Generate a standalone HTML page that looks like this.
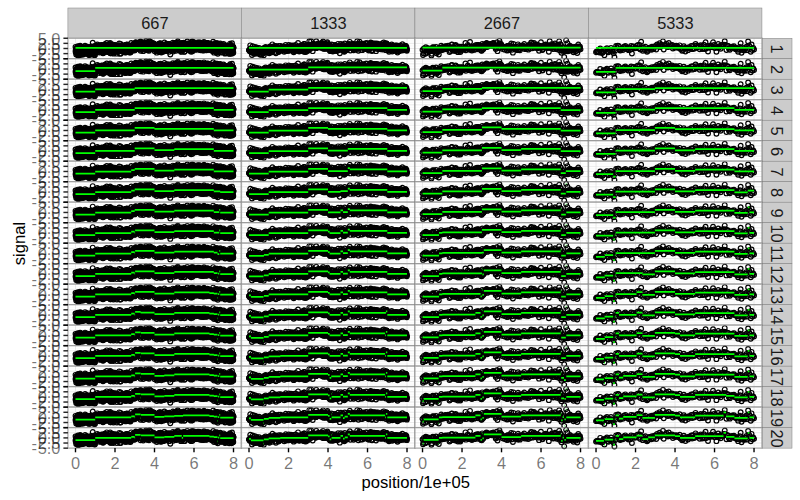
<!DOCTYPE html>
<html lang="en"><head><meta charset="utf-8"><title>signal segmentation</title>
<style>html,body{margin:0;padding:0;background:#fff}svg{display:block}text{font-family:"Liberation Sans",Arial,Helvetica,sans-serif;font-size:16.4px}.ax{fill:#000;fill-opacity:0.54}.st{fill:#1a1a1a}.pt circle{fill:none;stroke:#000;stroke-width:1.2}.seg{fill:none;stroke:#00ff00;stroke-width:1.75}</style></head><body>
<svg width="800" height="500" viewBox="0 0 800 500">
<rect width="800" height="500" fill="#fff"/>
<defs>
<g id="bg"><rect x="0" y="0" width="173.51" height="20.495" fill="#fff"/><line x1="27.35" x2="27.35" y1="0" y2="20.495" stroke="#fafafa" stroke-width="1.2"/><line x1="66.85" x2="66.85" y1="0" y2="20.495" stroke="#fafafa" stroke-width="1.2"/><line x1="106.35" x2="106.35" y1="0" y2="20.495" stroke="#fafafa" stroke-width="1.2"/><line x1="145.85" x2="145.85" y1="0" y2="20.495" stroke="#fafafa" stroke-width="1.2"/><line x1="0" x2="173.51" y1="2.56" y2="2.56" stroke="#fafafa" stroke-width="1.2"/><line x1="0" x2="173.51" y1="7.69" y2="7.69" stroke="#fafafa" stroke-width="1.2"/><line x1="0" x2="173.51" y1="12.81" y2="12.81" stroke="#fafafa" stroke-width="1.2"/><line x1="0" x2="173.51" y1="17.93" y2="17.93" stroke="#fafafa" stroke-width="1.2"/><line x1="7.60" x2="7.60" y1="0" y2="20.495" stroke="#e5e5e5" stroke-width="0.8"/><line x1="47.10" x2="47.10" y1="0" y2="20.495" stroke="#e5e5e5" stroke-width="0.8"/><line x1="86.60" x2="86.60" y1="0" y2="20.495" stroke="#e5e5e5" stroke-width="0.8"/><line x1="126.10" x2="126.10" y1="0" y2="20.495" stroke="#e5e5e5" stroke-width="0.8"/><line x1="165.60" x2="165.60" y1="0" y2="20.495" stroke="#e5e5e5" stroke-width="0.8"/><line x1="0" x2="173.51" y1="5.12" y2="5.12" stroke="#e5e5e5" stroke-width="0.8"/><line x1="0" x2="173.51" y1="10.25" y2="10.25" stroke="#e5e5e5" stroke-width="0.8"/><line x1="0" x2="173.51" y1="15.37" y2="15.37" stroke="#e5e5e5" stroke-width="0.8"/></g>
<g id="p0" class="pt"><circle cx="7.6" cy="8.7" r="2.35"/><circle cx="7.7" cy="13.4" r="2.35"/><circle cx="7.8" cy="12.3" r="2.35"/><circle cx="7.9" cy="11.5" r="2.35"/><circle cx="8.0" cy="14.1" r="2.35"/><circle cx="8.1" cy="12.4" r="2.35"/><circle cx="8.2" cy="12.4" r="2.35"/><circle cx="8.3" cy="16.3" r="2.35"/><circle cx="8.4" cy="10.1" r="2.35"/><circle cx="8.5" cy="11.1" r="2.35"/><circle cx="8.6" cy="13.8" r="2.35"/><circle cx="8.7" cy="12.8" r="2.35"/><circle cx="8.8" cy="11.3" r="2.35"/><circle cx="8.9" cy="13.0" r="2.35"/><circle cx="9.0" cy="12.9" r="2.35"/><circle cx="9.1" cy="15.6" r="2.35"/><circle cx="9.2" cy="11.2" r="2.35"/><circle cx="9.3" cy="12.1" r="2.35"/><circle cx="9.4" cy="11.8" r="2.35"/><circle cx="9.5" cy="15.8" r="2.35"/><circle cx="9.6" cy="8.7" r="2.35"/><circle cx="9.7" cy="12.1" r="2.35"/><circle cx="9.8" cy="13.3" r="2.35"/><circle cx="9.9" cy="7.9" r="2.35"/><circle cx="10.0" cy="12.5" r="2.35"/><circle cx="10.1" cy="15.6" r="2.35"/><circle cx="10.2" cy="13.3" r="2.35"/><circle cx="10.3" cy="17.5" r="2.35"/><circle cx="10.4" cy="10.1" r="2.35"/><circle cx="10.5" cy="13.3" r="2.35"/><circle cx="10.6" cy="14.0" r="2.35"/><circle cx="10.7" cy="10.0" r="2.35"/><circle cx="10.8" cy="16.1" r="2.35"/><circle cx="10.9" cy="11.2" r="2.35"/><circle cx="11.0" cy="17.0" r="2.35"/><circle cx="11.1" cy="13.9" r="2.35"/><circle cx="11.2" cy="15.1" r="2.35"/><circle cx="11.3" cy="9.2" r="2.35"/><circle cx="11.4" cy="8.5" r="2.35"/><circle cx="11.5" cy="13.1" r="2.35"/><circle cx="11.6" cy="10.5" r="2.35"/><circle cx="11.7" cy="12.8" r="2.35"/><circle cx="11.8" cy="11.1" r="2.35"/><circle cx="11.8" cy="14.1" r="2.35"/><circle cx="11.9" cy="16.2" r="2.35"/><circle cx="12.0" cy="16.4" r="2.35"/><circle cx="12.1" cy="11.6" r="2.35"/><circle cx="12.2" cy="7.4" r="2.35"/><circle cx="12.3" cy="11.8" r="2.35"/><circle cx="12.4" cy="13.6" r="2.35"/><circle cx="12.5" cy="8.2" r="2.35"/><circle cx="12.6" cy="11.9" r="2.35"/><circle cx="12.7" cy="12.2" r="2.35"/><circle cx="12.8" cy="11.8" r="2.35"/><circle cx="12.9" cy="12.7" r="2.35"/><circle cx="13.0" cy="13.1" r="2.35"/><circle cx="13.1" cy="15.6" r="2.35"/><circle cx="13.2" cy="11.3" r="2.35"/><circle cx="13.3" cy="12.6" r="2.35"/><circle cx="13.4" cy="9.8" r="2.35"/><circle cx="13.5" cy="13.2" r="2.35"/><circle cx="13.6" cy="16.6" r="2.35"/><circle cx="13.7" cy="12.6" r="2.35"/><circle cx="13.8" cy="8.6" r="2.35"/><circle cx="13.9" cy="13.2" r="2.35"/><circle cx="14.0" cy="14.4" r="2.35"/><circle cx="14.1" cy="15.0" r="2.35"/><circle cx="14.2" cy="14.7" r="2.35"/><circle cx="14.3" cy="13.1" r="2.35"/><circle cx="14.4" cy="15.0" r="2.35"/><circle cx="14.5" cy="9.1" r="2.35"/><circle cx="14.6" cy="13.0" r="2.35"/><circle cx="14.7" cy="12.2" r="2.35"/><circle cx="14.8" cy="9.2" r="2.35"/><circle cx="14.9" cy="9.1" r="2.35"/><circle cx="15.0" cy="12.9" r="2.35"/><circle cx="15.1" cy="11.7" r="2.35"/><circle cx="15.2" cy="10.8" r="2.35"/><circle cx="15.3" cy="12.8" r="2.35"/><circle cx="15.4" cy="16.3" r="2.35"/><circle cx="15.5" cy="11.0" r="2.35"/><circle cx="15.6" cy="10.4" r="2.35"/><circle cx="15.7" cy="11.5" r="2.35"/><circle cx="15.8" cy="14.4" r="2.35"/><circle cx="15.9" cy="12.8" r="2.35"/><circle cx="16.0" cy="13.7" r="2.35"/><circle cx="16.1" cy="13.1" r="2.35"/><circle cx="16.2" cy="9.5" r="2.35"/><circle cx="16.3" cy="9.0" r="2.35"/><circle cx="16.4" cy="10.9" r="2.35"/><circle cx="16.5" cy="11.2" r="2.35"/><circle cx="16.6" cy="10.9" r="2.35"/><circle cx="16.7" cy="12.4" r="2.35"/><circle cx="16.8" cy="12.6" r="2.35"/><circle cx="16.9" cy="13.9" r="2.35"/><circle cx="17.0" cy="12.5" r="2.35"/><circle cx="17.1" cy="7.4" r="2.35"/><circle cx="17.2" cy="10.5" r="2.35"/><circle cx="17.3" cy="13.2" r="2.35"/><circle cx="17.4" cy="13.4" r="2.35"/><circle cx="17.5" cy="14.3" r="2.35"/><circle cx="17.6" cy="11.6" r="2.35"/><circle cx="17.7" cy="11.5" r="2.35"/><circle cx="17.8" cy="15.6" r="2.35"/><circle cx="17.9" cy="11.3" r="2.35"/><circle cx="18.0" cy="13.7" r="2.35"/><circle cx="18.1" cy="9.2" r="2.35"/><circle cx="18.2" cy="12.1" r="2.35"/><circle cx="18.3" cy="8.6" r="2.35"/><circle cx="18.4" cy="13.4" r="2.35"/><circle cx="18.5" cy="13.0" r="2.35"/><circle cx="18.6" cy="11.7" r="2.35"/><circle cx="18.7" cy="10.1" r="2.35"/><circle cx="18.8" cy="11.1" r="2.35"/><circle cx="18.9" cy="15.1" r="2.35"/><circle cx="19.0" cy="12.0" r="2.35"/><circle cx="19.1" cy="12.4" r="2.35"/><circle cx="19.2" cy="13.3" r="2.35"/><circle cx="19.3" cy="13.8" r="2.35"/><circle cx="19.4" cy="8.5" r="2.35"/><circle cx="19.5" cy="13.3" r="2.35"/><circle cx="19.6" cy="14.3" r="2.35"/><circle cx="19.7" cy="11.0" r="2.35"/><circle cx="19.8" cy="12.1" r="2.35"/><circle cx="19.9" cy="12.6" r="2.35"/><circle cx="20.0" cy="10.7" r="2.35"/><circle cx="20.1" cy="11.3" r="2.35"/><circle cx="20.1" cy="11.6" r="2.35"/><circle cx="20.2" cy="10.3" r="2.35"/><circle cx="20.3" cy="11.8" r="2.35"/><circle cx="20.4" cy="13.8" r="2.35"/><circle cx="20.5" cy="13.2" r="2.35"/><circle cx="20.6" cy="13.6" r="2.35"/><circle cx="20.7" cy="11.9" r="2.35"/><circle cx="20.8" cy="14.8" r="2.35"/><circle cx="20.9" cy="16.5" r="2.35"/><circle cx="21.0" cy="12.2" r="2.35"/><circle cx="21.1" cy="15.4" r="2.35"/><circle cx="21.2" cy="16.7" r="2.35"/><circle cx="21.3" cy="11.6" r="2.35"/><circle cx="21.4" cy="14.0" r="2.35"/><circle cx="21.5" cy="11.3" r="2.35"/><circle cx="21.6" cy="13.6" r="2.35"/><circle cx="21.7" cy="14.9" r="2.35"/><circle cx="21.8" cy="15.2" r="2.35"/><circle cx="21.9" cy="13.5" r="2.35"/><circle cx="22.0" cy="13.0" r="2.35"/><circle cx="22.1" cy="14.2" r="2.35"/><circle cx="22.2" cy="13.0" r="2.35"/><circle cx="22.3" cy="15.8" r="2.35"/><circle cx="22.4" cy="12.4" r="2.35"/><circle cx="22.5" cy="16.4" r="2.35"/><circle cx="22.6" cy="12.8" r="2.35"/><circle cx="22.7" cy="10.9" r="2.35"/><circle cx="22.8" cy="10.0" r="2.35"/><circle cx="22.9" cy="8.6" r="2.35"/><circle cx="23.0" cy="15.8" r="2.35"/><circle cx="23.1" cy="10.7" r="2.35"/><circle cx="23.2" cy="9.7" r="2.35"/><circle cx="23.3" cy="10.2" r="2.35"/><circle cx="23.4" cy="14.5" r="2.35"/><circle cx="23.5" cy="11.5" r="2.35"/><circle cx="23.6" cy="8.3" r="2.35"/><circle cx="23.7" cy="15.7" r="2.35"/><circle cx="23.8" cy="11.3" r="2.35"/><circle cx="23.9" cy="9.9" r="2.35"/><circle cx="24.0" cy="13.9" r="2.35"/><circle cx="24.1" cy="11.1" r="2.35"/><circle cx="24.2" cy="14.8" r="2.35"/><circle cx="24.3" cy="14.2" r="2.35"/><circle cx="24.4" cy="14.2" r="2.35"/><circle cx="24.5" cy="12.0" r="2.35"/><circle cx="24.6" cy="12.6" r="2.35"/><circle cx="24.7" cy="10.3" r="2.35"/><circle cx="24.8" cy="4.4" r="2.35"/><circle cx="24.9" cy="12.7" r="2.35"/><circle cx="25.0" cy="10.3" r="2.35"/><circle cx="25.1" cy="11.2" r="2.35"/><circle cx="25.2" cy="15.3" r="2.35"/><circle cx="25.3" cy="10.9" r="2.35"/><circle cx="25.4" cy="13.5" r="2.35"/><circle cx="25.5" cy="11.5" r="2.35"/><circle cx="25.6" cy="11.7" r="2.35"/><circle cx="25.7" cy="9.7" r="2.35"/><circle cx="25.8" cy="12.1" r="2.35"/><circle cx="25.9" cy="16.5" r="2.35"/><circle cx="26.0" cy="15.4" r="2.35"/><circle cx="26.1" cy="10.8" r="2.35"/><circle cx="26.2" cy="13.0" r="2.35"/><circle cx="26.3" cy="9.9" r="2.35"/><circle cx="26.4" cy="11.8" r="2.35"/><circle cx="26.5" cy="14.1" r="2.35"/><circle cx="26.6" cy="10.0" r="2.35"/><circle cx="26.7" cy="14.2" r="2.35"/><circle cx="26.8" cy="16.9" r="2.35"/><circle cx="26.9" cy="7.8" r="2.35"/><circle cx="27.0" cy="16.6" r="2.35"/><circle cx="27.1" cy="11.0" r="2.35"/><circle cx="27.2" cy="10.3" r="2.35"/><circle cx="27.3" cy="12.1" r="2.35"/><circle cx="27.4" cy="13.8" r="2.35"/><circle cx="27.5" cy="7.8" r="2.35"/><circle cx="27.6" cy="13.2" r="2.35"/><circle cx="27.7" cy="13.0" r="2.35"/><circle cx="27.8" cy="10.8" r="2.35"/><circle cx="27.9" cy="8.3" r="2.35"/><circle cx="28.0" cy="9.4" r="2.35"/><circle cx="28.1" cy="8.2" r="2.35"/><circle cx="28.2" cy="11.0" r="2.35"/><circle cx="28.3" cy="10.4" r="2.35"/><circle cx="28.4" cy="12.6" r="2.35"/><circle cx="28.4" cy="10.7" r="2.35"/><circle cx="28.5" cy="8.7" r="2.35"/><circle cx="28.6" cy="10.7" r="2.35"/><circle cx="28.7" cy="9.0" r="2.35"/><circle cx="28.8" cy="11.3" r="2.35"/><circle cx="28.9" cy="11.4" r="2.35"/><circle cx="29.0" cy="10.0" r="2.35"/><circle cx="29.1" cy="10.5" r="2.35"/><circle cx="29.2" cy="8.7" r="2.35"/><circle cx="29.3" cy="9.6" r="2.35"/><circle cx="29.4" cy="6.2" r="2.35"/><circle cx="29.5" cy="10.5" r="2.35"/><circle cx="29.6" cy="10.5" r="2.35"/><circle cx="29.7" cy="12.3" r="2.35"/><circle cx="29.8" cy="10.0" r="2.35"/><circle cx="29.9" cy="8.5" r="2.35"/><circle cx="30.0" cy="11.7" r="2.35"/><circle cx="30.1" cy="10.2" r="2.35"/><circle cx="30.2" cy="8.5" r="2.35"/><circle cx="30.3" cy="10.3" r="2.35"/><circle cx="30.4" cy="11.2" r="2.35"/><circle cx="30.5" cy="7.9" r="2.35"/><circle cx="30.6" cy="9.8" r="2.35"/><circle cx="30.7" cy="9.2" r="2.35"/><circle cx="30.8" cy="7.4" r="2.35"/><circle cx="30.9" cy="7.5" r="2.35"/><circle cx="31.0" cy="10.8" r="2.35"/><circle cx="31.1" cy="11.2" r="2.35"/><circle cx="31.2" cy="9.4" r="2.35"/><circle cx="31.3" cy="10.3" r="2.35"/><circle cx="31.4" cy="14.2" r="2.35"/><circle cx="31.5" cy="7.2" r="2.35"/><circle cx="31.6" cy="10.0" r="2.35"/><circle cx="31.7" cy="8.4" r="2.35"/><circle cx="31.8" cy="12.6" r="2.35"/><circle cx="31.9" cy="7.2" r="2.35"/><circle cx="32.0" cy="11.3" r="2.35"/><circle cx="32.1" cy="10.3" r="2.35"/><circle cx="32.2" cy="13.1" r="2.35"/><circle cx="32.3" cy="10.4" r="2.35"/><circle cx="32.4" cy="10.6" r="2.35"/><circle cx="32.5" cy="10.5" r="2.35"/><circle cx="32.6" cy="9.1" r="2.35"/><circle cx="32.7" cy="9.9" r="2.35"/><circle cx="32.8" cy="7.9" r="2.35"/><circle cx="32.9" cy="11.1" r="2.35"/><circle cx="33.0" cy="12.2" r="2.35"/><circle cx="33.1" cy="10.1" r="2.35"/><circle cx="33.2" cy="8.7" r="2.35"/><circle cx="33.3" cy="7.3" r="2.35"/><circle cx="33.4" cy="8.2" r="2.35"/><circle cx="33.5" cy="14.0" r="2.35"/><circle cx="33.6" cy="9.2" r="2.35"/><circle cx="33.7" cy="6.8" r="2.35"/><circle cx="33.8" cy="9.9" r="2.35"/><circle cx="33.9" cy="11.2" r="2.35"/><circle cx="34.0" cy="9.4" r="2.35"/><circle cx="34.1" cy="11.2" r="2.35"/><circle cx="34.2" cy="8.6" r="2.35"/><circle cx="34.3" cy="10.1" r="2.35"/><circle cx="34.4" cy="7.0" r="2.35"/><circle cx="34.5" cy="8.9" r="2.35"/><circle cx="34.6" cy="11.6" r="2.35"/><circle cx="34.7" cy="8.7" r="2.35"/><circle cx="34.8" cy="8.0" r="2.35"/><circle cx="34.9" cy="11.3" r="2.35"/><circle cx="35.0" cy="11.0" r="2.35"/><circle cx="35.1" cy="15.1" r="2.35"/><circle cx="35.2" cy="8.0" r="2.35"/><circle cx="35.3" cy="11.3" r="2.35"/><circle cx="35.4" cy="14.7" r="2.35"/><circle cx="35.5" cy="14.0" r="2.35"/><circle cx="35.6" cy="10.5" r="2.35"/><circle cx="35.7" cy="8.4" r="2.35"/><circle cx="35.8" cy="10.2" r="2.35"/><circle cx="35.9" cy="9.0" r="2.35"/><circle cx="36.0" cy="12.5" r="2.35"/><circle cx="36.1" cy="13.0" r="2.35"/><circle cx="36.2" cy="8.1" r="2.35"/><circle cx="36.3" cy="9.0" r="2.35"/><circle cx="36.4" cy="10.1" r="2.35"/><circle cx="36.5" cy="7.2" r="2.35"/><circle cx="36.6" cy="12.1" r="2.35"/><circle cx="36.7" cy="11.0" r="2.35"/><circle cx="36.7" cy="7.8" r="2.35"/><circle cx="36.8" cy="6.0" r="2.35"/><circle cx="36.9" cy="10.0" r="2.35"/><circle cx="37.0" cy="6.3" r="2.35"/><circle cx="37.1" cy="11.4" r="2.35"/><circle cx="37.2" cy="9.3" r="2.35"/><circle cx="37.3" cy="10.4" r="2.35"/><circle cx="37.4" cy="13.6" r="2.35"/><circle cx="37.5" cy="9.5" r="2.35"/><circle cx="37.6" cy="8.0" r="2.35"/><circle cx="37.7" cy="10.4" r="2.35"/><circle cx="37.8" cy="10.2" r="2.35"/><circle cx="37.9" cy="7.0" r="2.35"/><circle cx="38.0" cy="12.8" r="2.35"/><circle cx="38.1" cy="13.4" r="2.35"/><circle cx="38.2" cy="11.5" r="2.35"/><circle cx="38.3" cy="12.7" r="2.35"/><circle cx="38.4" cy="7.1" r="2.35"/><circle cx="38.5" cy="9.4" r="2.35"/><circle cx="38.6" cy="12.0" r="2.35"/><circle cx="38.7" cy="11.4" r="2.35"/><circle cx="38.8" cy="4.7" r="2.35"/><circle cx="38.9" cy="11.4" r="2.35"/><circle cx="39.0" cy="11.7" r="2.35"/><circle cx="39.1" cy="9.4" r="2.35"/><circle cx="39.2" cy="8.6" r="2.35"/><circle cx="39.3" cy="9.6" r="2.35"/><circle cx="39.4" cy="12.1" r="2.35"/><circle cx="39.5" cy="12.6" r="2.35"/><circle cx="39.6" cy="8.7" r="2.35"/><circle cx="39.7" cy="10.2" r="2.35"/><circle cx="39.8" cy="13.7" r="2.35"/><circle cx="39.9" cy="7.5" r="2.35"/><circle cx="40.0" cy="8.3" r="2.35"/><circle cx="40.1" cy="10.6" r="2.35"/><circle cx="40.2" cy="10.6" r="2.35"/><circle cx="40.3" cy="9.5" r="2.35"/><circle cx="40.4" cy="11.6" r="2.35"/><circle cx="40.5" cy="13.0" r="2.35"/><circle cx="40.6" cy="9.3" r="2.35"/><circle cx="40.7" cy="13.2" r="2.35"/><circle cx="40.8" cy="9.2" r="2.35"/><circle cx="40.9" cy="13.2" r="2.35"/><circle cx="41.0" cy="10.3" r="2.35"/><circle cx="41.1" cy="10.3" r="2.35"/><circle cx="41.2" cy="6.1" r="2.35"/><circle cx="41.3" cy="12.4" r="2.35"/><circle cx="41.4" cy="13.2" r="2.35"/><circle cx="41.5" cy="11.5" r="2.35"/><circle cx="41.6" cy="12.5" r="2.35"/><circle cx="41.7" cy="11.3" r="2.35"/><circle cx="41.8" cy="9.1" r="2.35"/><circle cx="41.9" cy="8.3" r="2.35"/><circle cx="42.0" cy="6.4" r="2.35"/><circle cx="42.1" cy="11.7" r="2.35"/><circle cx="42.2" cy="4.7" r="2.35"/><circle cx="42.3" cy="5.7" r="2.35"/><circle cx="42.4" cy="10.5" r="2.35"/><circle cx="42.5" cy="15.1" r="2.35"/><circle cx="42.6" cy="10.2" r="2.35"/><circle cx="42.7" cy="9.9" r="2.35"/><circle cx="42.8" cy="15.1" r="2.35"/><circle cx="42.9" cy="9.9" r="2.35"/><circle cx="43.0" cy="10.5" r="2.35"/><circle cx="43.1" cy="11.8" r="2.35"/><circle cx="43.2" cy="8.7" r="2.35"/><circle cx="43.3" cy="7.8" r="2.35"/><circle cx="43.4" cy="11.1" r="2.35"/><circle cx="43.5" cy="9.5" r="2.35"/><circle cx="43.6" cy="11.5" r="2.35"/><circle cx="43.7" cy="11.8" r="2.35"/><circle cx="43.8" cy="9.9" r="2.35"/><circle cx="43.9" cy="8.9" r="2.35"/><circle cx="44.0" cy="11.3" r="2.35"/><circle cx="44.1" cy="14.9" r="2.35"/><circle cx="44.2" cy="8.7" r="2.35"/><circle cx="44.3" cy="13.6" r="2.35"/><circle cx="44.4" cy="9.8" r="2.35"/><circle cx="44.5" cy="6.1" r="2.35"/><circle cx="44.6" cy="10.1" r="2.35"/><circle cx="44.7" cy="12.7" r="2.35"/><circle cx="44.8" cy="13.3" r="2.35"/><circle cx="44.9" cy="7.5" r="2.35"/><circle cx="45.0" cy="10.1" r="2.35"/><circle cx="45.0" cy="8.8" r="2.35"/><circle cx="45.1" cy="8.0" r="2.35"/><circle cx="45.2" cy="10.2" r="2.35"/><circle cx="45.3" cy="10.7" r="2.35"/><circle cx="45.4" cy="12.1" r="2.35"/><circle cx="45.5" cy="15.4" r="2.35"/><circle cx="45.6" cy="13.4" r="2.35"/><circle cx="45.7" cy="10.2" r="2.35"/><circle cx="45.8" cy="10.4" r="2.35"/><circle cx="45.9" cy="9.1" r="2.35"/><circle cx="46.0" cy="10.3" r="2.35"/><circle cx="46.1" cy="9.7" r="2.35"/><circle cx="46.2" cy="8.3" r="2.35"/><circle cx="46.3" cy="12.0" r="2.35"/><circle cx="46.4" cy="10.7" r="2.35"/><circle cx="46.5" cy="13.6" r="2.35"/><circle cx="46.6" cy="7.9" r="2.35"/><circle cx="46.7" cy="10.0" r="2.35"/><circle cx="46.8" cy="9.0" r="2.35"/><circle cx="46.9" cy="6.6" r="2.35"/><circle cx="47.0" cy="7.7" r="2.35"/><circle cx="47.1" cy="10.2" r="2.35"/><circle cx="47.2" cy="8.3" r="2.35"/><circle cx="47.3" cy="13.2" r="2.35"/><circle cx="47.4" cy="9.1" r="2.35"/><circle cx="47.5" cy="9.7" r="2.35"/><circle cx="47.6" cy="13.6" r="2.35"/><circle cx="47.7" cy="7.1" r="2.35"/><circle cx="47.8" cy="11.6" r="2.35"/><circle cx="47.9" cy="8.5" r="2.35"/><circle cx="48.0" cy="11.0" r="2.35"/><circle cx="48.1" cy="7.8" r="2.35"/><circle cx="48.2" cy="7.1" r="2.35"/><circle cx="48.3" cy="11.9" r="2.35"/><circle cx="48.4" cy="13.4" r="2.35"/><circle cx="48.5" cy="10.3" r="2.35"/><circle cx="48.6" cy="8.2" r="2.35"/><circle cx="48.7" cy="10.9" r="2.35"/><circle cx="48.8" cy="11.4" r="2.35"/><circle cx="48.9" cy="9.0" r="2.35"/><circle cx="49.0" cy="15.4" r="2.35"/><circle cx="49.1" cy="11.5" r="2.35"/><circle cx="49.2" cy="13.1" r="2.35"/><circle cx="49.3" cy="9.4" r="2.35"/><circle cx="49.4" cy="11.7" r="2.35"/><circle cx="49.5" cy="12.5" r="2.35"/><circle cx="49.6" cy="10.8" r="2.35"/><circle cx="49.7" cy="13.3" r="2.35"/><circle cx="49.8" cy="10.1" r="2.35"/><circle cx="49.9" cy="11.6" r="2.35"/><circle cx="50.0" cy="10.9" r="2.35"/><circle cx="50.1" cy="11.6" r="2.35"/><circle cx="50.2" cy="8.0" r="2.35"/><circle cx="50.3" cy="10.3" r="2.35"/><circle cx="50.4" cy="8.9" r="2.35"/><circle cx="50.5" cy="9.0" r="2.35"/><circle cx="50.6" cy="11.8" r="2.35"/><circle cx="50.7" cy="8.8" r="2.35"/><circle cx="50.8" cy="9.3" r="2.35"/><circle cx="50.9" cy="9.3" r="2.35"/><circle cx="51.0" cy="10.9" r="2.35"/><circle cx="51.1" cy="11.0" r="2.35"/><circle cx="51.2" cy="8.3" r="2.35"/><circle cx="51.3" cy="5.2" r="2.35"/><circle cx="51.4" cy="11.9" r="2.35"/><circle cx="51.5" cy="8.9" r="2.35"/><circle cx="51.6" cy="10.9" r="2.35"/><circle cx="51.7" cy="8.3" r="2.35"/><circle cx="51.8" cy="9.1" r="2.35"/><circle cx="51.9" cy="7.7" r="2.35"/><circle cx="52.0" cy="15.4" r="2.35"/><circle cx="52.1" cy="11.4" r="2.35"/><circle cx="52.2" cy="12.2" r="2.35"/><circle cx="52.3" cy="10.3" r="2.35"/><circle cx="52.4" cy="11.6" r="2.35"/><circle cx="52.5" cy="11.5" r="2.35"/><circle cx="52.6" cy="8.5" r="2.35"/><circle cx="52.7" cy="5.8" r="2.35"/><circle cx="52.8" cy="15.4" r="2.35"/><circle cx="52.9" cy="10.7" r="2.35"/><circle cx="53.0" cy="9.4" r="2.35"/><circle cx="53.1" cy="10.0" r="2.35"/><circle cx="53.2" cy="10.8" r="2.35"/><circle cx="53.3" cy="13.0" r="2.35"/><circle cx="53.3" cy="12.1" r="2.35"/><circle cx="53.4" cy="8.4" r="2.35"/><circle cx="53.5" cy="7.7" r="2.35"/><circle cx="53.6" cy="9.8" r="2.35"/><circle cx="53.7" cy="11.9" r="2.35"/><circle cx="53.8" cy="9.8" r="2.35"/><circle cx="53.9" cy="10.6" r="2.35"/><circle cx="54.0" cy="8.8" r="2.35"/><circle cx="54.1" cy="9.8" r="2.35"/><circle cx="54.2" cy="11.4" r="2.35"/><circle cx="54.3" cy="9.6" r="2.35"/><circle cx="54.4" cy="12.7" r="2.35"/><circle cx="54.5" cy="8.2" r="2.35"/><circle cx="54.6" cy="7.4" r="2.35"/><circle cx="54.7" cy="12.7" r="2.35"/><circle cx="54.8" cy="9.1" r="2.35"/><circle cx="54.9" cy="12.2" r="2.35"/><circle cx="55.0" cy="7.7" r="2.35"/><circle cx="55.1" cy="8.0" r="2.35"/><circle cx="55.2" cy="10.6" r="2.35"/><circle cx="55.3" cy="7.8" r="2.35"/><circle cx="55.4" cy="11.0" r="2.35"/><circle cx="55.5" cy="11.5" r="2.35"/><circle cx="55.6" cy="11.3" r="2.35"/><circle cx="55.7" cy="10.4" r="2.35"/><circle cx="55.8" cy="10.8" r="2.35"/><circle cx="55.9" cy="9.7" r="2.35"/><circle cx="56.0" cy="11.4" r="2.35"/><circle cx="56.1" cy="8.3" r="2.35"/><circle cx="56.2" cy="7.8" r="2.35"/><circle cx="56.3" cy="11.1" r="2.35"/><circle cx="56.4" cy="13.2" r="2.35"/><circle cx="56.5" cy="8.4" r="2.35"/><circle cx="56.6" cy="7.5" r="2.35"/><circle cx="56.7" cy="10.4" r="2.35"/><circle cx="56.8" cy="12.9" r="2.35"/><circle cx="56.9" cy="9.5" r="2.35"/><circle cx="57.0" cy="6.7" r="2.35"/><circle cx="57.1" cy="14.2" r="2.35"/><circle cx="57.2" cy="9.0" r="2.35"/><circle cx="57.3" cy="10.7" r="2.35"/><circle cx="57.4" cy="11.9" r="2.35"/><circle cx="57.5" cy="8.9" r="2.35"/><circle cx="57.6" cy="12.9" r="2.35"/><circle cx="57.7" cy="9.4" r="2.35"/><circle cx="57.8" cy="7.1" r="2.35"/><circle cx="57.9" cy="9.7" r="2.35"/><circle cx="58.0" cy="12.0" r="2.35"/><circle cx="58.1" cy="14.0" r="2.35"/><circle cx="58.2" cy="12.9" r="2.35"/><circle cx="58.3" cy="14.1" r="2.35"/><circle cx="58.4" cy="6.5" r="2.35"/><circle cx="58.5" cy="10.6" r="2.35"/><circle cx="58.6" cy="12.4" r="2.35"/><circle cx="58.7" cy="12.9" r="2.35"/><circle cx="58.8" cy="12.4" r="2.35"/><circle cx="58.9" cy="10.8" r="2.35"/><circle cx="59.0" cy="12.9" r="2.35"/><circle cx="59.1" cy="6.3" r="2.35"/><circle cx="59.2" cy="11.7" r="2.35"/><circle cx="59.3" cy="11.8" r="2.35"/><circle cx="59.4" cy="9.4" r="2.35"/><circle cx="59.5" cy="6.8" r="2.35"/><circle cx="59.6" cy="7.1" r="2.35"/><circle cx="59.7" cy="11.1" r="2.35"/><circle cx="59.8" cy="9.5" r="2.35"/><circle cx="59.9" cy="9.7" r="2.35"/><circle cx="60.0" cy="8.9" r="2.35"/><circle cx="60.1" cy="9.5" r="2.35"/><circle cx="60.2" cy="12.1" r="2.35"/><circle cx="60.3" cy="12.8" r="2.35"/><circle cx="60.4" cy="9.7" r="2.35"/><circle cx="60.5" cy="12.7" r="2.35"/><circle cx="60.6" cy="7.0" r="2.35"/><circle cx="60.7" cy="10.0" r="2.35"/><circle cx="60.8" cy="12.3" r="2.35"/><circle cx="60.9" cy="10.8" r="2.35"/><circle cx="61.0" cy="11.2" r="2.35"/><circle cx="61.1" cy="10.3" r="2.35"/><circle cx="61.2" cy="7.9" r="2.35"/><circle cx="61.3" cy="13.2" r="2.35"/><circle cx="61.4" cy="14.2" r="2.35"/><circle cx="61.5" cy="9.3" r="2.35"/><circle cx="61.6" cy="10.4" r="2.35"/><circle cx="61.7" cy="9.7" r="2.35"/><circle cx="61.7" cy="9.1" r="2.35"/><circle cx="61.8" cy="10.4" r="2.35"/><circle cx="61.9" cy="8.3" r="2.35"/><circle cx="62.0" cy="12.0" r="2.35"/><circle cx="62.1" cy="9.9" r="2.35"/><circle cx="62.2" cy="11.9" r="2.35"/><circle cx="62.3" cy="12.5" r="2.35"/><circle cx="62.4" cy="8.7" r="2.35"/><circle cx="62.5" cy="8.8" r="2.35"/><circle cx="62.6" cy="14.3" r="2.35"/><circle cx="62.7" cy="12.5" r="2.35"/><circle cx="62.8" cy="9.4" r="2.35"/><circle cx="62.9" cy="7.7" r="2.35"/><circle cx="63.0" cy="11.5" r="2.35"/><circle cx="63.1" cy="10.4" r="2.35"/><circle cx="63.2" cy="13.2" r="2.35"/><circle cx="63.3" cy="4.7" r="2.35"/><circle cx="63.4" cy="9.0" r="2.35"/><circle cx="63.5" cy="8.1" r="2.35"/><circle cx="63.6" cy="8.6" r="2.35"/><circle cx="63.7" cy="8.0" r="2.35"/><circle cx="63.8" cy="8.7" r="2.35"/><circle cx="63.9" cy="10.8" r="2.35"/><circle cx="64.0" cy="8.4" r="2.35"/><circle cx="64.1" cy="9.9" r="2.35"/><circle cx="64.2" cy="7.2" r="2.35"/><circle cx="64.3" cy="11.7" r="2.35"/><circle cx="64.4" cy="11.2" r="2.35"/><circle cx="64.5" cy="8.6" r="2.35"/><circle cx="64.6" cy="7.2" r="2.35"/><circle cx="64.7" cy="9.7" r="2.35"/><circle cx="64.8" cy="11.6" r="2.35"/><circle cx="64.9" cy="10.3" r="2.35"/><circle cx="65.0" cy="11.1" r="2.35"/><circle cx="65.1" cy="5.8" r="2.35"/><circle cx="65.2" cy="8.1" r="2.35"/><circle cx="65.3" cy="7.2" r="2.35"/><circle cx="65.4" cy="9.4" r="2.35"/><circle cx="65.5" cy="11.3" r="2.35"/><circle cx="65.6" cy="7.4" r="2.35"/><circle cx="65.7" cy="6.4" r="2.35"/><circle cx="65.8" cy="8.8" r="2.35"/><circle cx="65.9" cy="10.1" r="2.35"/><circle cx="66.0" cy="7.6" r="2.35"/><circle cx="66.1" cy="10.9" r="2.35"/><circle cx="66.2" cy="8.4" r="2.35"/><circle cx="66.3" cy="11.6" r="2.35"/><circle cx="66.4" cy="12.2" r="2.35"/><circle cx="66.5" cy="8.8" r="2.35"/><circle cx="66.6" cy="9.3" r="2.35"/><circle cx="66.7" cy="5.8" r="2.35"/><circle cx="66.8" cy="10.7" r="2.35"/><circle cx="66.9" cy="7.5" r="2.35"/><circle cx="67.0" cy="10.1" r="2.35"/><circle cx="67.1" cy="11.7" r="2.35"/><circle cx="67.2" cy="11.5" r="2.35"/><circle cx="67.3" cy="6.6" r="2.35"/><circle cx="67.4" cy="10.2" r="2.35"/><circle cx="67.5" cy="5.1" r="2.35"/><circle cx="67.6" cy="4.4" r="2.35"/><circle cx="67.7" cy="8.2" r="2.35"/><circle cx="67.8" cy="3.9" r="2.35"/><circle cx="67.9" cy="7.1" r="2.35"/><circle cx="68.0" cy="5.1" r="2.35"/><circle cx="68.1" cy="8.1" r="2.35"/><circle cx="68.2" cy="5.5" r="2.35"/><circle cx="68.3" cy="9.7" r="2.35"/><circle cx="68.4" cy="6.2" r="2.35"/><circle cx="68.5" cy="8.6" r="2.35"/><circle cx="68.6" cy="7.9" r="2.35"/><circle cx="68.7" cy="6.2" r="2.35"/><circle cx="68.8" cy="7.2" r="2.35"/><circle cx="68.9" cy="7.7" r="2.35"/><circle cx="69.0" cy="6.0" r="2.35"/><circle cx="69.1" cy="5.8" r="2.35"/><circle cx="69.2" cy="10.6" r="2.35"/><circle cx="69.3" cy="6.3" r="2.35"/><circle cx="69.4" cy="6.1" r="2.35"/><circle cx="69.5" cy="9.2" r="2.35"/><circle cx="69.6" cy="6.7" r="2.35"/><circle cx="69.7" cy="10.5" r="2.35"/><circle cx="69.8" cy="4.4" r="2.35"/><circle cx="69.9" cy="8.1" r="2.35"/><circle cx="70.0" cy="7.8" r="2.35"/><circle cx="70.0" cy="4.9" r="2.35"/><circle cx="70.1" cy="7.9" r="2.35"/><circle cx="70.2" cy="6.3" r="2.35"/><circle cx="70.3" cy="9.9" r="2.35"/><circle cx="70.4" cy="8.8" r="2.35"/><circle cx="70.5" cy="10.7" r="2.35"/><circle cx="70.6" cy="8.0" r="2.35"/><circle cx="70.7" cy="5.3" r="2.35"/><circle cx="70.8" cy="7.1" r="2.35"/><circle cx="70.9" cy="5.6" r="2.35"/><circle cx="71.0" cy="9.9" r="2.35"/><circle cx="71.1" cy="9.5" r="2.35"/><circle cx="71.2" cy="8.6" r="2.35"/><circle cx="71.3" cy="6.3" r="2.35"/><circle cx="71.4" cy="6.8" r="2.35"/><circle cx="71.5" cy="7.6" r="2.35"/><circle cx="71.6" cy="6.2" r="2.35"/><circle cx="71.7" cy="7.9" r="2.35"/><circle cx="71.8" cy="7.6" r="2.35"/><circle cx="71.9" cy="4.7" r="2.35"/><circle cx="72.0" cy="8.9" r="2.35"/><circle cx="72.1" cy="7.2" r="2.35"/><circle cx="72.2" cy="4.0" r="2.35"/><circle cx="72.3" cy="7.4" r="2.35"/><circle cx="72.4" cy="6.0" r="2.35"/><circle cx="72.5" cy="8.9" r="2.35"/><circle cx="72.6" cy="3.3" r="2.35"/><circle cx="72.7" cy="12.6" r="2.35"/><circle cx="72.8" cy="10.1" r="2.35"/><circle cx="72.9" cy="9.9" r="2.35"/><circle cx="73.0" cy="4.0" r="2.35"/><circle cx="73.1" cy="6.8" r="2.35"/><circle cx="73.2" cy="8.2" r="2.35"/><circle cx="73.3" cy="10.4" r="2.35"/><circle cx="73.4" cy="6.8" r="2.35"/><circle cx="73.5" cy="7.3" r="2.35"/><circle cx="73.6" cy="9.1" r="2.35"/><circle cx="73.7" cy="10.9" r="2.35"/><circle cx="73.8" cy="10.0" r="2.35"/><circle cx="73.9" cy="7.1" r="2.35"/><circle cx="74.0" cy="6.9" r="2.35"/><circle cx="74.1" cy="7.4" r="2.35"/><circle cx="74.2" cy="7.9" r="2.35"/><circle cx="74.3" cy="11.5" r="2.35"/><circle cx="74.4" cy="7.5" r="2.35"/><circle cx="74.5" cy="9.9" r="2.35"/><circle cx="74.6" cy="7.5" r="2.35"/><circle cx="74.7" cy="6.6" r="2.35"/><circle cx="74.8" cy="9.1" r="2.35"/><circle cx="74.9" cy="9.8" r="2.35"/><circle cx="75.0" cy="5.4" r="2.35"/><circle cx="75.1" cy="6.8" r="2.35"/><circle cx="75.2" cy="9.0" r="2.35"/><circle cx="75.3" cy="12.9" r="2.35"/><circle cx="75.4" cy="7.7" r="2.35"/><circle cx="75.5" cy="6.2" r="2.35"/><circle cx="75.6" cy="5.1" r="2.35"/><circle cx="75.7" cy="9.1" r="2.35"/><circle cx="75.8" cy="9.0" r="2.35"/><circle cx="75.9" cy="8.6" r="2.35"/><circle cx="76.0" cy="5.7" r="2.35"/><circle cx="76.1" cy="10.2" r="2.35"/><circle cx="76.2" cy="7.8" r="2.35"/><circle cx="76.3" cy="9.6" r="2.35"/><circle cx="76.4" cy="7.0" r="2.35"/><circle cx="76.5" cy="11.0" r="2.35"/><circle cx="76.6" cy="6.8" r="2.35"/><circle cx="76.7" cy="8.7" r="2.35"/><circle cx="76.8" cy="8.1" r="2.35"/><circle cx="76.9" cy="6.4" r="2.35"/><circle cx="77.0" cy="5.1" r="2.35"/><circle cx="77.1" cy="11.3" r="2.35"/><circle cx="77.2" cy="5.4" r="2.35"/><circle cx="77.3" cy="6.3" r="2.35"/><circle cx="77.4" cy="8.2" r="2.35"/><circle cx="77.5" cy="4.5" r="2.35"/><circle cx="77.6" cy="7.2" r="2.35"/><circle cx="77.7" cy="4.7" r="2.35"/><circle cx="77.8" cy="8.9" r="2.35"/><circle cx="77.9" cy="9.5" r="2.35"/><circle cx="78.0" cy="4.9" r="2.35"/><circle cx="78.1" cy="2.8" r="2.35"/><circle cx="78.2" cy="6.2" r="2.35"/><circle cx="78.3" cy="5.6" r="2.35"/><circle cx="78.3" cy="8.6" r="2.35"/><circle cx="78.4" cy="10.5" r="2.35"/><circle cx="78.5" cy="8.1" r="2.35"/><circle cx="78.6" cy="4.3" r="2.35"/><circle cx="78.7" cy="11.7" r="2.35"/><circle cx="78.8" cy="8.7" r="2.35"/><circle cx="78.9" cy="11.8" r="2.35"/><circle cx="79.0" cy="7.3" r="2.35"/><circle cx="79.1" cy="5.6" r="2.35"/><circle cx="79.2" cy="10.3" r="2.35"/><circle cx="79.3" cy="8.5" r="2.35"/><circle cx="79.4" cy="4.6" r="2.35"/><circle cx="79.5" cy="7.8" r="2.35"/><circle cx="79.6" cy="10.3" r="2.35"/><circle cx="79.7" cy="10.5" r="2.35"/><circle cx="79.8" cy="12.0" r="2.35"/><circle cx="79.9" cy="5.9" r="2.35"/><circle cx="80.0" cy="9.2" r="2.35"/><circle cx="80.1" cy="5.3" r="2.35"/><circle cx="80.2" cy="5.7" r="2.35"/><circle cx="80.3" cy="9.0" r="2.35"/><circle cx="80.4" cy="8.8" r="2.35"/><circle cx="80.5" cy="5.9" r="2.35"/><circle cx="80.6" cy="7.3" r="2.35"/><circle cx="80.7" cy="7.0" r="2.35"/><circle cx="80.8" cy="11.2" r="2.35"/><circle cx="80.9" cy="5.6" r="2.35"/><circle cx="81.0" cy="9.5" r="2.35"/><circle cx="81.1" cy="12.6" r="2.35"/><circle cx="81.2" cy="8.9" r="2.35"/><circle cx="81.3" cy="6.6" r="2.35"/><circle cx="81.4" cy="2.9" r="2.35"/><circle cx="81.5" cy="8.4" r="2.35"/><circle cx="81.6" cy="10.5" r="2.35"/><circle cx="81.7" cy="2.9" r="2.35"/><circle cx="81.8" cy="7.2" r="2.35"/><circle cx="81.9" cy="8.2" r="2.35"/><circle cx="82.0" cy="10.0" r="2.35"/><circle cx="82.1" cy="9.8" r="2.35"/><circle cx="82.2" cy="4.3" r="2.35"/><circle cx="82.3" cy="8.2" r="2.35"/><circle cx="82.4" cy="8.8" r="2.35"/><circle cx="82.5" cy="8.7" r="2.35"/><circle cx="82.6" cy="4.1" r="2.35"/><circle cx="82.7" cy="8.9" r="2.35"/><circle cx="82.8" cy="6.2" r="2.35"/><circle cx="82.9" cy="7.0" r="2.35"/><circle cx="83.0" cy="7.1" r="2.35"/><circle cx="83.1" cy="9.5" r="2.35"/><circle cx="83.2" cy="6.1" r="2.35"/><circle cx="83.3" cy="4.0" r="2.35"/><circle cx="83.4" cy="7.7" r="2.35"/><circle cx="83.5" cy="9.6" r="2.35"/><circle cx="83.6" cy="10.4" r="2.35"/><circle cx="83.7" cy="7.2" r="2.35"/><circle cx="83.8" cy="8.2" r="2.35"/><circle cx="83.9" cy="7.8" r="2.35"/><circle cx="84.0" cy="7.6" r="2.35"/><circle cx="84.1" cy="10.8" r="2.35"/><circle cx="84.2" cy="5.9" r="2.35"/><circle cx="84.3" cy="7.1" r="2.35"/><circle cx="84.4" cy="7.7" r="2.35"/><circle cx="84.5" cy="7.1" r="2.35"/><circle cx="84.6" cy="5.5" r="2.35"/><circle cx="84.7" cy="7.5" r="2.35"/><circle cx="84.8" cy="9.5" r="2.35"/><circle cx="84.9" cy="5.0" r="2.35"/><circle cx="85.0" cy="8.5" r="2.35"/><circle cx="85.1" cy="9.2" r="2.35"/><circle cx="85.2" cy="11.0" r="2.35"/><circle cx="85.3" cy="7.6" r="2.35"/><circle cx="85.4" cy="9.9" r="2.35"/><circle cx="85.5" cy="8.7" r="2.35"/><circle cx="85.6" cy="6.6" r="2.35"/><circle cx="85.7" cy="7.5" r="2.35"/><circle cx="85.8" cy="5.3" r="2.35"/><circle cx="85.9" cy="6.9" r="2.35"/><circle cx="86.0" cy="8.5" r="2.35"/><circle cx="86.1" cy="8.3" r="2.35"/><circle cx="86.2" cy="8.7" r="2.35"/><circle cx="86.3" cy="6.2" r="2.35"/><circle cx="86.4" cy="7.5" r="2.35"/><circle cx="86.5" cy="8.5" r="2.35"/><circle cx="86.6" cy="5.7" r="2.35"/><circle cx="86.6" cy="9.4" r="2.35"/><circle cx="86.7" cy="10.7" r="2.35"/><circle cx="86.8" cy="13.0" r="2.35"/><circle cx="86.9" cy="8.7" r="2.35"/><circle cx="87.0" cy="9.1" r="2.35"/><circle cx="87.1" cy="9.5" r="2.35"/><circle cx="87.2" cy="10.6" r="2.35"/><circle cx="87.3" cy="11.5" r="2.35"/><circle cx="87.4" cy="10.1" r="2.35"/><circle cx="87.5" cy="9.1" r="2.35"/><circle cx="87.6" cy="9.9" r="2.35"/><circle cx="87.7" cy="10.0" r="2.35"/><circle cx="87.8" cy="10.7" r="2.35"/><circle cx="87.9" cy="8.9" r="2.35"/><circle cx="88.0" cy="9.1" r="2.35"/><circle cx="88.1" cy="11.3" r="2.35"/><circle cx="88.2" cy="7.9" r="2.35"/><circle cx="88.3" cy="7.9" r="2.35"/><circle cx="88.4" cy="7.8" r="2.35"/><circle cx="88.5" cy="9.9" r="2.35"/><circle cx="88.6" cy="10.1" r="2.35"/><circle cx="88.7" cy="12.2" r="2.35"/><circle cx="88.8" cy="8.0" r="2.35"/><circle cx="88.9" cy="14.4" r="2.35"/><circle cx="89.0" cy="10.5" r="2.35"/><circle cx="89.1" cy="10.4" r="2.35"/><circle cx="89.2" cy="7.7" r="2.35"/><circle cx="89.3" cy="9.6" r="2.35"/><circle cx="89.4" cy="11.8" r="2.35"/><circle cx="89.5" cy="12.8" r="2.35"/><circle cx="89.6" cy="11.2" r="2.35"/><circle cx="89.7" cy="9.4" r="2.35"/><circle cx="89.8" cy="9.5" r="2.35"/><circle cx="89.9" cy="10.1" r="2.35"/><circle cx="90.0" cy="11.1" r="2.35"/><circle cx="90.1" cy="10.1" r="2.35"/><circle cx="90.2" cy="7.4" r="2.35"/><circle cx="90.3" cy="12.1" r="2.35"/><circle cx="90.4" cy="9.6" r="2.35"/><circle cx="90.5" cy="6.1" r="2.35"/><circle cx="90.6" cy="8.4" r="2.35"/><circle cx="90.7" cy="10.6" r="2.35"/><circle cx="90.8" cy="8.2" r="2.35"/><circle cx="90.9" cy="11.3" r="2.35"/><circle cx="91.0" cy="9.6" r="2.35"/><circle cx="91.1" cy="6.2" r="2.35"/><circle cx="91.2" cy="5.4" r="2.35"/><circle cx="91.3" cy="13.4" r="2.35"/><circle cx="91.4" cy="8.1" r="2.35"/><circle cx="91.5" cy="5.3" r="2.35"/><circle cx="91.6" cy="10.8" r="2.35"/><circle cx="91.7" cy="9.1" r="2.35"/><circle cx="91.8" cy="6.3" r="2.35"/><circle cx="91.9" cy="10.7" r="2.35"/><circle cx="92.0" cy="8.6" r="2.35"/><circle cx="92.1" cy="9.8" r="2.35"/><circle cx="92.2" cy="13.9" r="2.35"/><circle cx="92.3" cy="8.9" r="2.35"/><circle cx="92.4" cy="10.0" r="2.35"/><circle cx="92.5" cy="7.6" r="2.35"/><circle cx="92.6" cy="5.0" r="2.35"/><circle cx="92.7" cy="8.1" r="2.35"/><circle cx="92.8" cy="10.4" r="2.35"/><circle cx="92.9" cy="8.6" r="2.35"/><circle cx="93.0" cy="9.2" r="2.35"/><circle cx="93.1" cy="7.4" r="2.35"/><circle cx="93.2" cy="12.8" r="2.35"/><circle cx="93.3" cy="12.2" r="2.35"/><circle cx="93.4" cy="14.2" r="2.35"/><circle cx="93.5" cy="8.3" r="2.35"/><circle cx="93.6" cy="9.7" r="2.35"/><circle cx="93.7" cy="11.0" r="2.35"/><circle cx="93.8" cy="11.2" r="2.35"/><circle cx="93.9" cy="10.9" r="2.35"/><circle cx="94.0" cy="11.7" r="2.35"/><circle cx="94.1" cy="10.3" r="2.35"/><circle cx="94.2" cy="10.7" r="2.35"/><circle cx="94.3" cy="6.6" r="2.35"/><circle cx="94.4" cy="8.9" r="2.35"/><circle cx="94.5" cy="11.4" r="2.35"/><circle cx="94.6" cy="10.9" r="2.35"/><circle cx="94.7" cy="7.0" r="2.35"/><circle cx="94.8" cy="8.6" r="2.35"/><circle cx="94.9" cy="9.0" r="2.35"/><circle cx="94.9" cy="8.0" r="2.35"/><circle cx="95.0" cy="6.1" r="2.35"/><circle cx="95.1" cy="12.3" r="2.35"/><circle cx="95.2" cy="11.3" r="2.35"/><circle cx="95.3" cy="13.5" r="2.35"/><circle cx="95.4" cy="8.5" r="2.35"/><circle cx="95.5" cy="10.5" r="2.35"/><circle cx="95.6" cy="11.1" r="2.35"/><circle cx="95.7" cy="11.3" r="2.35"/><circle cx="95.8" cy="8.1" r="2.35"/><circle cx="95.9" cy="9.9" r="2.35"/><circle cx="96.0" cy="10.8" r="2.35"/><circle cx="96.1" cy="6.9" r="2.35"/><circle cx="96.2" cy="11.9" r="2.35"/><circle cx="96.3" cy="12.4" r="2.35"/><circle cx="96.4" cy="4.3" r="2.35"/><circle cx="96.5" cy="10.4" r="2.35"/><circle cx="96.6" cy="10.8" r="2.35"/><circle cx="96.7" cy="11.2" r="2.35"/><circle cx="96.8" cy="9.9" r="2.35"/><circle cx="96.9" cy="7.9" r="2.35"/><circle cx="97.0" cy="8.0" r="2.35"/><circle cx="97.1" cy="8.4" r="2.35"/><circle cx="97.2" cy="10.2" r="2.35"/><circle cx="97.3" cy="12.9" r="2.35"/><circle cx="97.4" cy="9.0" r="2.35"/><circle cx="97.5" cy="6.3" r="2.35"/><circle cx="97.6" cy="7.3" r="2.35"/><circle cx="97.7" cy="10.0" r="2.35"/><circle cx="97.8" cy="7.9" r="2.35"/><circle cx="97.9" cy="10.5" r="2.35"/><circle cx="98.0" cy="9.8" r="2.35"/><circle cx="98.1" cy="12.4" r="2.35"/><circle cx="98.2" cy="10.3" r="2.35"/><circle cx="98.3" cy="9.3" r="2.35"/><circle cx="98.4" cy="10.0" r="2.35"/><circle cx="98.5" cy="7.9" r="2.35"/><circle cx="98.6" cy="5.5" r="2.35"/><circle cx="98.7" cy="6.7" r="2.35"/><circle cx="98.8" cy="10.3" r="2.35"/><circle cx="98.9" cy="11.3" r="2.35"/><circle cx="99.0" cy="11.1" r="2.35"/><circle cx="99.1" cy="11.8" r="2.35"/><circle cx="99.2" cy="9.6" r="2.35"/><circle cx="99.3" cy="8.7" r="2.35"/><circle cx="99.4" cy="9.2" r="2.35"/><circle cx="99.5" cy="9.2" r="2.35"/><circle cx="99.6" cy="9.3" r="2.35"/><circle cx="99.7" cy="9.9" r="2.35"/><circle cx="99.8" cy="11.3" r="2.35"/><circle cx="99.9" cy="5.8" r="2.35"/><circle cx="100.0" cy="7.3" r="2.35"/><circle cx="100.1" cy="11.6" r="2.35"/><circle cx="100.2" cy="11.6" r="2.35"/><circle cx="100.3" cy="10.9" r="2.35"/><circle cx="100.4" cy="9.6" r="2.35"/><circle cx="100.5" cy="6.8" r="2.35"/><circle cx="100.6" cy="7.4" r="2.35"/><circle cx="100.7" cy="7.3" r="2.35"/><circle cx="100.8" cy="7.2" r="2.35"/><circle cx="100.9" cy="7.2" r="2.35"/><circle cx="101.0" cy="8.0" r="2.35"/><circle cx="101.1" cy="8.6" r="2.35"/><circle cx="101.2" cy="9.9" r="2.35"/><circle cx="101.3" cy="13.5" r="2.35"/><circle cx="101.4" cy="9.9" r="2.35"/><circle cx="101.5" cy="5.6" r="2.35"/><circle cx="101.6" cy="10.8" r="2.35"/><circle cx="101.7" cy="11.0" r="2.35"/><circle cx="101.8" cy="7.4" r="2.35"/><circle cx="101.9" cy="9.5" r="2.35"/><circle cx="102.0" cy="10.7" r="2.35"/><circle cx="102.1" cy="6.2" r="2.35"/><circle cx="102.2" cy="8.3" r="2.35"/><circle cx="102.3" cy="8.0" r="2.35"/><circle cx="102.4" cy="16.2" r="2.35"/><circle cx="102.5" cy="8.5" r="2.35"/><circle cx="102.6" cy="8.8" r="2.35"/><circle cx="102.7" cy="7.9" r="2.35"/><circle cx="102.8" cy="7.1" r="2.35"/><circle cx="102.9" cy="7.1" r="2.35"/><circle cx="103.0" cy="9.3" r="2.35"/><circle cx="103.1" cy="8.1" r="2.35"/><circle cx="103.2" cy="12.2" r="2.35"/><circle cx="103.2" cy="8.2" r="2.35"/><circle cx="103.3" cy="8.1" r="2.35"/><circle cx="103.4" cy="10.5" r="2.35"/><circle cx="103.5" cy="11.3" r="2.35"/><circle cx="103.6" cy="9.8" r="2.35"/><circle cx="103.7" cy="12.3" r="2.35"/><circle cx="103.8" cy="8.9" r="2.35"/><circle cx="103.9" cy="9.0" r="2.35"/><circle cx="104.0" cy="11.7" r="2.35"/><circle cx="104.1" cy="9.5" r="2.35"/><circle cx="104.2" cy="7.3" r="2.35"/><circle cx="104.3" cy="7.3" r="2.35"/><circle cx="104.4" cy="7.4" r="2.35"/><circle cx="104.5" cy="10.0" r="2.35"/><circle cx="104.6" cy="10.4" r="2.35"/><circle cx="104.7" cy="10.5" r="2.35"/><circle cx="104.8" cy="8.3" r="2.35"/><circle cx="104.9" cy="4.4" r="2.35"/><circle cx="105.0" cy="6.5" r="2.35"/><circle cx="105.1" cy="6.1" r="2.35"/><circle cx="105.2" cy="6.6" r="2.35"/><circle cx="105.3" cy="13.2" r="2.35"/><circle cx="105.4" cy="10.1" r="2.35"/><circle cx="105.5" cy="10.6" r="2.35"/><circle cx="105.6" cy="6.9" r="2.35"/><circle cx="105.7" cy="5.9" r="2.35"/><circle cx="105.8" cy="11.1" r="2.35"/><circle cx="105.9" cy="9.5" r="2.35"/><circle cx="106.0" cy="8.4" r="2.35"/><circle cx="106.1" cy="10.7" r="2.35"/><circle cx="106.2" cy="11.0" r="2.35"/><circle cx="106.3" cy="11.1" r="2.35"/><circle cx="106.4" cy="6.2" r="2.35"/><circle cx="106.5" cy="10.2" r="2.35"/><circle cx="106.6" cy="5.7" r="2.35"/><circle cx="106.7" cy="8.0" r="2.35"/><circle cx="106.8" cy="6.5" r="2.35"/><circle cx="106.9" cy="4.8" r="2.35"/><circle cx="107.0" cy="9.7" r="2.35"/><circle cx="107.1" cy="10.0" r="2.35"/><circle cx="107.2" cy="7.3" r="2.35"/><circle cx="107.3" cy="10.5" r="2.35"/><circle cx="107.4" cy="9.8" r="2.35"/><circle cx="107.5" cy="8.4" r="2.35"/><circle cx="107.6" cy="7.9" r="2.35"/><circle cx="107.7" cy="11.0" r="2.35"/><circle cx="107.8" cy="9.0" r="2.35"/><circle cx="107.9" cy="6.9" r="2.35"/><circle cx="108.0" cy="5.2" r="2.35"/><circle cx="108.1" cy="12.5" r="2.35"/><circle cx="108.2" cy="5.3" r="2.35"/><circle cx="108.3" cy="6.3" r="2.35"/><circle cx="108.4" cy="10.6" r="2.35"/><circle cx="108.5" cy="11.4" r="2.35"/><circle cx="108.6" cy="7.3" r="2.35"/><circle cx="108.7" cy="9.1" r="2.35"/><circle cx="108.8" cy="7.9" r="2.35"/><circle cx="108.9" cy="6.3" r="2.35"/><circle cx="109.0" cy="9.0" r="2.35"/><circle cx="109.1" cy="7.8" r="2.35"/><circle cx="109.2" cy="7.1" r="2.35"/><circle cx="109.3" cy="6.2" r="2.35"/><circle cx="109.4" cy="4.3" r="2.35"/><circle cx="109.5" cy="4.4" r="2.35"/><circle cx="109.6" cy="7.7" r="2.35"/><circle cx="109.7" cy="8.7" r="2.35"/><circle cx="109.8" cy="3.0" r="2.35"/><circle cx="109.9" cy="6.8" r="2.35"/><circle cx="110.0" cy="7.3" r="2.35"/><circle cx="110.1" cy="10.6" r="2.35"/><circle cx="110.2" cy="6.5" r="2.35"/><circle cx="110.3" cy="9.9" r="2.35"/><circle cx="110.4" cy="9.2" r="2.35"/><circle cx="110.5" cy="11.1" r="2.35"/><circle cx="110.6" cy="9.3" r="2.35"/><circle cx="110.7" cy="8.1" r="2.35"/><circle cx="110.8" cy="11.5" r="2.35"/><circle cx="110.9" cy="10.2" r="2.35"/><circle cx="111.0" cy="8.4" r="2.35"/><circle cx="111.1" cy="11.0" r="2.35"/><circle cx="111.2" cy="11.0" r="2.35"/><circle cx="111.3" cy="10.0" r="2.35"/><circle cx="111.4" cy="11.3" r="2.35"/><circle cx="111.5" cy="6.8" r="2.35"/><circle cx="111.5" cy="10.4" r="2.35"/><circle cx="111.6" cy="6.5" r="2.35"/><circle cx="111.7" cy="6.2" r="2.35"/><circle cx="111.8" cy="10.8" r="2.35"/><circle cx="111.9" cy="8.1" r="2.35"/><circle cx="112.0" cy="9.3" r="2.35"/><circle cx="112.1" cy="10.7" r="2.35"/><circle cx="112.2" cy="8.9" r="2.35"/><circle cx="112.3" cy="8.7" r="2.35"/><circle cx="112.4" cy="6.6" r="2.35"/><circle cx="112.5" cy="5.9" r="2.35"/><circle cx="112.6" cy="10.6" r="2.35"/><circle cx="112.7" cy="9.1" r="2.35"/><circle cx="112.8" cy="7.0" r="2.35"/><circle cx="112.9" cy="5.6" r="2.35"/><circle cx="113.0" cy="13.5" r="2.35"/><circle cx="113.1" cy="5.4" r="2.35"/><circle cx="113.2" cy="8.6" r="2.35"/><circle cx="113.3" cy="4.8" r="2.35"/><circle cx="113.4" cy="9.1" r="2.35"/><circle cx="113.5" cy="10.0" r="2.35"/><circle cx="113.6" cy="8.1" r="2.35"/><circle cx="113.7" cy="5.6" r="2.35"/><circle cx="113.8" cy="8.1" r="2.35"/><circle cx="113.9" cy="13.4" r="2.35"/><circle cx="114.0" cy="6.7" r="2.35"/><circle cx="114.1" cy="11.8" r="2.35"/><circle cx="114.2" cy="10.4" r="2.35"/><circle cx="114.3" cy="10.8" r="2.35"/><circle cx="114.4" cy="12.3" r="2.35"/><circle cx="114.5" cy="11.0" r="2.35"/><circle cx="114.6" cy="10.4" r="2.35"/><circle cx="114.7" cy="9.6" r="2.35"/><circle cx="114.8" cy="8.3" r="2.35"/><circle cx="114.9" cy="8.9" r="2.35"/><circle cx="115.0" cy="11.5" r="2.35"/><circle cx="115.1" cy="8.6" r="2.35"/><circle cx="115.2" cy="6.0" r="2.35"/><circle cx="115.3" cy="6.1" r="2.35"/><circle cx="115.4" cy="7.9" r="2.35"/><circle cx="115.5" cy="6.8" r="2.35"/><circle cx="115.6" cy="6.2" r="2.35"/><circle cx="115.7" cy="5.2" r="2.35"/><circle cx="115.8" cy="4.4" r="2.35"/><circle cx="115.9" cy="8.9" r="2.35"/><circle cx="116.0" cy="8.8" r="2.35"/><circle cx="116.1" cy="4.9" r="2.35"/><circle cx="116.2" cy="4.7" r="2.35"/><circle cx="116.3" cy="4.8" r="2.35"/><circle cx="116.4" cy="13.4" r="2.35"/><circle cx="116.5" cy="8.7" r="2.35"/><circle cx="116.6" cy="13.5" r="2.35"/><circle cx="116.7" cy="6.6" r="2.35"/><circle cx="116.8" cy="8.1" r="2.35"/><circle cx="116.9" cy="8.1" r="2.35"/><circle cx="117.0" cy="8.5" r="2.35"/><circle cx="117.1" cy="5.3" r="2.35"/><circle cx="117.2" cy="8.8" r="2.35"/><circle cx="117.3" cy="5.9" r="2.35"/><circle cx="117.4" cy="7.0" r="2.35"/><circle cx="117.5" cy="7.4" r="2.35"/><circle cx="117.6" cy="7.2" r="2.35"/><circle cx="117.7" cy="8.0" r="2.35"/><circle cx="117.8" cy="10.6" r="2.35"/><circle cx="117.9" cy="6.6" r="2.35"/><circle cx="118.0" cy="6.6" r="2.35"/><circle cx="118.1" cy="8.5" r="2.35"/><circle cx="118.2" cy="6.6" r="2.35"/><circle cx="118.3" cy="6.2" r="2.35"/><circle cx="118.4" cy="11.0" r="2.35"/><circle cx="118.5" cy="8.5" r="2.35"/><circle cx="118.6" cy="9.2" r="2.35"/><circle cx="118.7" cy="10.2" r="2.35"/><circle cx="118.8" cy="7.5" r="2.35"/><circle cx="118.9" cy="10.1" r="2.35"/><circle cx="119.0" cy="9.2" r="2.35"/><circle cx="119.1" cy="7.7" r="2.35"/><circle cx="119.2" cy="7.4" r="2.35"/><circle cx="119.3" cy="7.5" r="2.35"/><circle cx="119.4" cy="3.3" r="2.35"/><circle cx="119.5" cy="9.3" r="2.35"/><circle cx="119.6" cy="7.6" r="2.35"/><circle cx="119.7" cy="10.9" r="2.35"/><circle cx="119.8" cy="7.1" r="2.35"/><circle cx="119.9" cy="5.6" r="2.35"/><circle cx="119.9" cy="5.5" r="2.35"/><circle cx="120.0" cy="9.6" r="2.35"/><circle cx="120.1" cy="8.8" r="2.35"/><circle cx="120.2" cy="5.4" r="2.35"/><circle cx="120.3" cy="8.4" r="2.35"/><circle cx="120.4" cy="6.1" r="2.35"/><circle cx="120.5" cy="10.4" r="2.35"/><circle cx="120.6" cy="5.1" r="2.35"/><circle cx="120.7" cy="5.9" r="2.35"/><circle cx="120.8" cy="7.2" r="2.35"/><circle cx="120.9" cy="10.0" r="2.35"/><circle cx="121.0" cy="8.6" r="2.35"/><circle cx="121.1" cy="7.9" r="2.35"/><circle cx="121.2" cy="7.6" r="2.35"/><circle cx="121.3" cy="8.4" r="2.35"/><circle cx="121.4" cy="8.7" r="2.35"/><circle cx="121.5" cy="7.8" r="2.35"/><circle cx="121.6" cy="5.1" r="2.35"/><circle cx="121.7" cy="12.6" r="2.35"/><circle cx="121.8" cy="11.2" r="2.35"/><circle cx="121.9" cy="11.6" r="2.35"/><circle cx="122.0" cy="9.7" r="2.35"/><circle cx="122.1" cy="12.0" r="2.35"/><circle cx="122.2" cy="7.0" r="2.35"/><circle cx="122.3" cy="8.0" r="2.35"/><circle cx="122.4" cy="8.8" r="2.35"/><circle cx="122.5" cy="9.7" r="2.35"/><circle cx="122.6" cy="7.9" r="2.35"/><circle cx="122.7" cy="7.8" r="2.35"/><circle cx="122.8" cy="7.5" r="2.35"/><circle cx="122.9" cy="9.8" r="2.35"/><circle cx="123.0" cy="6.8" r="2.35"/><circle cx="123.1" cy="11.4" r="2.35"/><circle cx="123.2" cy="5.4" r="2.35"/><circle cx="123.3" cy="13.5" r="2.35"/><circle cx="123.4" cy="9.5" r="2.35"/><circle cx="123.5" cy="10.9" r="2.35"/><circle cx="123.6" cy="6.4" r="2.35"/><circle cx="123.7" cy="11.5" r="2.35"/><circle cx="123.8" cy="4.2" r="2.35"/><circle cx="123.9" cy="11.6" r="2.35"/><circle cx="124.0" cy="3.7" r="2.35"/><circle cx="124.1" cy="7.2" r="2.35"/><circle cx="124.2" cy="8.1" r="2.35"/><circle cx="124.3" cy="7.2" r="2.35"/><circle cx="124.4" cy="3.3" r="2.35"/><circle cx="124.5" cy="6.2" r="2.35"/><circle cx="124.6" cy="13.1" r="2.35"/><circle cx="124.7" cy="5.6" r="2.35"/><circle cx="124.8" cy="7.7" r="2.35"/><circle cx="124.9" cy="11.8" r="2.35"/><circle cx="125.0" cy="6.5" r="2.35"/><circle cx="125.1" cy="10.9" r="2.35"/><circle cx="125.2" cy="7.8" r="2.35"/><circle cx="125.3" cy="7.7" r="2.35"/><circle cx="125.4" cy="9.6" r="2.35"/><circle cx="125.5" cy="6.8" r="2.35"/><circle cx="125.6" cy="10.5" r="2.35"/><circle cx="125.7" cy="7.8" r="2.35"/><circle cx="125.8" cy="9.4" r="2.35"/><circle cx="125.9" cy="8.6" r="2.35"/><circle cx="126.0" cy="3.9" r="2.35"/><circle cx="126.1" cy="7.9" r="2.35"/><circle cx="126.2" cy="10.6" r="2.35"/><circle cx="126.3" cy="8.5" r="2.35"/><circle cx="126.4" cy="9.9" r="2.35"/><circle cx="126.5" cy="8.1" r="2.35"/><circle cx="126.6" cy="7.8" r="2.35"/><circle cx="126.7" cy="8.0" r="2.35"/><circle cx="126.8" cy="8.0" r="2.35"/><circle cx="126.9" cy="9.4" r="2.35"/><circle cx="127.0" cy="7.2" r="2.35"/><circle cx="127.1" cy="5.9" r="2.35"/><circle cx="127.2" cy="9.6" r="2.35"/><circle cx="127.3" cy="8.3" r="2.35"/><circle cx="127.4" cy="8.1" r="2.35"/><circle cx="127.5" cy="5.4" r="2.35"/><circle cx="127.6" cy="5.8" r="2.35"/><circle cx="127.7" cy="9.8" r="2.35"/><circle cx="127.8" cy="8.0" r="2.35"/><circle cx="127.9" cy="11.5" r="2.35"/><circle cx="128.0" cy="10.3" r="2.35"/><circle cx="128.1" cy="8.2" r="2.35"/><circle cx="128.2" cy="6.8" r="2.35"/><circle cx="128.2" cy="6.1" r="2.35"/><circle cx="128.3" cy="8.9" r="2.35"/><circle cx="128.4" cy="11.2" r="2.35"/><circle cx="128.5" cy="7.3" r="2.35"/><circle cx="128.6" cy="8.6" r="2.35"/><circle cx="128.7" cy="7.3" r="2.35"/><circle cx="128.8" cy="7.8" r="2.35"/><circle cx="128.9" cy="6.6" r="2.35"/><circle cx="129.0" cy="6.7" r="2.35"/><circle cx="129.1" cy="6.3" r="2.35"/><circle cx="129.2" cy="9.2" r="2.35"/><circle cx="129.3" cy="6.0" r="2.35"/><circle cx="129.4" cy="9.3" r="2.35"/><circle cx="129.5" cy="8.0" r="2.35"/><circle cx="129.6" cy="4.1" r="2.35"/><circle cx="129.7" cy="7.4" r="2.35"/><circle cx="129.8" cy="10.8" r="2.35"/><circle cx="129.9" cy="4.9" r="2.35"/><circle cx="130.0" cy="6.0" r="2.35"/><circle cx="130.1" cy="5.7" r="2.35"/><circle cx="130.2" cy="7.8" r="2.35"/><circle cx="130.3" cy="7.4" r="2.35"/><circle cx="130.4" cy="8.7" r="2.35"/><circle cx="130.5" cy="9.7" r="2.35"/><circle cx="130.6" cy="4.8" r="2.35"/><circle cx="130.7" cy="9.0" r="2.35"/><circle cx="130.8" cy="9.3" r="2.35"/><circle cx="130.9" cy="9.2" r="2.35"/><circle cx="131.0" cy="4.1" r="2.35"/><circle cx="131.1" cy="6.3" r="2.35"/><circle cx="131.2" cy="9.0" r="2.35"/><circle cx="131.3" cy="8.3" r="2.35"/><circle cx="131.4" cy="7.1" r="2.35"/><circle cx="131.5" cy="6.3" r="2.35"/><circle cx="131.6" cy="11.8" r="2.35"/><circle cx="131.7" cy="6.2" r="2.35"/><circle cx="131.8" cy="8.7" r="2.35"/><circle cx="131.9" cy="9.7" r="2.35"/><circle cx="132.0" cy="9.1" r="2.35"/><circle cx="132.1" cy="6.4" r="2.35"/><circle cx="132.2" cy="4.3" r="2.35"/><circle cx="132.3" cy="7.9" r="2.35"/><circle cx="132.4" cy="7.0" r="2.35"/><circle cx="132.5" cy="10.0" r="2.35"/><circle cx="132.6" cy="7.1" r="2.35"/><circle cx="132.7" cy="6.4" r="2.35"/><circle cx="132.8" cy="11.5" r="2.35"/><circle cx="132.9" cy="9.3" r="2.35"/><circle cx="133.0" cy="6.4" r="2.35"/><circle cx="133.1" cy="12.1" r="2.35"/><circle cx="133.2" cy="9.0" r="2.35"/><circle cx="133.3" cy="6.9" r="2.35"/><circle cx="133.4" cy="11.9" r="2.35"/><circle cx="133.5" cy="9.1" r="2.35"/><circle cx="133.6" cy="8.1" r="2.35"/><circle cx="133.7" cy="6.2" r="2.35"/><circle cx="133.8" cy="11.0" r="2.35"/><circle cx="133.9" cy="5.7" r="2.35"/><circle cx="134.0" cy="7.5" r="2.35"/><circle cx="134.1" cy="5.5" r="2.35"/><circle cx="134.2" cy="5.6" r="2.35"/><circle cx="134.3" cy="7.4" r="2.35"/><circle cx="134.4" cy="7.1" r="2.35"/><circle cx="134.5" cy="12.0" r="2.35"/><circle cx="134.6" cy="11.2" r="2.35"/><circle cx="134.7" cy="10.4" r="2.35"/><circle cx="134.8" cy="9.0" r="2.35"/><circle cx="134.9" cy="6.1" r="2.35"/><circle cx="135.0" cy="12.1" r="2.35"/><circle cx="135.1" cy="8.9" r="2.35"/><circle cx="135.2" cy="11.1" r="2.35"/><circle cx="135.3" cy="11.6" r="2.35"/><circle cx="135.4" cy="4.9" r="2.35"/><circle cx="135.5" cy="8.0" r="2.35"/><circle cx="135.6" cy="4.6" r="2.35"/><circle cx="135.7" cy="5.6" r="2.35"/><circle cx="135.8" cy="10.2" r="2.35"/><circle cx="135.9" cy="12.3" r="2.35"/><circle cx="136.0" cy="3.6" r="2.35"/><circle cx="136.1" cy="9.1" r="2.35"/><circle cx="136.2" cy="10.7" r="2.35"/><circle cx="136.3" cy="6.7" r="2.35"/><circle cx="136.4" cy="7.9" r="2.35"/><circle cx="136.5" cy="9.7" r="2.35"/><circle cx="136.5" cy="9.0" r="2.35"/><circle cx="136.6" cy="7.8" r="2.35"/><circle cx="136.7" cy="8.0" r="2.35"/><circle cx="136.8" cy="6.5" r="2.35"/><circle cx="136.9" cy="9.0" r="2.35"/><circle cx="137.0" cy="9.0" r="2.35"/><circle cx="137.1" cy="6.9" r="2.35"/><circle cx="137.2" cy="7.5" r="2.35"/><circle cx="137.3" cy="5.8" r="2.35"/><circle cx="137.4" cy="8.8" r="2.35"/><circle cx="137.5" cy="8.4" r="2.35"/><circle cx="137.6" cy="10.8" r="2.35"/><circle cx="137.7" cy="4.9" r="2.35"/><circle cx="137.8" cy="11.3" r="2.35"/><circle cx="137.9" cy="7.8" r="2.35"/><circle cx="138.0" cy="10.2" r="2.35"/><circle cx="138.1" cy="7.5" r="2.35"/><circle cx="138.2" cy="6.6" r="2.35"/><circle cx="138.3" cy="11.8" r="2.35"/><circle cx="138.4" cy="8.7" r="2.35"/><circle cx="138.5" cy="12.1" r="2.35"/><circle cx="138.6" cy="5.1" r="2.35"/><circle cx="138.7" cy="9.2" r="2.35"/><circle cx="138.8" cy="11.7" r="2.35"/><circle cx="138.9" cy="9.8" r="2.35"/><circle cx="139.0" cy="5.3" r="2.35"/><circle cx="139.1" cy="4.9" r="2.35"/><circle cx="139.2" cy="5.4" r="2.35"/><circle cx="139.3" cy="9.9" r="2.35"/><circle cx="139.4" cy="8.5" r="2.35"/><circle cx="139.5" cy="4.6" r="2.35"/><circle cx="139.6" cy="9.8" r="2.35"/><circle cx="139.7" cy="8.9" r="2.35"/><circle cx="139.8" cy="10.3" r="2.35"/><circle cx="139.9" cy="10.8" r="2.35"/><circle cx="140.0" cy="5.5" r="2.35"/><circle cx="140.1" cy="6.8" r="2.35"/><circle cx="140.2" cy="7.2" r="2.35"/><circle cx="140.3" cy="6.9" r="2.35"/><circle cx="140.4" cy="5.9" r="2.35"/><circle cx="140.5" cy="4.9" r="2.35"/><circle cx="140.6" cy="8.2" r="2.35"/><circle cx="140.7" cy="9.0" r="2.35"/><circle cx="140.8" cy="10.5" r="2.35"/><circle cx="140.9" cy="5.8" r="2.35"/><circle cx="141.0" cy="9.3" r="2.35"/><circle cx="141.1" cy="11.5" r="2.35"/><circle cx="141.2" cy="8.8" r="2.35"/><circle cx="141.3" cy="8.1" r="2.35"/><circle cx="141.4" cy="6.4" r="2.35"/><circle cx="141.5" cy="6.0" r="2.35"/><circle cx="141.6" cy="9.8" r="2.35"/><circle cx="141.7" cy="10.0" r="2.35"/><circle cx="141.8" cy="8.9" r="2.35"/><circle cx="141.9" cy="10.9" r="2.35"/><circle cx="142.0" cy="8.4" r="2.35"/><circle cx="142.1" cy="7.2" r="2.35"/><circle cx="142.2" cy="8.1" r="2.35"/><circle cx="142.3" cy="11.8" r="2.35"/><circle cx="142.4" cy="10.8" r="2.35"/><circle cx="142.5" cy="5.4" r="2.35"/><circle cx="142.6" cy="10.4" r="2.35"/><circle cx="142.7" cy="6.6" r="2.35"/><circle cx="142.8" cy="6.8" r="2.35"/><circle cx="142.9" cy="8.9" r="2.35"/><circle cx="143.0" cy="10.4" r="2.35"/><circle cx="143.1" cy="7.7" r="2.35"/><circle cx="143.2" cy="10.2" r="2.35"/><circle cx="143.3" cy="8.6" r="2.35"/><circle cx="143.4" cy="8.0" r="2.35"/><circle cx="143.5" cy="9.8" r="2.35"/><circle cx="143.6" cy="8.7" r="2.35"/><circle cx="143.7" cy="8.9" r="2.35"/><circle cx="143.8" cy="10.9" r="2.35"/><circle cx="143.9" cy="8.6" r="2.35"/><circle cx="144.0" cy="9.6" r="2.35"/><circle cx="144.1" cy="12.2" r="2.35"/><circle cx="144.2" cy="8.9" r="2.35"/><circle cx="144.3" cy="8.8" r="2.35"/><circle cx="144.4" cy="9.5" r="2.35"/><circle cx="144.5" cy="12.8" r="2.35"/><circle cx="144.6" cy="6.5" r="2.35"/><circle cx="144.7" cy="6.7" r="2.35"/><circle cx="144.8" cy="6.8" r="2.35"/><circle cx="144.8" cy="7.5" r="2.35"/><circle cx="144.9" cy="11.0" r="2.35"/><circle cx="145.0" cy="7.9" r="2.35"/><circle cx="145.1" cy="10.3" r="2.35"/><circle cx="145.2" cy="3.4" r="2.35"/><circle cx="145.3" cy="9.4" r="2.35"/><circle cx="145.4" cy="6.7" r="2.35"/><circle cx="145.5" cy="11.6" r="2.35"/><circle cx="145.6" cy="10.8" r="2.35"/><circle cx="145.7" cy="9.4" r="2.35"/><circle cx="145.8" cy="6.6" r="2.35"/><circle cx="145.9" cy="9.0" r="2.35"/><circle cx="146.0" cy="9.6" r="2.35"/><circle cx="146.1" cy="14.4" r="2.35"/><circle cx="146.2" cy="7.7" r="2.35"/><circle cx="146.3" cy="12.3" r="2.35"/><circle cx="146.4" cy="6.7" r="2.35"/><circle cx="146.5" cy="6.1" r="2.35"/><circle cx="146.6" cy="8.4" r="2.35"/><circle cx="146.7" cy="8.1" r="2.35"/><circle cx="146.8" cy="13.0" r="2.35"/><circle cx="146.9" cy="4.9" r="2.35"/><circle cx="147.0" cy="9.8" r="2.35"/><circle cx="147.1" cy="8.0" r="2.35"/><circle cx="147.2" cy="12.1" r="2.35"/><circle cx="147.3" cy="10.4" r="2.35"/><circle cx="147.4" cy="12.9" r="2.35"/><circle cx="147.5" cy="10.8" r="2.35"/><circle cx="147.6" cy="10.2" r="2.35"/><circle cx="147.7" cy="9.7" r="2.35"/><circle cx="147.8" cy="7.2" r="2.35"/><circle cx="147.9" cy="9.2" r="2.35"/><circle cx="148.0" cy="9.7" r="2.35"/><circle cx="148.1" cy="10.2" r="2.35"/><circle cx="148.2" cy="5.8" r="2.35"/><circle cx="148.3" cy="11.5" r="2.35"/><circle cx="148.4" cy="7.6" r="2.35"/><circle cx="148.5" cy="14.6" r="2.35"/><circle cx="148.6" cy="12.2" r="2.35"/><circle cx="148.7" cy="9.3" r="2.35"/><circle cx="148.8" cy="10.6" r="2.35"/><circle cx="148.9" cy="4.9" r="2.35"/><circle cx="149.0" cy="4.9" r="2.35"/><circle cx="149.1" cy="13.6" r="2.35"/><circle cx="149.2" cy="12.6" r="2.35"/><circle cx="149.3" cy="10.6" r="2.35"/><circle cx="149.4" cy="6.4" r="2.35"/><circle cx="149.5" cy="7.7" r="2.35"/><circle cx="149.6" cy="9.5" r="2.35"/><circle cx="149.7" cy="13.4" r="2.35"/><circle cx="149.8" cy="12.1" r="2.35"/><circle cx="149.9" cy="15.6" r="2.35"/><circle cx="150.0" cy="13.6" r="2.35"/><circle cx="150.1" cy="9.3" r="2.35"/><circle cx="150.2" cy="8.5" r="2.35"/><circle cx="150.3" cy="13.1" r="2.35"/><circle cx="150.4" cy="10.0" r="2.35"/><circle cx="150.5" cy="6.6" r="2.35"/><circle cx="150.6" cy="9.9" r="2.35"/><circle cx="150.7" cy="10.9" r="2.35"/><circle cx="150.8" cy="8.9" r="2.35"/><circle cx="150.9" cy="9.1" r="2.35"/><circle cx="151.0" cy="10.1" r="2.35"/><circle cx="151.1" cy="11.4" r="2.35"/><circle cx="151.2" cy="11.2" r="2.35"/><circle cx="151.3" cy="10.0" r="2.35"/><circle cx="151.4" cy="11.5" r="2.35"/><circle cx="151.5" cy="7.3" r="2.35"/><circle cx="151.6" cy="8.3" r="2.35"/><circle cx="151.7" cy="7.8" r="2.35"/><circle cx="151.8" cy="5.7" r="2.35"/><circle cx="151.9" cy="6.7" r="2.35"/><circle cx="152.0" cy="7.1" r="2.35"/><circle cx="152.1" cy="9.4" r="2.35"/><circle cx="152.2" cy="10.7" r="2.35"/><circle cx="152.3" cy="5.1" r="2.35"/><circle cx="152.4" cy="11.7" r="2.35"/><circle cx="152.5" cy="11.6" r="2.35"/><circle cx="152.6" cy="12.2" r="2.35"/><circle cx="152.7" cy="9.8" r="2.35"/><circle cx="152.8" cy="9.3" r="2.35"/><circle cx="152.9" cy="8.0" r="2.35"/><circle cx="153.0" cy="10.7" r="2.35"/><circle cx="153.1" cy="14.1" r="2.35"/><circle cx="153.1" cy="9.5" r="2.35"/><circle cx="153.2" cy="8.1" r="2.35"/><circle cx="153.3" cy="10.2" r="2.35"/><circle cx="153.4" cy="10.5" r="2.35"/><circle cx="153.5" cy="9.0" r="2.35"/><circle cx="153.6" cy="7.1" r="2.35"/><circle cx="153.7" cy="10.4" r="2.35"/><circle cx="153.8" cy="13.4" r="2.35"/><circle cx="153.9" cy="11.5" r="2.35"/><circle cx="154.0" cy="10.6" r="2.35"/><circle cx="154.1" cy="14.2" r="2.35"/><circle cx="154.2" cy="8.5" r="2.35"/><circle cx="154.3" cy="11.9" r="2.35"/><circle cx="154.4" cy="9.1" r="2.35"/><circle cx="154.5" cy="9.8" r="2.35"/><circle cx="154.6" cy="10.9" r="2.35"/><circle cx="154.7" cy="6.6" r="2.35"/><circle cx="154.8" cy="11.5" r="2.35"/><circle cx="154.9" cy="11.7" r="2.35"/><circle cx="155.0" cy="9.6" r="2.35"/><circle cx="155.1" cy="8.4" r="2.35"/><circle cx="155.2" cy="10.2" r="2.35"/><circle cx="155.3" cy="12.4" r="2.35"/><circle cx="155.4" cy="8.7" r="2.35"/><circle cx="155.5" cy="8.9" r="2.35"/><circle cx="155.6" cy="5.7" r="2.35"/><circle cx="155.7" cy="10.7" r="2.35"/><circle cx="155.8" cy="9.8" r="2.35"/><circle cx="155.9" cy="11.5" r="2.35"/><circle cx="156.0" cy="13.5" r="2.35"/><circle cx="156.1" cy="10.1" r="2.35"/><circle cx="156.2" cy="8.4" r="2.35"/><circle cx="156.3" cy="12.5" r="2.35"/><circle cx="156.4" cy="11.7" r="2.35"/><circle cx="156.5" cy="12.8" r="2.35"/><circle cx="156.6" cy="7.3" r="2.35"/><circle cx="156.7" cy="11.6" r="2.35"/><circle cx="156.8" cy="9.0" r="2.35"/><circle cx="156.9" cy="12.2" r="2.35"/><circle cx="157.0" cy="10.1" r="2.35"/><circle cx="157.1" cy="11.6" r="2.35"/><circle cx="157.2" cy="15.4" r="2.35"/><circle cx="157.3" cy="10.1" r="2.35"/><circle cx="157.4" cy="9.1" r="2.35"/><circle cx="157.5" cy="14.9" r="2.35"/><circle cx="157.6" cy="10.6" r="2.35"/><circle cx="157.7" cy="11.2" r="2.35"/><circle cx="157.8" cy="12.6" r="2.35"/><circle cx="157.9" cy="10.8" r="2.35"/><circle cx="158.0" cy="14.5" r="2.35"/><circle cx="158.1" cy="9.7" r="2.35"/><circle cx="158.2" cy="7.6" r="2.35"/><circle cx="158.3" cy="13.0" r="2.35"/><circle cx="158.4" cy="10.4" r="2.35"/><circle cx="158.5" cy="7.1" r="2.35"/><circle cx="158.6" cy="10.0" r="2.35"/><circle cx="158.7" cy="11.4" r="2.35"/><circle cx="158.8" cy="12.3" r="2.35"/><circle cx="158.9" cy="9.9" r="2.35"/><circle cx="159.0" cy="10.5" r="2.35"/><circle cx="159.1" cy="8.8" r="2.35"/><circle cx="159.2" cy="13.6" r="2.35"/><circle cx="159.3" cy="7.9" r="2.35"/><circle cx="159.4" cy="11.1" r="2.35"/><circle cx="159.5" cy="8.8" r="2.35"/><circle cx="159.6" cy="11.8" r="2.35"/><circle cx="159.7" cy="13.1" r="2.35"/><circle cx="159.8" cy="11.5" r="2.35"/><circle cx="159.9" cy="12.4" r="2.35"/><circle cx="160.0" cy="11.1" r="2.35"/><circle cx="160.1" cy="8.8" r="2.35"/><circle cx="160.2" cy="7.9" r="2.35"/><circle cx="160.3" cy="9.8" r="2.35"/><circle cx="160.4" cy="11.4" r="2.35"/><circle cx="160.5" cy="11.2" r="2.35"/><circle cx="160.6" cy="8.9" r="2.35"/><circle cx="160.7" cy="7.7" r="2.35"/><circle cx="160.8" cy="11.0" r="2.35"/><circle cx="160.9" cy="10.5" r="2.35"/><circle cx="161.0" cy="11.9" r="2.35"/><circle cx="161.1" cy="9.8" r="2.35"/><circle cx="161.2" cy="8.1" r="2.35"/><circle cx="161.3" cy="15.6" r="2.35"/><circle cx="161.4" cy="9.7" r="2.35"/><circle cx="161.4" cy="11.5" r="2.35"/><circle cx="161.5" cy="15.4" r="2.35"/><circle cx="161.6" cy="9.6" r="2.35"/><circle cx="161.7" cy="10.4" r="2.35"/><circle cx="161.8" cy="9.4" r="2.35"/><circle cx="161.9" cy="13.3" r="2.35"/><circle cx="162.0" cy="5.5" r="2.35"/><circle cx="162.1" cy="10.0" r="2.35"/><circle cx="162.2" cy="11.0" r="2.35"/><circle cx="162.3" cy="6.9" r="2.35"/><circle cx="162.4" cy="8.8" r="2.35"/><circle cx="162.5" cy="8.4" r="2.35"/><circle cx="162.6" cy="7.7" r="2.35"/><circle cx="162.7" cy="14.8" r="2.35"/><circle cx="162.8" cy="6.6" r="2.35"/><circle cx="162.9" cy="11.0" r="2.35"/><circle cx="163.0" cy="9.6" r="2.35"/><circle cx="163.1" cy="8.2" r="2.35"/><circle cx="163.2" cy="11.8" r="2.35"/><circle cx="163.3" cy="9.5" r="2.35"/><circle cx="163.4" cy="8.6" r="2.35"/><circle cx="163.5" cy="10.3" r="2.35"/><circle cx="163.6" cy="15.6" r="2.35"/><circle cx="163.7" cy="13.8" r="2.35"/><circle cx="163.8" cy="12.9" r="2.35"/><circle cx="163.9" cy="12.8" r="2.35"/><circle cx="164.0" cy="9.4" r="2.35"/><circle cx="164.1" cy="4.9" r="2.35"/><circle cx="164.2" cy="9.7" r="2.35"/><circle cx="164.3" cy="10.6" r="2.35"/><circle cx="164.4" cy="10.4" r="2.35"/><circle cx="164.5" cy="8.1" r="2.35"/><circle cx="164.6" cy="8.7" r="2.35"/><circle cx="164.7" cy="12.8" r="2.35"/><circle cx="164.8" cy="8.0" r="2.35"/><circle cx="164.9" cy="10.3" r="2.35"/><circle cx="165.0" cy="8.4" r="2.35"/><circle cx="165.1" cy="14.7" r="2.35"/><circle cx="165.2" cy="13.7" r="2.35"/><circle cx="165.3" cy="8.9" r="2.35"/><circle cx="165.4" cy="14.2" r="2.35"/><circle cx="165.5" cy="9.4" r="2.35"/><circle cx="165.6" cy="9.5" r="2.35"/></g>
<g id="p1" class="pt"><circle cx="7.6" cy="12.1" r="2.35"/><circle cx="7.8" cy="11.7" r="2.35"/><circle cx="8.0" cy="11.9" r="2.35"/><circle cx="8.2" cy="11.6" r="2.35"/><circle cx="8.4" cy="13.1" r="2.35"/><circle cx="8.6" cy="12.4" r="2.35"/><circle cx="8.8" cy="7.1" r="2.35"/><circle cx="9.0" cy="10.3" r="2.35"/><circle cx="9.2" cy="11.3" r="2.35"/><circle cx="9.4" cy="11.7" r="2.35"/><circle cx="9.6" cy="13.7" r="2.35"/><circle cx="9.8" cy="12.0" r="2.35"/><circle cx="10.0" cy="12.9" r="2.35"/><circle cx="10.2" cy="10.7" r="2.35"/><circle cx="10.4" cy="14.1" r="2.35"/><circle cx="10.6" cy="16.8" r="2.35"/><circle cx="10.8" cy="13.4" r="2.35"/><circle cx="11.0" cy="11.1" r="2.35"/><circle cx="11.2" cy="7.9" r="2.35"/><circle cx="11.4" cy="10.5" r="2.35"/><circle cx="11.6" cy="14.2" r="2.35"/><circle cx="11.8" cy="12.8" r="2.35"/><circle cx="12.0" cy="14.2" r="2.35"/><circle cx="12.1" cy="12.7" r="2.35"/><circle cx="12.3" cy="14.1" r="2.35"/><circle cx="12.5" cy="15.4" r="2.35"/><circle cx="12.7" cy="11.6" r="2.35"/><circle cx="12.9" cy="12.0" r="2.35"/><circle cx="13.1" cy="12.7" r="2.35"/><circle cx="13.3" cy="11.8" r="2.35"/><circle cx="13.5" cy="8.6" r="2.35"/><circle cx="13.7" cy="12.2" r="2.35"/><circle cx="13.9" cy="13.1" r="2.35"/><circle cx="14.1" cy="10.8" r="2.35"/><circle cx="14.3" cy="15.4" r="2.35"/><circle cx="14.5" cy="11.0" r="2.35"/><circle cx="14.7" cy="13.8" r="2.35"/><circle cx="14.9" cy="13.9" r="2.35"/><circle cx="15.1" cy="12.2" r="2.35"/><circle cx="15.3" cy="9.3" r="2.35"/><circle cx="15.5" cy="13.8" r="2.35"/><circle cx="15.7" cy="10.6" r="2.35"/><circle cx="15.9" cy="11.7" r="2.35"/><circle cx="16.1" cy="15.0" r="2.35"/><circle cx="16.3" cy="10.7" r="2.35"/><circle cx="16.5" cy="13.9" r="2.35"/><circle cx="16.7" cy="15.1" r="2.35"/><circle cx="16.9" cy="13.9" r="2.35"/><circle cx="17.1" cy="13.7" r="2.35"/><circle cx="17.3" cy="11.3" r="2.35"/><circle cx="17.5" cy="13.7" r="2.35"/><circle cx="17.7" cy="9.6" r="2.35"/><circle cx="17.9" cy="12.0" r="2.35"/><circle cx="18.1" cy="13.7" r="2.35"/><circle cx="18.3" cy="13.9" r="2.35"/><circle cx="18.5" cy="12.0" r="2.35"/><circle cx="18.7" cy="16.1" r="2.35"/><circle cx="18.9" cy="16.4" r="2.35"/><circle cx="19.1" cy="14.0" r="2.35"/><circle cx="19.3" cy="11.2" r="2.35"/><circle cx="19.5" cy="12.1" r="2.35"/><circle cx="19.7" cy="12.4" r="2.35"/><circle cx="19.9" cy="12.8" r="2.35"/><circle cx="20.1" cy="16.4" r="2.35"/><circle cx="20.3" cy="13.0" r="2.35"/><circle cx="20.5" cy="15.7" r="2.35"/><circle cx="20.7" cy="10.9" r="2.35"/><circle cx="20.8" cy="12.4" r="2.35"/><circle cx="21.0" cy="12.6" r="2.35"/><circle cx="21.2" cy="11.7" r="2.35"/><circle cx="21.4" cy="11.8" r="2.35"/><circle cx="21.6" cy="12.0" r="2.35"/><circle cx="21.8" cy="11.8" r="2.35"/><circle cx="22.0" cy="13.5" r="2.35"/><circle cx="22.2" cy="14.9" r="2.35"/><circle cx="22.4" cy="17.0" r="2.35"/><circle cx="22.6" cy="9.7" r="2.35"/><circle cx="22.8" cy="10.5" r="2.35"/><circle cx="23.0" cy="12.8" r="2.35"/><circle cx="23.2" cy="11.3" r="2.35"/><circle cx="23.4" cy="13.2" r="2.35"/><circle cx="23.6" cy="11.7" r="2.35"/><circle cx="23.8" cy="13.5" r="2.35"/><circle cx="24.0" cy="12.1" r="2.35"/><circle cx="24.2" cy="8.7" r="2.35"/><circle cx="24.4" cy="11.0" r="2.35"/><circle cx="24.6" cy="9.6" r="2.35"/><circle cx="24.8" cy="13.8" r="2.35"/><circle cx="25.0" cy="13.7" r="2.35"/><circle cx="25.2" cy="12.5" r="2.35"/><circle cx="25.4" cy="11.4" r="2.35"/><circle cx="25.6" cy="12.8" r="2.35"/><circle cx="25.8" cy="10.5" r="2.35"/><circle cx="26.0" cy="13.4" r="2.35"/><circle cx="26.2" cy="9.9" r="2.35"/><circle cx="26.4" cy="10.6" r="2.35"/><circle cx="26.6" cy="14.5" r="2.35"/><circle cx="26.8" cy="11.3" r="2.35"/><circle cx="27.0" cy="12.8" r="2.35"/><circle cx="27.2" cy="10.5" r="2.35"/><circle cx="27.4" cy="11.0" r="2.35"/><circle cx="27.6" cy="9.5" r="2.35"/><circle cx="27.8" cy="9.0" r="2.35"/><circle cx="28.0" cy="15.1" r="2.35"/><circle cx="28.2" cy="13.5" r="2.35"/><circle cx="28.4" cy="9.8" r="2.35"/><circle cx="28.6" cy="10.3" r="2.35"/><circle cx="28.8" cy="8.2" r="2.35"/><circle cx="29.0" cy="9.6" r="2.35"/><circle cx="29.2" cy="12.4" r="2.35"/><circle cx="29.4" cy="9.4" r="2.35"/><circle cx="29.5" cy="11.4" r="2.35"/><circle cx="29.7" cy="10.5" r="2.35"/><circle cx="29.9" cy="11.0" r="2.35"/><circle cx="30.1" cy="9.4" r="2.35"/><circle cx="30.3" cy="12.7" r="2.35"/><circle cx="30.5" cy="12.1" r="2.35"/><circle cx="30.7" cy="14.1" r="2.35"/><circle cx="30.9" cy="6.1" r="2.35"/><circle cx="31.1" cy="11.9" r="2.35"/><circle cx="31.3" cy="11.6" r="2.35"/><circle cx="31.5" cy="12.2" r="2.35"/><circle cx="31.7" cy="11.2" r="2.35"/><circle cx="31.9" cy="10.9" r="2.35"/><circle cx="32.1" cy="8.9" r="2.35"/><circle cx="32.3" cy="9.7" r="2.35"/><circle cx="32.5" cy="9.4" r="2.35"/><circle cx="32.7" cy="11.1" r="2.35"/><circle cx="32.9" cy="10.2" r="2.35"/><circle cx="33.1" cy="7.8" r="2.35"/><circle cx="33.3" cy="10.1" r="2.35"/><circle cx="33.5" cy="9.5" r="2.35"/><circle cx="33.7" cy="13.8" r="2.35"/><circle cx="33.9" cy="9.1" r="2.35"/><circle cx="34.1" cy="9.6" r="2.35"/><circle cx="34.3" cy="7.7" r="2.35"/><circle cx="34.5" cy="15.1" r="2.35"/><circle cx="34.7" cy="10.0" r="2.35"/><circle cx="34.9" cy="10.3" r="2.35"/><circle cx="35.1" cy="9.9" r="2.35"/><circle cx="35.3" cy="11.2" r="2.35"/><circle cx="35.5" cy="9.7" r="2.35"/><circle cx="35.7" cy="8.8" r="2.35"/><circle cx="35.9" cy="10.0" r="2.35"/><circle cx="36.1" cy="10.6" r="2.35"/><circle cx="36.3" cy="10.5" r="2.35"/><circle cx="36.5" cy="10.8" r="2.35"/><circle cx="36.7" cy="10.0" r="2.35"/><circle cx="36.9" cy="11.4" r="2.35"/><circle cx="37.1" cy="13.8" r="2.35"/><circle cx="37.3" cy="7.6" r="2.35"/><circle cx="37.5" cy="13.3" r="2.35"/><circle cx="37.7" cy="10.3" r="2.35"/><circle cx="37.9" cy="12.5" r="2.35"/><circle cx="38.1" cy="10.6" r="2.35"/><circle cx="38.3" cy="11.9" r="2.35"/><circle cx="38.4" cy="10.2" r="2.35"/><circle cx="38.6" cy="11.6" r="2.35"/><circle cx="38.8" cy="12.5" r="2.35"/><circle cx="39.0" cy="9.5" r="2.35"/><circle cx="39.2" cy="7.6" r="2.35"/><circle cx="39.4" cy="9.5" r="2.35"/><circle cx="39.6" cy="9.9" r="2.35"/><circle cx="39.8" cy="12.0" r="2.35"/><circle cx="40.0" cy="10.3" r="2.35"/><circle cx="40.2" cy="9.3" r="2.35"/><circle cx="40.4" cy="11.3" r="2.35"/><circle cx="40.6" cy="8.5" r="2.35"/><circle cx="40.8" cy="10.2" r="2.35"/><circle cx="41.0" cy="9.5" r="2.35"/><circle cx="41.2" cy="11.0" r="2.35"/><circle cx="41.4" cy="11.0" r="2.35"/><circle cx="41.6" cy="9.7" r="2.35"/><circle cx="41.8" cy="9.4" r="2.35"/><circle cx="42.0" cy="9.5" r="2.35"/><circle cx="42.2" cy="12.0" r="2.35"/><circle cx="42.4" cy="11.5" r="2.35"/><circle cx="42.6" cy="10.2" r="2.35"/><circle cx="42.8" cy="13.6" r="2.35"/><circle cx="43.0" cy="8.2" r="2.35"/><circle cx="43.2" cy="9.5" r="2.35"/><circle cx="43.4" cy="10.1" r="2.35"/><circle cx="43.6" cy="11.4" r="2.35"/><circle cx="43.8" cy="8.6" r="2.35"/><circle cx="44.0" cy="10.6" r="2.35"/><circle cx="44.2" cy="6.6" r="2.35"/><circle cx="44.4" cy="9.4" r="2.35"/><circle cx="44.6" cy="12.9" r="2.35"/><circle cx="44.8" cy="8.8" r="2.35"/><circle cx="45.0" cy="11.1" r="2.35"/><circle cx="45.2" cy="11.1" r="2.35"/><circle cx="45.4" cy="10.6" r="2.35"/><circle cx="45.6" cy="10.4" r="2.35"/><circle cx="45.8" cy="9.7" r="2.35"/><circle cx="46.0" cy="8.7" r="2.35"/><circle cx="46.2" cy="9.3" r="2.35"/><circle cx="46.4" cy="11.5" r="2.35"/><circle cx="46.6" cy="12.6" r="2.35"/><circle cx="46.8" cy="11.6" r="2.35"/><circle cx="47.0" cy="9.5" r="2.35"/><circle cx="47.1" cy="8.5" r="2.35"/><circle cx="47.3" cy="6.8" r="2.35"/><circle cx="47.5" cy="12.6" r="2.35"/><circle cx="47.7" cy="10.0" r="2.35"/><circle cx="47.9" cy="10.6" r="2.35"/><circle cx="48.1" cy="10.9" r="2.35"/><circle cx="48.3" cy="9.9" r="2.35"/><circle cx="48.5" cy="10.6" r="2.35"/><circle cx="48.7" cy="10.6" r="2.35"/><circle cx="48.9" cy="11.3" r="2.35"/><circle cx="49.1" cy="9.4" r="2.35"/><circle cx="49.3" cy="8.2" r="2.35"/><circle cx="49.5" cy="7.1" r="2.35"/><circle cx="49.7" cy="11.1" r="2.35"/><circle cx="49.9" cy="12.1" r="2.35"/><circle cx="50.1" cy="10.6" r="2.35"/><circle cx="50.3" cy="11.7" r="2.35"/><circle cx="50.5" cy="8.3" r="2.35"/><circle cx="50.7" cy="11.7" r="2.35"/><circle cx="50.9" cy="10.0" r="2.35"/><circle cx="51.1" cy="12.6" r="2.35"/><circle cx="51.3" cy="10.8" r="2.35"/><circle cx="51.5" cy="9.8" r="2.35"/><circle cx="51.7" cy="7.3" r="2.35"/><circle cx="51.9" cy="11.4" r="2.35"/><circle cx="52.1" cy="9.5" r="2.35"/><circle cx="52.3" cy="14.0" r="2.35"/><circle cx="52.5" cy="12.4" r="2.35"/><circle cx="52.7" cy="11.7" r="2.35"/><circle cx="52.9" cy="11.1" r="2.35"/><circle cx="53.1" cy="9.4" r="2.35"/><circle cx="53.3" cy="9.0" r="2.35"/><circle cx="53.5" cy="13.1" r="2.35"/><circle cx="53.7" cy="9.2" r="2.35"/><circle cx="53.9" cy="12.2" r="2.35"/><circle cx="54.1" cy="6.8" r="2.35"/><circle cx="54.3" cy="9.6" r="2.35"/><circle cx="54.5" cy="9.9" r="2.35"/><circle cx="54.7" cy="10.5" r="2.35"/><circle cx="54.9" cy="10.2" r="2.35"/><circle cx="55.1" cy="10.2" r="2.35"/><circle cx="55.3" cy="11.4" r="2.35"/><circle cx="55.5" cy="8.8" r="2.35"/><circle cx="55.7" cy="9.7" r="2.35"/><circle cx="55.9" cy="8.8" r="2.35"/><circle cx="56.0" cy="10.3" r="2.35"/><circle cx="56.2" cy="8.9" r="2.35"/><circle cx="56.4" cy="11.6" r="2.35"/><circle cx="56.6" cy="4.7" r="2.35"/><circle cx="56.8" cy="11.5" r="2.35"/><circle cx="57.0" cy="11.0" r="2.35"/><circle cx="57.2" cy="8.4" r="2.35"/><circle cx="57.4" cy="7.9" r="2.35"/><circle cx="57.6" cy="11.6" r="2.35"/><circle cx="57.8" cy="13.2" r="2.35"/><circle cx="58.0" cy="12.7" r="2.35"/><circle cx="58.2" cy="12.0" r="2.35"/><circle cx="58.4" cy="11.6" r="2.35"/><circle cx="58.6" cy="10.5" r="2.35"/><circle cx="58.8" cy="8.3" r="2.35"/><circle cx="59.0" cy="8.2" r="2.35"/><circle cx="59.2" cy="11.3" r="2.35"/><circle cx="59.4" cy="9.2" r="2.35"/><circle cx="59.6" cy="8.5" r="2.35"/><circle cx="59.8" cy="7.6" r="2.35"/><circle cx="60.0" cy="10.5" r="2.35"/><circle cx="60.2" cy="11.5" r="2.35"/><circle cx="60.4" cy="8.8" r="2.35"/><circle cx="60.6" cy="7.4" r="2.35"/><circle cx="60.8" cy="11.1" r="2.35"/><circle cx="61.0" cy="6.6" r="2.35"/><circle cx="61.2" cy="7.0" r="2.35"/><circle cx="61.4" cy="10.7" r="2.35"/><circle cx="61.6" cy="13.1" r="2.35"/><circle cx="61.8" cy="11.3" r="2.35"/><circle cx="62.0" cy="10.8" r="2.35"/><circle cx="62.2" cy="9.2" r="2.35"/><circle cx="62.4" cy="13.2" r="2.35"/><circle cx="62.6" cy="5.7" r="2.35"/><circle cx="62.8" cy="5.8" r="2.35"/><circle cx="63.0" cy="11.5" r="2.35"/><circle cx="63.2" cy="13.6" r="2.35"/><circle cx="63.4" cy="10.5" r="2.35"/><circle cx="63.6" cy="9.4" r="2.35"/><circle cx="63.8" cy="7.7" r="2.35"/><circle cx="64.0" cy="8.9" r="2.35"/><circle cx="64.2" cy="10.5" r="2.35"/><circle cx="64.4" cy="13.8" r="2.35"/><circle cx="64.6" cy="9.2" r="2.35"/><circle cx="64.7" cy="8.6" r="2.35"/><circle cx="64.9" cy="10.7" r="2.35"/><circle cx="65.1" cy="9.7" r="2.35"/><circle cx="65.3" cy="9.8" r="2.35"/><circle cx="65.5" cy="10.6" r="2.35"/><circle cx="65.7" cy="12.3" r="2.35"/><circle cx="65.9" cy="9.5" r="2.35"/><circle cx="66.1" cy="12.8" r="2.35"/><circle cx="66.3" cy="7.6" r="2.35"/><circle cx="66.5" cy="11.8" r="2.35"/><circle cx="66.7" cy="9.3" r="2.35"/><circle cx="66.9" cy="9.1" r="2.35"/><circle cx="67.1" cy="7.0" r="2.35"/><circle cx="67.3" cy="8.1" r="2.35"/><circle cx="67.5" cy="6.7" r="2.35"/><circle cx="67.7" cy="9.2" r="2.35"/><circle cx="67.9" cy="2.9" r="2.35"/><circle cx="68.1" cy="8.2" r="2.35"/><circle cx="68.3" cy="8.4" r="2.35"/><circle cx="68.5" cy="10.5" r="2.35"/><circle cx="68.7" cy="9.0" r="2.35"/><circle cx="68.9" cy="10.8" r="2.35"/><circle cx="69.1" cy="7.5" r="2.35"/><circle cx="69.3" cy="8.4" r="2.35"/><circle cx="69.5" cy="7.7" r="2.35"/><circle cx="69.7" cy="2.9" r="2.35"/><circle cx="69.9" cy="7.4" r="2.35"/><circle cx="70.1" cy="7.0" r="2.35"/><circle cx="70.3" cy="6.6" r="2.35"/><circle cx="70.5" cy="8.0" r="2.35"/><circle cx="70.7" cy="8.8" r="2.35"/><circle cx="70.9" cy="6.1" r="2.35"/><circle cx="71.1" cy="5.8" r="2.35"/><circle cx="71.3" cy="12.9" r="2.35"/><circle cx="71.5" cy="8.0" r="2.35"/><circle cx="71.7" cy="8.3" r="2.35"/><circle cx="71.9" cy="8.8" r="2.35"/><circle cx="72.1" cy="5.4" r="2.35"/><circle cx="72.3" cy="8.7" r="2.35"/><circle cx="72.5" cy="6.1" r="2.35"/><circle cx="72.7" cy="8.7" r="2.35"/><circle cx="72.9" cy="8.5" r="2.35"/><circle cx="73.1" cy="6.4" r="2.35"/><circle cx="73.3" cy="9.1" r="2.35"/><circle cx="73.4" cy="8.0" r="2.35"/><circle cx="73.6" cy="9.8" r="2.35"/><circle cx="73.8" cy="9.4" r="2.35"/><circle cx="74.0" cy="6.4" r="2.35"/><circle cx="74.2" cy="6.6" r="2.35"/><circle cx="74.4" cy="9.8" r="2.35"/><circle cx="74.6" cy="9.9" r="2.35"/><circle cx="74.8" cy="3.0" r="2.35"/><circle cx="75.0" cy="8.9" r="2.35"/><circle cx="75.2" cy="9.3" r="2.35"/><circle cx="75.4" cy="6.8" r="2.35"/><circle cx="75.6" cy="9.2" r="2.35"/><circle cx="75.8" cy="8.4" r="2.35"/><circle cx="76.0" cy="6.1" r="2.35"/><circle cx="76.2" cy="5.9" r="2.35"/><circle cx="76.4" cy="8.1" r="2.35"/><circle cx="76.6" cy="5.3" r="2.35"/><circle cx="76.8" cy="8.0" r="2.35"/><circle cx="77.0" cy="8.2" r="2.35"/><circle cx="77.2" cy="7.7" r="2.35"/><circle cx="77.4" cy="8.3" r="2.35"/><circle cx="77.6" cy="6.8" r="2.35"/><circle cx="77.8" cy="7.2" r="2.35"/><circle cx="78.0" cy="9.2" r="2.35"/><circle cx="78.2" cy="7.4" r="2.35"/><circle cx="78.4" cy="8.7" r="2.35"/><circle cx="78.6" cy="8.8" r="2.35"/><circle cx="78.8" cy="8.0" r="2.35"/><circle cx="79.0" cy="5.9" r="2.35"/><circle cx="79.2" cy="7.2" r="2.35"/><circle cx="79.4" cy="5.4" r="2.35"/><circle cx="79.6" cy="4.9" r="2.35"/><circle cx="79.8" cy="7.8" r="2.35"/><circle cx="80.0" cy="8.8" r="2.35"/><circle cx="80.2" cy="9.2" r="2.35"/><circle cx="80.4" cy="7.2" r="2.35"/><circle cx="80.6" cy="6.1" r="2.35"/><circle cx="80.8" cy="4.8" r="2.35"/><circle cx="81.0" cy="10.1" r="2.35"/><circle cx="81.2" cy="6.0" r="2.35"/><circle cx="81.4" cy="5.8" r="2.35"/><circle cx="81.6" cy="3.2" r="2.35"/><circle cx="81.8" cy="7.4" r="2.35"/><circle cx="82.0" cy="7.8" r="2.35"/><circle cx="82.2" cy="10.5" r="2.35"/><circle cx="82.3" cy="9.2" r="2.35"/><circle cx="82.5" cy="9.8" r="2.35"/><circle cx="82.7" cy="9.6" r="2.35"/><circle cx="82.9" cy="9.4" r="2.35"/><circle cx="83.1" cy="10.5" r="2.35"/><circle cx="83.3" cy="7.9" r="2.35"/><circle cx="83.5" cy="7.0" r="2.35"/><circle cx="83.7" cy="6.3" r="2.35"/><circle cx="83.9" cy="7.9" r="2.35"/><circle cx="84.1" cy="5.8" r="2.35"/><circle cx="84.3" cy="5.7" r="2.35"/><circle cx="84.5" cy="10.5" r="2.35"/><circle cx="84.7" cy="8.2" r="2.35"/><circle cx="84.9" cy="10.0" r="2.35"/><circle cx="85.1" cy="9.5" r="2.35"/><circle cx="85.3" cy="7.4" r="2.35"/><circle cx="85.5" cy="7.9" r="2.35"/><circle cx="85.7" cy="5.0" r="2.35"/><circle cx="85.9" cy="3.9" r="2.35"/><circle cx="86.1" cy="6.9" r="2.35"/><circle cx="86.3" cy="8.1" r="2.35"/><circle cx="86.5" cy="8.0" r="2.35"/><circle cx="86.7" cy="9.8" r="2.35"/><circle cx="86.9" cy="8.7" r="2.35"/><circle cx="87.1" cy="11.1" r="2.35"/><circle cx="87.3" cy="8.7" r="2.35"/><circle cx="87.5" cy="10.2" r="2.35"/><circle cx="87.7" cy="7.8" r="2.35"/><circle cx="87.9" cy="7.2" r="2.35"/><circle cx="88.1" cy="6.5" r="2.35"/><circle cx="88.3" cy="10.0" r="2.35"/><circle cx="88.5" cy="12.2" r="2.35"/><circle cx="88.7" cy="12.8" r="2.35"/><circle cx="88.9" cy="10.3" r="2.35"/><circle cx="89.1" cy="12.4" r="2.35"/><circle cx="89.3" cy="12.8" r="2.35"/><circle cx="89.5" cy="10.4" r="2.35"/><circle cx="89.7" cy="11.6" r="2.35"/><circle cx="89.9" cy="8.5" r="2.35"/><circle cx="90.1" cy="6.2" r="2.35"/><circle cx="90.3" cy="10.1" r="2.35"/><circle cx="90.5" cy="9.2" r="2.35"/><circle cx="90.7" cy="12.6" r="2.35"/><circle cx="90.9" cy="9.4" r="2.35"/><circle cx="91.0" cy="11.0" r="2.35"/><circle cx="91.2" cy="11.8" r="2.35"/><circle cx="91.4" cy="13.2" r="2.35"/><circle cx="91.6" cy="6.8" r="2.35"/><circle cx="91.8" cy="12.7" r="2.35"/><circle cx="92.0" cy="12.0" r="2.35"/><circle cx="92.2" cy="9.7" r="2.35"/><circle cx="92.4" cy="9.2" r="2.35"/><circle cx="92.6" cy="9.2" r="2.35"/><circle cx="92.8" cy="9.5" r="2.35"/><circle cx="93.0" cy="11.4" r="2.35"/><circle cx="93.2" cy="8.3" r="2.35"/><circle cx="93.4" cy="9.4" r="2.35"/><circle cx="93.6" cy="12.4" r="2.35"/><circle cx="93.8" cy="6.8" r="2.35"/><circle cx="94.0" cy="10.3" r="2.35"/><circle cx="94.2" cy="8.0" r="2.35"/><circle cx="94.4" cy="12.4" r="2.35"/><circle cx="94.6" cy="11.9" r="2.35"/><circle cx="94.8" cy="10.8" r="2.35"/><circle cx="95.0" cy="11.0" r="2.35"/><circle cx="95.2" cy="7.8" r="2.35"/><circle cx="95.4" cy="12.7" r="2.35"/><circle cx="95.6" cy="9.4" r="2.35"/><circle cx="95.8" cy="11.6" r="2.35"/><circle cx="96.0" cy="8.7" r="2.35"/><circle cx="96.2" cy="9.3" r="2.35"/><circle cx="96.4" cy="10.7" r="2.35"/><circle cx="96.6" cy="5.6" r="2.35"/><circle cx="96.8" cy="9.8" r="2.35"/><circle cx="97.0" cy="7.7" r="2.35"/><circle cx="97.2" cy="12.1" r="2.35"/><circle cx="97.4" cy="9.9" r="2.35"/><circle cx="97.6" cy="9.5" r="2.35"/><circle cx="97.8" cy="9.4" r="2.35"/><circle cx="98.0" cy="10.3" r="2.35"/><circle cx="98.2" cy="11.2" r="2.35"/><circle cx="98.4" cy="15.0" r="2.35"/><circle cx="98.6" cy="10.7" r="2.35"/><circle cx="98.8" cy="11.4" r="2.35"/><circle cx="99.0" cy="10.2" r="2.35"/><circle cx="99.2" cy="8.1" r="2.35"/><circle cx="99.4" cy="5.6" r="2.35"/><circle cx="99.6" cy="8.7" r="2.35"/><circle cx="99.8" cy="7.8" r="2.35"/><circle cx="99.9" cy="8.5" r="2.35"/><circle cx="100.1" cy="8.3" r="2.35"/><circle cx="100.3" cy="8.6" r="2.35"/><circle cx="100.5" cy="10.2" r="2.35"/><circle cx="100.7" cy="10.3" r="2.35"/><circle cx="100.9" cy="9.1" r="2.35"/><circle cx="101.1" cy="6.4" r="2.35"/><circle cx="101.3" cy="8.2" r="2.35"/><circle cx="101.5" cy="6.7" r="2.35"/><circle cx="101.7" cy="12.1" r="2.35"/><circle cx="101.9" cy="9.2" r="2.35"/><circle cx="102.1" cy="8.9" r="2.35"/><circle cx="102.3" cy="8.7" r="2.35"/><circle cx="102.5" cy="12.2" r="2.35"/><circle cx="102.7" cy="13.1" r="2.35"/><circle cx="102.9" cy="13.6" r="2.35"/><circle cx="103.1" cy="10.4" r="2.35"/><circle cx="103.3" cy="5.3" r="2.35"/><circle cx="103.5" cy="9.3" r="2.35"/><circle cx="103.7" cy="11.9" r="2.35"/><circle cx="103.9" cy="9.0" r="2.35"/><circle cx="104.1" cy="10.2" r="2.35"/><circle cx="104.3" cy="9.3" r="2.35"/><circle cx="104.5" cy="10.5" r="2.35"/><circle cx="104.7" cy="12.0" r="2.35"/><circle cx="104.9" cy="10.6" r="2.35"/><circle cx="105.1" cy="8.3" r="2.35"/><circle cx="105.3" cy="9.1" r="2.35"/><circle cx="105.5" cy="7.4" r="2.35"/><circle cx="105.7" cy="11.6" r="2.35"/><circle cx="105.9" cy="7.7" r="2.35"/><circle cx="106.1" cy="9.5" r="2.35"/><circle cx="106.3" cy="9.3" r="2.35"/><circle cx="106.5" cy="5.9" r="2.35"/><circle cx="106.7" cy="8.4" r="2.35"/><circle cx="106.9" cy="7.7" r="2.35"/><circle cx="107.1" cy="7.0" r="2.35"/><circle cx="107.3" cy="7.0" r="2.35"/><circle cx="107.5" cy="6.7" r="2.35"/><circle cx="107.7" cy="5.8" r="2.35"/><circle cx="107.9" cy="7.2" r="2.35"/><circle cx="108.1" cy="9.0" r="2.35"/><circle cx="108.3" cy="3.6" r="2.35"/><circle cx="108.5" cy="8.2" r="2.35"/><circle cx="108.6" cy="7.4" r="2.35"/><circle cx="108.8" cy="9.5" r="2.35"/><circle cx="109.0" cy="12.2" r="2.35"/><circle cx="109.2" cy="9.6" r="2.35"/><circle cx="109.4" cy="8.0" r="2.35"/><circle cx="109.6" cy="7.2" r="2.35"/><circle cx="109.8" cy="8.1" r="2.35"/><circle cx="110.0" cy="6.7" r="2.35"/><circle cx="110.2" cy="6.3" r="2.35"/><circle cx="110.4" cy="6.3" r="2.35"/><circle cx="110.6" cy="8.1" r="2.35"/><circle cx="110.8" cy="8.0" r="2.35"/><circle cx="111.0" cy="8.5" r="2.35"/><circle cx="111.2" cy="9.7" r="2.35"/><circle cx="111.4" cy="5.5" r="2.35"/><circle cx="111.6" cy="10.4" r="2.35"/><circle cx="111.8" cy="8.3" r="2.35"/><circle cx="112.0" cy="7.7" r="2.35"/><circle cx="112.2" cy="12.1" r="2.35"/><circle cx="112.4" cy="6.8" r="2.35"/><circle cx="112.6" cy="8.8" r="2.35"/><circle cx="112.8" cy="7.7" r="2.35"/><circle cx="113.0" cy="8.7" r="2.35"/><circle cx="113.2" cy="11.0" r="2.35"/><circle cx="113.4" cy="7.8" r="2.35"/><circle cx="113.6" cy="7.9" r="2.35"/><circle cx="113.8" cy="6.3" r="2.35"/><circle cx="114.0" cy="7.2" r="2.35"/><circle cx="114.2" cy="11.2" r="2.35"/><circle cx="114.4" cy="6.1" r="2.35"/><circle cx="114.6" cy="6.7" r="2.35"/><circle cx="114.8" cy="6.7" r="2.35"/><circle cx="115.0" cy="7.2" r="2.35"/><circle cx="115.2" cy="9.4" r="2.35"/><circle cx="115.4" cy="7.1" r="2.35"/><circle cx="115.6" cy="8.8" r="2.35"/><circle cx="115.8" cy="2.9" r="2.35"/><circle cx="116.0" cy="8.6" r="2.35"/><circle cx="116.2" cy="10.2" r="2.35"/><circle cx="116.4" cy="8.7" r="2.35"/><circle cx="116.6" cy="5.5" r="2.35"/><circle cx="116.8" cy="9.2" r="2.35"/><circle cx="117.0" cy="12.6" r="2.35"/><circle cx="117.2" cy="5.4" r="2.35"/><circle cx="117.3" cy="7.5" r="2.35"/><circle cx="117.5" cy="9.0" r="2.35"/><circle cx="117.7" cy="6.8" r="2.35"/><circle cx="117.9" cy="9.8" r="2.35"/><circle cx="118.1" cy="3.5" r="2.35"/><circle cx="118.3" cy="6.4" r="2.35"/><circle cx="118.5" cy="9.1" r="2.35"/><circle cx="118.7" cy="7.1" r="2.35"/><circle cx="118.9" cy="8.1" r="2.35"/><circle cx="119.1" cy="6.6" r="2.35"/><circle cx="119.3" cy="7.9" r="2.35"/><circle cx="119.5" cy="11.9" r="2.35"/><circle cx="119.7" cy="6.9" r="2.35"/><circle cx="119.9" cy="9.0" r="2.35"/><circle cx="120.1" cy="6.5" r="2.35"/><circle cx="120.3" cy="7.9" r="2.35"/><circle cx="120.5" cy="5.5" r="2.35"/><circle cx="120.7" cy="8.7" r="2.35"/><circle cx="120.9" cy="11.9" r="2.35"/><circle cx="121.1" cy="8.7" r="2.35"/><circle cx="121.3" cy="7.2" r="2.35"/><circle cx="121.5" cy="8.8" r="2.35"/><circle cx="121.7" cy="9.0" r="2.35"/><circle cx="121.9" cy="5.4" r="2.35"/><circle cx="122.1" cy="8.4" r="2.35"/><circle cx="122.3" cy="6.2" r="2.35"/><circle cx="122.5" cy="7.8" r="2.35"/><circle cx="122.7" cy="10.8" r="2.35"/><circle cx="122.9" cy="9.9" r="2.35"/><circle cx="123.1" cy="8.7" r="2.35"/><circle cx="123.3" cy="7.6" r="2.35"/><circle cx="123.5" cy="9.6" r="2.35"/><circle cx="123.7" cy="10.7" r="2.35"/><circle cx="123.9" cy="10.0" r="2.35"/><circle cx="124.1" cy="9.1" r="2.35"/><circle cx="124.3" cy="9.8" r="2.35"/><circle cx="124.5" cy="9.2" r="2.35"/><circle cx="124.7" cy="4.7" r="2.35"/><circle cx="124.9" cy="7.6" r="2.35"/><circle cx="125.1" cy="9.6" r="2.35"/><circle cx="125.3" cy="8.1" r="2.35"/><circle cx="125.5" cy="5.2" r="2.35"/><circle cx="125.7" cy="6.9" r="2.35"/><circle cx="125.9" cy="8.3" r="2.35"/><circle cx="126.1" cy="10.6" r="2.35"/><circle cx="126.2" cy="11.3" r="2.35"/><circle cx="126.4" cy="8.8" r="2.35"/><circle cx="126.6" cy="8.3" r="2.35"/><circle cx="126.8" cy="11.1" r="2.35"/><circle cx="127.0" cy="10.6" r="2.35"/><circle cx="127.2" cy="8.2" r="2.35"/><circle cx="127.4" cy="12.2" r="2.35"/><circle cx="127.6" cy="11.3" r="2.35"/><circle cx="127.8" cy="8.2" r="2.35"/><circle cx="128.0" cy="7.1" r="2.35"/><circle cx="128.2" cy="7.5" r="2.35"/><circle cx="128.4" cy="6.3" r="2.35"/><circle cx="128.6" cy="5.2" r="2.35"/><circle cx="128.8" cy="6.5" r="2.35"/><circle cx="129.0" cy="8.6" r="2.35"/><circle cx="129.2" cy="4.2" r="2.35"/><circle cx="129.4" cy="5.0" r="2.35"/><circle cx="129.6" cy="6.4" r="2.35"/><circle cx="129.8" cy="9.6" r="2.35"/><circle cx="130.0" cy="7.4" r="2.35"/><circle cx="130.2" cy="12.0" r="2.35"/><circle cx="130.4" cy="8.7" r="2.35"/><circle cx="130.6" cy="12.7" r="2.35"/><circle cx="130.8" cy="8.9" r="2.35"/><circle cx="131.0" cy="6.2" r="2.35"/><circle cx="131.2" cy="8.1" r="2.35"/><circle cx="131.4" cy="5.1" r="2.35"/><circle cx="131.6" cy="8.1" r="2.35"/><circle cx="131.8" cy="7.9" r="2.35"/><circle cx="132.0" cy="8.7" r="2.35"/><circle cx="132.2" cy="7.1" r="2.35"/><circle cx="132.4" cy="8.2" r="2.35"/><circle cx="132.6" cy="5.9" r="2.35"/><circle cx="132.8" cy="5.1" r="2.35"/><circle cx="133.0" cy="7.4" r="2.35"/><circle cx="133.2" cy="10.2" r="2.35"/><circle cx="133.4" cy="7.1" r="2.35"/><circle cx="133.6" cy="5.6" r="2.35"/><circle cx="133.8" cy="6.9" r="2.35"/><circle cx="134.0" cy="7.6" r="2.35"/><circle cx="134.2" cy="6.4" r="2.35"/><circle cx="134.4" cy="5.7" r="2.35"/><circle cx="134.6" cy="12.9" r="2.35"/><circle cx="134.8" cy="5.3" r="2.35"/><circle cx="134.9" cy="6.7" r="2.35"/><circle cx="135.1" cy="7.2" r="2.35"/><circle cx="135.3" cy="9.1" r="2.35"/><circle cx="135.5" cy="7.7" r="2.35"/><circle cx="135.7" cy="7.0" r="2.35"/><circle cx="135.9" cy="10.8" r="2.35"/><circle cx="136.1" cy="6.7" r="2.35"/><circle cx="136.3" cy="8.0" r="2.35"/><circle cx="136.5" cy="5.4" r="2.35"/><circle cx="136.7" cy="6.8" r="2.35"/><circle cx="136.9" cy="8.4" r="2.35"/><circle cx="137.1" cy="8.0" r="2.35"/><circle cx="137.3" cy="6.9" r="2.35"/><circle cx="137.5" cy="7.8" r="2.35"/><circle cx="137.7" cy="7.1" r="2.35"/><circle cx="137.9" cy="9.4" r="2.35"/><circle cx="138.1" cy="10.4" r="2.35"/><circle cx="138.3" cy="9.1" r="2.35"/><circle cx="138.5" cy="10.7" r="2.35"/><circle cx="138.7" cy="9.5" r="2.35"/><circle cx="138.9" cy="7.4" r="2.35"/><circle cx="139.1" cy="11.1" r="2.35"/><circle cx="139.3" cy="10.4" r="2.35"/><circle cx="139.5" cy="6.7" r="2.35"/><circle cx="139.7" cy="9.1" r="2.35"/><circle cx="139.9" cy="8.1" r="2.35"/><circle cx="140.1" cy="10.4" r="2.35"/><circle cx="140.3" cy="10.0" r="2.35"/><circle cx="140.5" cy="8.6" r="2.35"/><circle cx="140.7" cy="5.1" r="2.35"/><circle cx="140.9" cy="7.3" r="2.35"/><circle cx="141.1" cy="11.2" r="2.35"/><circle cx="141.3" cy="7.3" r="2.35"/><circle cx="141.5" cy="6.4" r="2.35"/><circle cx="141.7" cy="6.8" r="2.35"/><circle cx="141.9" cy="10.3" r="2.35"/><circle cx="142.1" cy="8.2" r="2.35"/><circle cx="142.3" cy="4.2" r="2.35"/><circle cx="142.5" cy="9.8" r="2.35"/><circle cx="142.7" cy="7.5" r="2.35"/><circle cx="142.9" cy="9.5" r="2.35"/><circle cx="143.1" cy="10.4" r="2.35"/><circle cx="143.3" cy="8.9" r="2.35"/><circle cx="143.5" cy="6.2" r="2.35"/><circle cx="143.7" cy="5.9" r="2.35"/><circle cx="143.8" cy="9.7" r="2.35"/><circle cx="144.0" cy="9.0" r="2.35"/><circle cx="144.2" cy="9.7" r="2.35"/><circle cx="144.4" cy="11.9" r="2.35"/><circle cx="144.6" cy="7.0" r="2.35"/><circle cx="144.8" cy="5.2" r="2.35"/><circle cx="145.0" cy="5.3" r="2.35"/><circle cx="145.2" cy="8.9" r="2.35"/><circle cx="145.4" cy="5.6" r="2.35"/><circle cx="145.6" cy="6.1" r="2.35"/><circle cx="145.8" cy="8.7" r="2.35"/><circle cx="146.0" cy="10.1" r="2.35"/><circle cx="146.2" cy="10.8" r="2.35"/><circle cx="146.4" cy="9.7" r="2.35"/><circle cx="146.6" cy="6.8" r="2.35"/><circle cx="146.8" cy="11.8" r="2.35"/><circle cx="147.0" cy="12.3" r="2.35"/><circle cx="147.2" cy="8.5" r="2.35"/><circle cx="147.4" cy="10.0" r="2.35"/><circle cx="147.6" cy="13.6" r="2.35"/><circle cx="147.8" cy="12.0" r="2.35"/><circle cx="148.0" cy="11.6" r="2.35"/><circle cx="148.2" cy="11.2" r="2.35"/><circle cx="148.4" cy="9.5" r="2.35"/><circle cx="148.6" cy="8.3" r="2.35"/><circle cx="148.8" cy="10.4" r="2.35"/><circle cx="149.0" cy="9.8" r="2.35"/><circle cx="149.2" cy="11.5" r="2.35"/><circle cx="149.4" cy="8.2" r="2.35"/><circle cx="149.6" cy="7.6" r="2.35"/><circle cx="149.8" cy="10.6" r="2.35"/><circle cx="150.0" cy="11.5" r="2.35"/><circle cx="150.2" cy="6.3" r="2.35"/><circle cx="150.4" cy="8.4" r="2.35"/><circle cx="150.6" cy="11.8" r="2.35"/><circle cx="150.8" cy="13.2" r="2.35"/><circle cx="151.0" cy="10.6" r="2.35"/><circle cx="151.2" cy="7.9" r="2.35"/><circle cx="151.4" cy="11.1" r="2.35"/><circle cx="151.6" cy="10.6" r="2.35"/><circle cx="151.8" cy="11.0" r="2.35"/><circle cx="152.0" cy="8.9" r="2.35"/><circle cx="152.2" cy="7.5" r="2.35"/><circle cx="152.4" cy="12.4" r="2.35"/><circle cx="152.5" cy="10.6" r="2.35"/><circle cx="152.7" cy="10.5" r="2.35"/><circle cx="152.9" cy="11.2" r="2.35"/><circle cx="153.1" cy="12.3" r="2.35"/><circle cx="153.3" cy="8.6" r="2.35"/><circle cx="153.5" cy="9.8" r="2.35"/><circle cx="153.7" cy="8.8" r="2.35"/><circle cx="153.9" cy="7.3" r="2.35"/><circle cx="154.1" cy="10.8" r="2.35"/><circle cx="154.3" cy="9.1" r="2.35"/><circle cx="154.5" cy="10.8" r="2.35"/><circle cx="154.7" cy="10.3" r="2.35"/><circle cx="154.9" cy="9.5" r="2.35"/><circle cx="155.1" cy="10.4" r="2.35"/><circle cx="155.3" cy="12.9" r="2.35"/><circle cx="155.5" cy="7.3" r="2.35"/><circle cx="155.7" cy="9.8" r="2.35"/><circle cx="155.9" cy="12.2" r="2.35"/><circle cx="156.1" cy="14.2" r="2.35"/><circle cx="156.3" cy="10.1" r="2.35"/><circle cx="156.5" cy="8.9" r="2.35"/><circle cx="156.7" cy="8.2" r="2.35"/><circle cx="156.9" cy="8.0" r="2.35"/><circle cx="157.1" cy="10.8" r="2.35"/><circle cx="157.3" cy="8.9" r="2.35"/><circle cx="157.5" cy="12.9" r="2.35"/><circle cx="157.7" cy="9.8" r="2.35"/><circle cx="157.9" cy="8.4" r="2.35"/><circle cx="158.1" cy="11.2" r="2.35"/><circle cx="158.3" cy="10.4" r="2.35"/><circle cx="158.5" cy="9.9" r="2.35"/><circle cx="158.7" cy="9.8" r="2.35"/><circle cx="158.9" cy="7.3" r="2.35"/><circle cx="159.1" cy="12.1" r="2.35"/><circle cx="159.3" cy="7.6" r="2.35"/><circle cx="159.5" cy="12.4" r="2.35"/><circle cx="159.7" cy="11.3" r="2.35"/><circle cx="159.9" cy="11.5" r="2.35"/><circle cx="160.1" cy="10.2" r="2.35"/><circle cx="160.3" cy="11.0" r="2.35"/><circle cx="160.5" cy="9.2" r="2.35"/><circle cx="160.7" cy="10.1" r="2.35"/><circle cx="160.9" cy="6.0" r="2.35"/><circle cx="161.1" cy="9.4" r="2.35"/><circle cx="161.2" cy="10.5" r="2.35"/><circle cx="161.4" cy="9.4" r="2.35"/><circle cx="161.6" cy="9.0" r="2.35"/><circle cx="161.8" cy="10.4" r="2.35"/><circle cx="162.0" cy="12.1" r="2.35"/><circle cx="162.2" cy="11.6" r="2.35"/><circle cx="162.4" cy="9.8" r="2.35"/><circle cx="162.6" cy="8.5" r="2.35"/><circle cx="162.8" cy="9.2" r="2.35"/><circle cx="163.0" cy="10.2" r="2.35"/><circle cx="163.2" cy="9.0" r="2.35"/><circle cx="163.4" cy="11.0" r="2.35"/><circle cx="163.6" cy="9.6" r="2.35"/><circle cx="163.8" cy="7.5" r="2.35"/><circle cx="164.0" cy="8.0" r="2.35"/><circle cx="164.2" cy="7.6" r="2.35"/><circle cx="164.4" cy="10.8" r="2.35"/><circle cx="164.6" cy="9.7" r="2.35"/><circle cx="164.8" cy="11.9" r="2.35"/><circle cx="165.0" cy="8.4" r="2.35"/><circle cx="165.2" cy="10.9" r="2.35"/><circle cx="165.4" cy="12.5" r="2.35"/><circle cx="165.6" cy="11.0" r="2.35"/></g>
<g id="p2" class="pt"><circle cx="7.6" cy="11.7" r="2.35"/><circle cx="8.1" cy="16.7" r="2.35"/><circle cx="8.5" cy="15.1" r="2.35"/><circle cx="9.0" cy="10.2" r="2.35"/><circle cx="9.5" cy="12.0" r="2.35"/><circle cx="9.9" cy="12.3" r="2.35"/><circle cx="10.4" cy="15.5" r="2.35"/><circle cx="10.9" cy="9.0" r="2.35"/><circle cx="11.3" cy="10.1" r="2.35"/><circle cx="11.8" cy="10.8" r="2.35"/><circle cx="12.3" cy="14.5" r="2.35"/><circle cx="12.7" cy="11.0" r="2.35"/><circle cx="13.2" cy="9.9" r="2.35"/><circle cx="13.7" cy="12.9" r="2.35"/><circle cx="14.1" cy="12.7" r="2.35"/><circle cx="14.6" cy="13.2" r="2.35"/><circle cx="15.1" cy="11.0" r="2.35"/><circle cx="15.5" cy="12.7" r="2.35"/><circle cx="16.0" cy="12.9" r="2.35"/><circle cx="16.5" cy="17.2" r="2.35"/><circle cx="16.9" cy="15.6" r="2.35"/><circle cx="17.4" cy="10.3" r="2.35"/><circle cx="17.9" cy="9.0" r="2.35"/><circle cx="18.3" cy="10.5" r="2.35"/><circle cx="18.8" cy="9.3" r="2.35"/><circle cx="19.3" cy="13.3" r="2.35"/><circle cx="19.7" cy="12.3" r="2.35"/><circle cx="20.2" cy="11.5" r="2.35"/><circle cx="20.7" cy="12.6" r="2.35"/><circle cx="21.1" cy="8.8" r="2.35"/><circle cx="21.6" cy="15.0" r="2.35"/><circle cx="22.0" cy="13.4" r="2.35"/><circle cx="22.5" cy="13.0" r="2.35"/><circle cx="23.0" cy="13.7" r="2.35"/><circle cx="23.4" cy="10.5" r="2.35"/><circle cx="23.9" cy="16.3" r="2.35"/><circle cx="24.4" cy="9.9" r="2.35"/><circle cx="24.8" cy="10.4" r="2.35"/><circle cx="25.3" cy="11.6" r="2.35"/><circle cx="25.8" cy="9.4" r="2.35"/><circle cx="26.2" cy="7.4" r="2.35"/><circle cx="26.7" cy="11.9" r="2.35"/><circle cx="27.2" cy="10.7" r="2.35"/><circle cx="27.6" cy="9.1" r="2.35"/><circle cx="28.1" cy="8.8" r="2.35"/><circle cx="28.6" cy="10.9" r="2.35"/><circle cx="29.0" cy="11.3" r="2.35"/><circle cx="29.5" cy="8.6" r="2.35"/><circle cx="30.0" cy="10.9" r="2.35"/><circle cx="30.4" cy="7.9" r="2.35"/><circle cx="30.9" cy="8.2" r="2.35"/><circle cx="31.4" cy="10.8" r="2.35"/><circle cx="31.8" cy="9.1" r="2.35"/><circle cx="32.3" cy="9.7" r="2.35"/><circle cx="32.8" cy="10.1" r="2.35"/><circle cx="33.2" cy="7.5" r="2.35"/><circle cx="33.7" cy="9.8" r="2.35"/><circle cx="34.2" cy="9.4" r="2.35"/><circle cx="34.6" cy="13.8" r="2.35"/><circle cx="35.1" cy="8.6" r="2.35"/><circle cx="35.6" cy="12.8" r="2.35"/><circle cx="36.0" cy="10.6" r="2.35"/><circle cx="36.5" cy="6.5" r="2.35"/><circle cx="37.0" cy="6.2" r="2.35"/><circle cx="37.4" cy="10.6" r="2.35"/><circle cx="37.9" cy="12.4" r="2.35"/><circle cx="38.4" cy="9.0" r="2.35"/><circle cx="38.8" cy="10.6" r="2.35"/><circle cx="39.3" cy="9.1" r="2.35"/><circle cx="39.8" cy="12.6" r="2.35"/><circle cx="40.2" cy="7.5" r="2.35"/><circle cx="40.7" cy="6.7" r="2.35"/><circle cx="41.2" cy="12.8" r="2.35"/><circle cx="41.6" cy="11.4" r="2.35"/><circle cx="42.1" cy="11.3" r="2.35"/><circle cx="42.6" cy="8.3" r="2.35"/><circle cx="43.0" cy="13.9" r="2.35"/><circle cx="43.5" cy="9.4" r="2.35"/><circle cx="44.0" cy="10.3" r="2.35"/><circle cx="44.4" cy="11.4" r="2.35"/><circle cx="44.9" cy="8.4" r="2.35"/><circle cx="45.4" cy="13.8" r="2.35"/><circle cx="45.8" cy="12.6" r="2.35"/><circle cx="46.3" cy="11.4" r="2.35"/><circle cx="46.8" cy="8.4" r="2.35"/><circle cx="47.2" cy="10.5" r="2.35"/><circle cx="47.7" cy="11.5" r="2.35"/><circle cx="48.1" cy="8.8" r="2.35"/><circle cx="48.6" cy="10.8" r="2.35"/><circle cx="49.1" cy="11.1" r="2.35"/><circle cx="49.5" cy="10.4" r="2.35"/><circle cx="50.0" cy="9.1" r="2.35"/><circle cx="50.5" cy="4.7" r="2.35"/><circle cx="50.9" cy="12.0" r="2.35"/><circle cx="51.4" cy="9.2" r="2.35"/><circle cx="51.9" cy="10.1" r="2.35"/><circle cx="52.3" cy="10.3" r="2.35"/><circle cx="52.8" cy="6.7" r="2.35"/><circle cx="53.3" cy="8.2" r="2.35"/><circle cx="53.7" cy="8.4" r="2.35"/><circle cx="54.2" cy="10.7" r="2.35"/><circle cx="54.7" cy="11.5" r="2.35"/><circle cx="55.1" cy="3.7" r="2.35"/><circle cx="55.6" cy="10.4" r="2.35"/><circle cx="56.1" cy="11.0" r="2.35"/><circle cx="56.5" cy="8.4" r="2.35"/><circle cx="57.0" cy="12.3" r="2.35"/><circle cx="57.5" cy="11.3" r="2.35"/><circle cx="57.9" cy="8.2" r="2.35"/><circle cx="58.4" cy="9.9" r="2.35"/><circle cx="58.9" cy="8.4" r="2.35"/><circle cx="59.3" cy="11.5" r="2.35"/><circle cx="59.8" cy="8.3" r="2.35"/><circle cx="60.3" cy="11.2" r="2.35"/><circle cx="60.7" cy="7.0" r="2.35"/><circle cx="61.2" cy="8.1" r="2.35"/><circle cx="61.7" cy="8.8" r="2.35"/><circle cx="62.1" cy="6.6" r="2.35"/><circle cx="62.6" cy="9.0" r="2.35"/><circle cx="63.1" cy="11.1" r="2.35"/><circle cx="63.5" cy="6.6" r="2.35"/><circle cx="64.0" cy="9.0" r="2.35"/><circle cx="64.5" cy="7.3" r="2.35"/><circle cx="64.9" cy="9.4" r="2.35"/><circle cx="65.4" cy="7.4" r="2.35"/><circle cx="65.9" cy="11.5" r="2.35"/><circle cx="66.3" cy="12.3" r="2.35"/><circle cx="66.8" cy="12.6" r="2.35"/><circle cx="67.3" cy="5.7" r="2.35"/><circle cx="67.7" cy="11.3" r="2.35"/><circle cx="68.2" cy="10.9" r="2.35"/><circle cx="68.7" cy="10.2" r="2.35"/><circle cx="69.1" cy="6.8" r="2.35"/><circle cx="69.6" cy="6.4" r="2.35"/><circle cx="70.1" cy="8.9" r="2.35"/><circle cx="70.5" cy="5.7" r="2.35"/><circle cx="71.0" cy="6.6" r="2.35"/><circle cx="71.5" cy="4.8" r="2.35"/><circle cx="71.9" cy="5.3" r="2.35"/><circle cx="72.4" cy="8.7" r="2.35"/><circle cx="72.9" cy="6.9" r="2.35"/><circle cx="73.3" cy="7.6" r="2.35"/><circle cx="73.8" cy="6.3" r="2.35"/><circle cx="74.2" cy="6.8" r="2.35"/><circle cx="74.7" cy="7.2" r="2.35"/><circle cx="75.2" cy="5.8" r="2.35"/><circle cx="75.6" cy="7.1" r="2.35"/><circle cx="76.1" cy="5.8" r="2.35"/><circle cx="76.6" cy="7.2" r="2.35"/><circle cx="77.0" cy="7.6" r="2.35"/><circle cx="77.5" cy="5.4" r="2.35"/><circle cx="78.0" cy="5.3" r="2.35"/><circle cx="78.4" cy="4.7" r="2.35"/><circle cx="78.9" cy="6.0" r="2.35"/><circle cx="79.4" cy="7.7" r="2.35"/><circle cx="79.8" cy="6.9" r="2.35"/><circle cx="80.3" cy="6.9" r="2.35"/><circle cx="80.8" cy="10.8" r="2.35"/><circle cx="81.2" cy="9.5" r="2.35"/><circle cx="81.7" cy="4.1" r="2.35"/><circle cx="82.2" cy="7.4" r="2.35"/><circle cx="82.6" cy="12.9" r="2.35"/><circle cx="83.1" cy="7.5" r="2.35"/><circle cx="83.6" cy="6.9" r="2.35"/><circle cx="84.0" cy="9.8" r="2.35"/><circle cx="84.5" cy="2.6" r="2.35"/><circle cx="85.0" cy="4.9" r="2.35"/><circle cx="85.4" cy="5.6" r="2.35"/><circle cx="85.9" cy="7.6" r="2.35"/><circle cx="86.4" cy="6.3" r="2.35"/><circle cx="86.8" cy="7.6" r="2.35"/><circle cx="87.3" cy="8.3" r="2.35"/><circle cx="87.8" cy="10.7" r="2.35"/><circle cx="88.2" cy="8.9" r="2.35"/><circle cx="88.7" cy="9.0" r="2.35"/><circle cx="89.2" cy="8.7" r="2.35"/><circle cx="89.6" cy="11.4" r="2.35"/><circle cx="90.1" cy="8.8" r="2.35"/><circle cx="90.6" cy="9.3" r="2.35"/><circle cx="91.0" cy="8.8" r="2.35"/><circle cx="91.5" cy="8.9" r="2.35"/><circle cx="92.0" cy="12.3" r="2.35"/><circle cx="92.4" cy="7.6" r="2.35"/><circle cx="92.9" cy="7.8" r="2.35"/><circle cx="93.4" cy="12.1" r="2.35"/><circle cx="93.8" cy="9.5" r="2.35"/><circle cx="94.3" cy="11.1" r="2.35"/><circle cx="94.8" cy="10.3" r="2.35"/><circle cx="95.2" cy="7.3" r="2.35"/><circle cx="95.7" cy="8.3" r="2.35"/><circle cx="96.2" cy="5.3" r="2.35"/><circle cx="96.6" cy="9.2" r="2.35"/><circle cx="97.1" cy="11.6" r="2.35"/><circle cx="97.6" cy="9.1" r="2.35"/><circle cx="98.0" cy="14.4" r="2.35"/><circle cx="98.5" cy="5.7" r="2.35"/><circle cx="99.0" cy="8.8" r="2.35"/><circle cx="99.4" cy="8.5" r="2.35"/><circle cx="99.9" cy="9.1" r="2.35"/><circle cx="100.3" cy="11.1" r="2.35"/><circle cx="100.8" cy="9.6" r="2.35"/><circle cx="101.3" cy="11.0" r="2.35"/><circle cx="101.7" cy="10.5" r="2.35"/><circle cx="102.2" cy="8.7" r="2.35"/><circle cx="102.7" cy="11.9" r="2.35"/><circle cx="103.1" cy="6.1" r="2.35"/><circle cx="103.6" cy="11.6" r="2.35"/><circle cx="104.1" cy="7.8" r="2.35"/><circle cx="104.5" cy="10.8" r="2.35"/><circle cx="105.0" cy="12.0" r="2.35"/><circle cx="105.5" cy="8.7" r="2.35"/><circle cx="105.9" cy="9.1" r="2.35"/><circle cx="106.4" cy="8.5" r="2.35"/><circle cx="106.9" cy="8.2" r="2.35"/><circle cx="107.3" cy="9.3" r="2.35"/><circle cx="107.8" cy="7.2" r="2.35"/><circle cx="108.3" cy="9.1" r="2.35"/><circle cx="108.7" cy="8.1" r="2.35"/><circle cx="109.2" cy="5.8" r="2.35"/><circle cx="109.7" cy="10.8" r="2.35"/><circle cx="110.1" cy="9.3" r="2.35"/><circle cx="110.6" cy="9.5" r="2.35"/><circle cx="111.1" cy="9.8" r="2.35"/><circle cx="111.5" cy="10.9" r="2.35"/><circle cx="112.0" cy="8.7" r="2.35"/><circle cx="112.5" cy="7.8" r="2.35"/><circle cx="112.9" cy="8.4" r="2.35"/><circle cx="113.4" cy="11.4" r="2.35"/><circle cx="113.9" cy="6.8" r="2.35"/><circle cx="114.3" cy="6.7" r="2.35"/><circle cx="114.8" cy="8.0" r="2.35"/><circle cx="115.3" cy="10.2" r="2.35"/><circle cx="115.7" cy="9.9" r="2.35"/><circle cx="116.2" cy="4.2" r="2.35"/><circle cx="116.7" cy="4.7" r="2.35"/><circle cx="117.1" cy="7.2" r="2.35"/><circle cx="117.6" cy="10.0" r="2.35"/><circle cx="118.1" cy="5.6" r="2.35"/><circle cx="118.5" cy="7.8" r="2.35"/><circle cx="119.0" cy="4.8" r="2.35"/><circle cx="119.5" cy="9.4" r="2.35"/><circle cx="119.9" cy="7.2" r="2.35"/><circle cx="120.4" cy="8.6" r="2.35"/><circle cx="120.9" cy="6.7" r="2.35"/><circle cx="121.3" cy="9.5" r="2.35"/><circle cx="121.8" cy="6.3" r="2.35"/><circle cx="122.3" cy="9.0" r="2.35"/><circle cx="122.7" cy="10.0" r="2.35"/><circle cx="123.2" cy="7.0" r="2.35"/><circle cx="123.7" cy="7.7" r="2.35"/><circle cx="124.1" cy="12.5" r="2.35"/><circle cx="124.6" cy="8.3" r="2.35"/><circle cx="125.1" cy="8.0" r="2.35"/><circle cx="125.5" cy="7.8" r="2.35"/><circle cx="126.0" cy="4.0" r="2.35"/><circle cx="126.4" cy="9.5" r="2.35"/><circle cx="126.9" cy="8.2" r="2.35"/><circle cx="127.4" cy="11.7" r="2.35"/><circle cx="127.8" cy="11.2" r="2.35"/><circle cx="128.3" cy="9.4" r="2.35"/><circle cx="128.8" cy="8.5" r="2.35"/><circle cx="129.2" cy="8.6" r="2.35"/><circle cx="129.7" cy="6.9" r="2.35"/><circle cx="130.2" cy="6.7" r="2.35"/><circle cx="130.6" cy="6.1" r="2.35"/><circle cx="131.1" cy="8.5" r="2.35"/><circle cx="131.6" cy="7.2" r="2.35"/><circle cx="132.0" cy="9.7" r="2.35"/><circle cx="132.5" cy="7.5" r="2.35"/><circle cx="133.0" cy="7.2" r="2.35"/><circle cx="133.4" cy="9.2" r="2.35"/><circle cx="133.9" cy="13.5" r="2.35"/><circle cx="134.4" cy="9.5" r="2.35"/><circle cx="134.8" cy="2.9" r="2.35"/><circle cx="135.3" cy="8.4" r="2.35"/><circle cx="135.8" cy="9.5" r="2.35"/><circle cx="136.2" cy="8.0" r="2.35"/><circle cx="136.7" cy="5.9" r="2.35"/><circle cx="137.2" cy="7.5" r="2.35"/><circle cx="137.6" cy="8.6" r="2.35"/><circle cx="138.1" cy="10.8" r="2.35"/><circle cx="138.6" cy="8.8" r="2.35"/><circle cx="139.0" cy="10.6" r="2.35"/><circle cx="139.5" cy="7.5" r="2.35"/><circle cx="140.0" cy="5.1" r="2.35"/><circle cx="140.4" cy="6.0" r="2.35"/><circle cx="140.9" cy="9.4" r="2.35"/><circle cx="141.4" cy="10.2" r="2.35"/><circle cx="141.8" cy="11.1" r="2.35"/><circle cx="142.3" cy="7.3" r="2.35"/><circle cx="142.8" cy="7.0" r="2.35"/><circle cx="143.2" cy="6.6" r="2.35"/><circle cx="143.7" cy="7.5" r="2.35"/><circle cx="144.2" cy="3.1" r="2.35"/><circle cx="144.6" cy="12.1" r="2.35"/><circle cx="145.1" cy="5.9" r="2.35"/><circle cx="145.6" cy="9.9" r="2.35"/><circle cx="146.0" cy="6.4" r="2.35"/><circle cx="146.5" cy="14.6" r="2.35"/><circle cx="147.0" cy="12.5" r="2.35"/><circle cx="147.4" cy="12.2" r="2.35"/><circle cx="147.9" cy="9.7" r="2.35"/><circle cx="148.4" cy="8.9" r="2.35"/><circle cx="148.8" cy="11.4" r="2.35"/><circle cx="149.3" cy="18.7" r="2.35"/><circle cx="149.8" cy="12.9" r="2.35"/><circle cx="150.2" cy="11.3" r="2.35"/><circle cx="150.7" cy="12.8" r="2.35"/><circle cx="151.2" cy="2.1" r="2.35"/><circle cx="151.6" cy="11.6" r="2.35"/><circle cx="152.1" cy="9.7" r="2.35"/><circle cx="152.5" cy="4.9" r="2.35"/><circle cx="153.0" cy="13.1" r="2.35"/><circle cx="153.5" cy="10.7" r="2.35"/><circle cx="153.9" cy="8.9" r="2.35"/><circle cx="154.4" cy="10.1" r="2.35"/><circle cx="154.9" cy="7.4" r="2.35"/><circle cx="155.3" cy="12.4" r="2.35"/><circle cx="155.8" cy="8.7" r="2.35"/><circle cx="156.3" cy="11.9" r="2.35"/><circle cx="156.7" cy="8.6" r="2.35"/><circle cx="157.2" cy="10.0" r="2.35"/><circle cx="157.7" cy="9.8" r="2.35"/><circle cx="158.1" cy="11.5" r="2.35"/><circle cx="158.6" cy="14.1" r="2.35"/><circle cx="159.1" cy="12.6" r="2.35"/><circle cx="159.5" cy="8.8" r="2.35"/><circle cx="160.0" cy="10.8" r="2.35"/><circle cx="160.5" cy="8.8" r="2.35"/><circle cx="160.9" cy="13.0" r="2.35"/><circle cx="161.4" cy="9.0" r="2.35"/><circle cx="161.9" cy="8.2" r="2.35"/><circle cx="162.3" cy="14.8" r="2.35"/><circle cx="162.8" cy="9.6" r="2.35"/><circle cx="163.3" cy="6.3" r="2.35"/><circle cx="163.7" cy="11.8" r="2.35"/><circle cx="164.2" cy="8.2" r="2.35"/><circle cx="164.7" cy="10.2" r="2.35"/><circle cx="165.1" cy="8.5" r="2.35"/><circle cx="165.6" cy="11.1" r="2.35"/></g>
<g id="p3" class="pt"><circle cx="7.6" cy="14.0" r="2.35"/><circle cx="8.4" cy="13.3" r="2.35"/><circle cx="9.3" cy="13.2" r="2.35"/><circle cx="10.1" cy="13.6" r="2.35"/><circle cx="10.9" cy="14.2" r="2.35"/><circle cx="11.8" cy="10.2" r="2.35"/><circle cx="12.6" cy="13.6" r="2.35"/><circle cx="13.5" cy="14.8" r="2.35"/><circle cx="14.3" cy="14.3" r="2.35"/><circle cx="15.1" cy="11.5" r="2.35"/><circle cx="16.0" cy="16.9" r="2.35"/><circle cx="16.8" cy="11.4" r="2.35"/><circle cx="17.6" cy="11.0" r="2.35"/><circle cx="18.5" cy="9.9" r="2.35"/><circle cx="19.3" cy="13.3" r="2.35"/><circle cx="20.1" cy="14.1" r="2.35"/><circle cx="21.0" cy="12.1" r="2.35"/><circle cx="21.8" cy="12.1" r="2.35"/><circle cx="22.6" cy="9.8" r="2.35"/><circle cx="23.5" cy="12.3" r="2.35"/><circle cx="24.3" cy="13.3" r="2.35"/><circle cx="25.2" cy="15.1" r="2.35"/><circle cx="26.0" cy="18.9" r="2.35"/><circle cx="26.8" cy="12.3" r="2.35"/><circle cx="27.7" cy="7.7" r="2.35"/><circle cx="28.5" cy="9.8" r="2.35"/><circle cx="29.3" cy="7.4" r="2.35"/><circle cx="30.2" cy="7.6" r="2.35"/><circle cx="31.0" cy="11.6" r="2.35"/><circle cx="31.8" cy="12.3" r="2.35"/><circle cx="32.7" cy="11.3" r="2.35"/><circle cx="33.5" cy="10.5" r="2.35"/><circle cx="34.4" cy="11.7" r="2.35"/><circle cx="35.2" cy="8.7" r="2.35"/><circle cx="36.0" cy="8.7" r="2.35"/><circle cx="36.9" cy="7.7" r="2.35"/><circle cx="37.7" cy="9.5" r="2.35"/><circle cx="38.5" cy="10.9" r="2.35"/><circle cx="39.4" cy="9.2" r="2.35"/><circle cx="40.2" cy="11.9" r="2.35"/><circle cx="41.0" cy="9.8" r="2.35"/><circle cx="41.9" cy="11.6" r="2.35"/><circle cx="42.7" cy="7.7" r="2.35"/><circle cx="43.5" cy="15.3" r="2.35"/><circle cx="44.4" cy="8.4" r="2.35"/><circle cx="45.2" cy="8.3" r="2.35"/><circle cx="46.1" cy="10.1" r="2.35"/><circle cx="46.9" cy="9.4" r="2.35"/><circle cx="47.7" cy="9.6" r="2.35"/><circle cx="48.6" cy="7.5" r="2.35"/><circle cx="49.4" cy="6.8" r="2.35"/><circle cx="50.2" cy="10.0" r="2.35"/><circle cx="51.1" cy="6.8" r="2.35"/><circle cx="51.9" cy="11.3" r="2.35"/><circle cx="52.7" cy="3.5" r="2.35"/><circle cx="53.6" cy="9.2" r="2.35"/><circle cx="54.4" cy="12.5" r="2.35"/><circle cx="55.3" cy="9.4" r="2.35"/><circle cx="56.1" cy="11.4" r="2.35"/><circle cx="56.9" cy="8.5" r="2.35"/><circle cx="57.8" cy="11.8" r="2.35"/><circle cx="58.6" cy="13.6" r="2.35"/><circle cx="59.4" cy="12.6" r="2.35"/><circle cx="60.3" cy="10.0" r="2.35"/><circle cx="61.1" cy="9.4" r="2.35"/><circle cx="61.9" cy="9.4" r="2.35"/><circle cx="62.8" cy="11.6" r="2.35"/><circle cx="63.6" cy="8.5" r="2.35"/><circle cx="64.4" cy="11.1" r="2.35"/><circle cx="65.3" cy="10.5" r="2.35"/><circle cx="66.1" cy="8.1" r="2.35"/><circle cx="67.0" cy="7.9" r="2.35"/><circle cx="67.8" cy="11.3" r="2.35"/><circle cx="68.6" cy="6.2" r="2.35"/><circle cx="69.5" cy="7.6" r="2.35"/><circle cx="70.3" cy="8.4" r="2.35"/><circle cx="71.1" cy="5.0" r="2.35"/><circle cx="72.0" cy="8.8" r="2.35"/><circle cx="72.8" cy="6.3" r="2.35"/><circle cx="73.6" cy="7.3" r="2.35"/><circle cx="74.5" cy="3.1" r="2.35"/><circle cx="75.3" cy="11.2" r="2.35"/><circle cx="76.2" cy="7.2" r="2.35"/><circle cx="77.0" cy="6.9" r="2.35"/><circle cx="77.8" cy="5.4" r="2.35"/><circle cx="78.7" cy="8.4" r="2.35"/><circle cx="79.5" cy="8.8" r="2.35"/><circle cx="80.3" cy="4.8" r="2.35"/><circle cx="81.2" cy="8.4" r="2.35"/><circle cx="82.0" cy="7.0" r="2.35"/><circle cx="82.8" cy="7.7" r="2.35"/><circle cx="83.7" cy="6.8" r="2.35"/><circle cx="84.5" cy="10.3" r="2.35"/><circle cx="85.3" cy="8.7" r="2.35"/><circle cx="86.2" cy="7.7" r="2.35"/><circle cx="87.0" cy="9.4" r="2.35"/><circle cx="87.9" cy="7.5" r="2.35"/><circle cx="88.7" cy="8.6" r="2.35"/><circle cx="89.5" cy="8.5" r="2.35"/><circle cx="90.4" cy="9.7" r="2.35"/><circle cx="91.2" cy="7.1" r="2.35"/><circle cx="92.0" cy="10.8" r="2.35"/><circle cx="92.9" cy="9.8" r="2.35"/><circle cx="93.7" cy="12.6" r="2.35"/><circle cx="94.5" cy="11.7" r="2.35"/><circle cx="95.4" cy="8.0" r="2.35"/><circle cx="96.2" cy="9.7" r="2.35"/><circle cx="97.0" cy="13.3" r="2.35"/><circle cx="97.9" cy="9.7" r="2.35"/><circle cx="98.7" cy="10.1" r="2.35"/><circle cx="99.6" cy="11.9" r="2.35"/><circle cx="100.4" cy="9.0" r="2.35"/><circle cx="101.2" cy="10.2" r="2.35"/><circle cx="102.1" cy="9.6" r="2.35"/><circle cx="102.9" cy="7.8" r="2.35"/><circle cx="103.7" cy="10.9" r="2.35"/><circle cx="104.6" cy="7.5" r="2.35"/><circle cx="105.4" cy="10.2" r="2.35"/><circle cx="106.2" cy="10.2" r="2.35"/><circle cx="107.1" cy="5.7" r="2.35"/><circle cx="107.9" cy="7.5" r="2.35"/><circle cx="108.8" cy="9.0" r="2.35"/><circle cx="109.6" cy="8.4" r="2.35"/><circle cx="110.4" cy="7.8" r="2.35"/><circle cx="111.3" cy="11.1" r="2.35"/><circle cx="112.1" cy="6.9" r="2.35"/><circle cx="112.9" cy="8.2" r="2.35"/><circle cx="113.8" cy="10.8" r="2.35"/><circle cx="114.6" cy="10.1" r="2.35"/><circle cx="115.4" cy="6.5" r="2.35"/><circle cx="116.3" cy="10.7" r="2.35"/><circle cx="117.1" cy="4.0" r="2.35"/><circle cx="117.9" cy="10.3" r="2.35"/><circle cx="118.8" cy="7.8" r="2.35"/><circle cx="119.6" cy="13.3" r="2.35"/><circle cx="120.5" cy="8.4" r="2.35"/><circle cx="121.3" cy="9.3" r="2.35"/><circle cx="122.1" cy="7.3" r="2.35"/><circle cx="123.0" cy="7.8" r="2.35"/><circle cx="123.8" cy="8.9" r="2.35"/><circle cx="124.6" cy="4.0" r="2.35"/><circle cx="125.5" cy="6.7" r="2.35"/><circle cx="126.3" cy="9.7" r="2.35"/><circle cx="127.1" cy="7.6" r="2.35"/><circle cx="128.0" cy="13.5" r="2.35"/><circle cx="128.8" cy="9.4" r="2.35"/><circle cx="129.7" cy="5.8" r="2.35"/><circle cx="130.5" cy="9.4" r="2.35"/><circle cx="131.3" cy="8.0" r="2.35"/><circle cx="132.2" cy="10.6" r="2.35"/><circle cx="133.0" cy="6.7" r="2.35"/><circle cx="133.8" cy="8.0" r="2.35"/><circle cx="134.7" cy="8.3" r="2.35"/><circle cx="135.5" cy="6.4" r="2.35"/><circle cx="136.3" cy="2.9" r="2.35"/><circle cx="137.2" cy="6.7" r="2.35"/><circle cx="138.0" cy="11.7" r="2.35"/><circle cx="138.8" cy="7.5" r="2.35"/><circle cx="139.7" cy="7.8" r="2.35"/><circle cx="140.5" cy="10.6" r="2.35"/><circle cx="141.4" cy="11.5" r="2.35"/><circle cx="142.2" cy="9.1" r="2.35"/><circle cx="143.0" cy="8.9" r="2.35"/><circle cx="143.9" cy="8.4" r="2.35"/><circle cx="144.7" cy="9.8" r="2.35"/><circle cx="145.5" cy="8.0" r="2.35"/><circle cx="146.4" cy="9.8" r="2.35"/><circle cx="147.2" cy="10.9" r="2.35"/><circle cx="148.0" cy="9.6" r="2.35"/><circle cx="148.9" cy="11.5" r="2.35"/><circle cx="149.7" cy="13.5" r="2.35"/><circle cx="150.6" cy="10.4" r="2.35"/><circle cx="151.4" cy="8.6" r="2.35"/><circle cx="152.2" cy="5.0" r="2.35"/><circle cx="153.1" cy="14.6" r="2.35"/><circle cx="153.9" cy="11.4" r="2.35"/><circle cx="154.7" cy="12.1" r="2.35"/><circle cx="155.6" cy="9.8" r="2.35"/><circle cx="156.4" cy="12.1" r="2.35"/><circle cx="157.2" cy="10.1" r="2.35"/><circle cx="158.1" cy="8.4" r="2.35"/><circle cx="158.9" cy="11.9" r="2.35"/><circle cx="159.7" cy="3.3" r="2.35"/><circle cx="160.6" cy="7.1" r="2.35"/><circle cx="161.4" cy="8.6" r="2.35"/><circle cx="162.3" cy="13.6" r="2.35"/><circle cx="163.1" cy="6.2" r="2.35"/><circle cx="163.9" cy="11.7" r="2.35"/><circle cx="164.8" cy="9.8" r="2.35"/><circle cx="165.6" cy="11.2" r="2.35"/></g>
</defs>
<rect x="67.90" y="8.00" width="173.51" height="30.25" fill="#cccccc" stroke="#7f7f7f" stroke-width="0.5"/>
<text class="st" x="154.85" y="29.40" text-anchor="middle">667</text>
<rect x="241.41" y="8.00" width="173.51" height="30.25" fill="#cccccc" stroke="#7f7f7f" stroke-width="0.5"/>
<text class="st" x="328.36" y="29.40" text-anchor="middle">1333</text>
<rect x="414.92" y="8.00" width="173.51" height="30.25" fill="#cccccc" stroke="#7f7f7f" stroke-width="0.5"/>
<text class="st" x="501.87" y="29.40" text-anchor="middle">2667</text>
<rect x="588.43" y="8.00" width="173.51" height="30.25" fill="#cccccc" stroke="#7f7f7f" stroke-width="0.5"/>
<text class="st" x="675.38" y="29.40" text-anchor="middle">5333</text>
<rect x="761.94" y="38.250" width="30.06" height="20.495" fill="#cccccc" stroke="#7f7f7f" stroke-width="0.5"/>
<text class="st" transform="translate(770.97 49.098) rotate(90)" text-anchor="middle">1</text>
<rect x="761.94" y="58.745" width="30.06" height="20.495" fill="#cccccc" stroke="#7f7f7f" stroke-width="0.5"/>
<text class="st" transform="translate(770.97 69.592) rotate(90)" text-anchor="middle">2</text>
<rect x="761.94" y="79.240" width="30.06" height="20.495" fill="#cccccc" stroke="#7f7f7f" stroke-width="0.5"/>
<text class="st" transform="translate(770.97 90.087) rotate(90)" text-anchor="middle">3</text>
<rect x="761.94" y="99.735" width="30.06" height="20.495" fill="#cccccc" stroke="#7f7f7f" stroke-width="0.5"/>
<text class="st" transform="translate(770.97 110.582) rotate(90)" text-anchor="middle">4</text>
<rect x="761.94" y="120.230" width="30.06" height="20.495" fill="#cccccc" stroke="#7f7f7f" stroke-width="0.5"/>
<text class="st" transform="translate(770.97 131.077) rotate(90)" text-anchor="middle">5</text>
<rect x="761.94" y="140.725" width="30.06" height="20.495" fill="#cccccc" stroke="#7f7f7f" stroke-width="0.5"/>
<text class="st" transform="translate(770.97 151.572) rotate(90)" text-anchor="middle">6</text>
<rect x="761.94" y="161.220" width="30.06" height="20.495" fill="#cccccc" stroke="#7f7f7f" stroke-width="0.5"/>
<text class="st" transform="translate(770.97 172.067) rotate(90)" text-anchor="middle">7</text>
<rect x="761.94" y="181.715" width="30.06" height="20.495" fill="#cccccc" stroke="#7f7f7f" stroke-width="0.5"/>
<text class="st" transform="translate(770.97 192.562) rotate(90)" text-anchor="middle">8</text>
<rect x="761.94" y="202.210" width="30.06" height="20.495" fill="#cccccc" stroke="#7f7f7f" stroke-width="0.5"/>
<text class="st" transform="translate(770.97 213.057) rotate(90)" text-anchor="middle">9</text>
<rect x="761.94" y="222.705" width="30.06" height="20.495" fill="#cccccc" stroke="#7f7f7f" stroke-width="0.5"/>
<text class="st" transform="translate(770.97 233.552) rotate(90)" text-anchor="middle">10</text>
<rect x="761.94" y="243.200" width="30.06" height="20.495" fill="#cccccc" stroke="#7f7f7f" stroke-width="0.5"/>
<text class="st" transform="translate(770.97 254.047) rotate(90)" text-anchor="middle">11</text>
<rect x="761.94" y="263.695" width="30.06" height="20.495" fill="#cccccc" stroke="#7f7f7f" stroke-width="0.5"/>
<text class="st" transform="translate(770.97 274.542) rotate(90)" text-anchor="middle">12</text>
<rect x="761.94" y="284.190" width="30.06" height="20.495" fill="#cccccc" stroke="#7f7f7f" stroke-width="0.5"/>
<text class="st" transform="translate(770.97 295.037) rotate(90)" text-anchor="middle">13</text>
<rect x="761.94" y="304.685" width="30.06" height="20.495" fill="#cccccc" stroke="#7f7f7f" stroke-width="0.5"/>
<text class="st" transform="translate(770.97 315.532) rotate(90)" text-anchor="middle">14</text>
<rect x="761.94" y="325.180" width="30.06" height="20.495" fill="#cccccc" stroke="#7f7f7f" stroke-width="0.5"/>
<text class="st" transform="translate(770.97 336.027) rotate(90)" text-anchor="middle">15</text>
<rect x="761.94" y="345.675" width="30.06" height="20.495" fill="#cccccc" stroke="#7f7f7f" stroke-width="0.5"/>
<text class="st" transform="translate(770.97 356.522) rotate(90)" text-anchor="middle">16</text>
<rect x="761.94" y="366.170" width="30.06" height="20.495" fill="#cccccc" stroke="#7f7f7f" stroke-width="0.5"/>
<text class="st" transform="translate(770.97 377.017) rotate(90)" text-anchor="middle">17</text>
<rect x="761.94" y="386.665" width="30.06" height="20.495" fill="#cccccc" stroke="#7f7f7f" stroke-width="0.5"/>
<text class="st" transform="translate(770.97 397.512) rotate(90)" text-anchor="middle">18</text>
<rect x="761.94" y="407.160" width="30.06" height="20.495" fill="#cccccc" stroke="#7f7f7f" stroke-width="0.5"/>
<text class="st" transform="translate(770.97 418.007) rotate(90)" text-anchor="middle">19</text>
<rect x="761.94" y="427.655" width="30.06" height="20.495" fill="#cccccc" stroke="#7f7f7f" stroke-width="0.5"/>
<text class="st" transform="translate(770.97 438.502) rotate(90)" text-anchor="middle">20</text>
<g transform="translate(67.90 38.250)">
<use href="#bg"/><use href="#p0"/>
<path class="seg" d="M7.6 9.6H165.6"/>
<rect x="0" y="0" width="173.51" height="20.495" fill="none" stroke="#7f7f7f" stroke-opacity="0.6" stroke-width="1.4"/>
</g>
<g transform="translate(67.90 58.745)">
<use href="#bg"/><use href="#p0"/>
<path class="seg" d="M7.6 12.4H27.3M27.3 9.2H165.6"/>
<rect x="0" y="0" width="173.51" height="20.495" fill="none" stroke="#7f7f7f" stroke-opacity="0.6" stroke-width="1.4"/>
</g>
<g transform="translate(67.90 79.240)">
<use href="#bg"/><use href="#p0"/>
<path class="seg" d="M7.6 12.4H27.3M27.3 10.2H66.8M66.8 8.8H165.6"/>
<rect x="0" y="0" width="173.51" height="20.495" fill="none" stroke="#7f7f7f" stroke-opacity="0.6" stroke-width="1.4"/>
</g>
<g transform="translate(67.90 99.735)">
<use href="#bg"/><use href="#p0"/>
<path class="seg" d="M7.6 12.4H27.3M27.3 10.2H66.8M66.8 8.4H145.9M145.9 10.2H165.6"/>
<rect x="0" y="0" width="173.51" height="20.495" fill="none" stroke="#7f7f7f" stroke-opacity="0.6" stroke-width="1.4"/>
</g>
<g transform="translate(67.90 120.230)">
<use href="#bg"/><use href="#p0"/>
<path class="seg" d="M7.6 12.4H27.3M27.3 10.2H66.8M66.8 7.7H86.6M86.6 8.7H145.9M145.9 10.2H165.6"/>
<rect x="0" y="0" width="173.51" height="20.495" fill="none" stroke="#7f7f7f" stroke-opacity="0.6" stroke-width="1.4"/>
</g>
<g transform="translate(67.90 140.725)">
<use href="#bg"/><use href="#p0"/>
<path class="seg" d="M7.6 12.4H27.3M27.3 10.2H66.8M66.8 7.7H86.6M86.6 9.5H106.4M106.4 8.3H145.9M145.9 10.2H165.6"/>
<rect x="0" y="0" width="173.51" height="20.495" fill="none" stroke="#7f7f7f" stroke-opacity="0.6" stroke-width="1.4"/>
</g>
<g transform="translate(67.90 161.220)">
<use href="#bg"/><use href="#p0"/>
<path class="seg" d="M7.6 12.4H27.3M27.3 10.3H63.3M63.3 9.0H66.8M66.8 7.7H86.6M86.6 9.5H106.4M106.4 8.3H145.9M145.9 10.2H165.6"/>
<rect x="0" y="0" width="173.51" height="20.495" fill="none" stroke="#7f7f7f" stroke-opacity="0.6" stroke-width="1.4"/>
</g>
<g transform="translate(67.90 181.715)">
<use href="#bg"/><use href="#p0"/>
<path class="seg" d="M7.6 12.4H27.3M27.3 10.3H63.3M63.3 9.0H66.8M66.8 7.7H86.6M86.6 9.5H106.4M106.4 8.3H145.9M145.9 9.6H152.3M152.3 10.5H165.6"/>
<rect x="0" y="0" width="173.51" height="20.495" fill="none" stroke="#7f7f7f" stroke-opacity="0.6" stroke-width="1.4"/>
</g>
<g transform="translate(67.90 202.210)">
<use href="#bg"/><use href="#p0"/>
<path class="seg" d="M7.6 12.4H27.3M27.3 10.3H63.3M63.3 9.0H66.8M66.8 7.7H86.6M86.6 9.5H106.4M106.4 8.3H145.9M145.9 10.0H151.4M151.4 7.6H152.3M152.3 10.5H165.6"/>
<rect x="0" y="0" width="173.51" height="20.495" fill="none" stroke="#7f7f7f" stroke-opacity="0.6" stroke-width="1.4"/>
</g>
<g transform="translate(67.90 222.705)">
<use href="#bg"/><use href="#p0"/>
<path class="seg" d="M7.6 12.4H27.3M27.3 10.3H63.3M63.3 9.0H66.8M66.8 10.2H67.2M67.2 7.7H86.6M86.6 9.5H106.4M106.4 8.3H145.9M145.9 10.0H151.4M151.4 7.6H152.3M152.3 10.5H165.6"/>
<rect x="0" y="0" width="173.51" height="20.495" fill="none" stroke="#7f7f7f" stroke-opacity="0.6" stroke-width="1.4"/>
</g>
<g transform="translate(67.90 243.200)">
<use href="#bg"/><use href="#p0"/>
<path class="seg" d="M7.6 12.4H27.3M27.3 10.3H63.3M63.3 9.0H66.8M66.8 10.2H67.2M67.2 7.7H86.6M86.6 9.5H106.4M106.4 8.3H145.9M145.9 9.5H149.6M149.6 10.8H151.4M151.4 7.6H152.3M152.3 10.5H165.6"/>
<rect x="0" y="0" width="173.51" height="20.495" fill="none" stroke="#7f7f7f" stroke-opacity="0.6" stroke-width="1.4"/>
</g>
<g transform="translate(67.90 263.695)">
<use href="#bg"/><use href="#p0"/>
<path class="seg" d="M7.6 12.4H27.3M27.3 10.3H63.3M63.3 9.0H66.8M66.8 10.2H67.2M67.2 7.7H86.6M86.6 9.5H106.4M106.4 8.3H145.9M145.9 9.5H149.6M149.6 13.7H150.0M150.0 10.0H151.4M151.4 7.6H152.3M152.3 10.5H165.6"/>
<rect x="0" y="0" width="173.51" height="20.495" fill="none" stroke="#7f7f7f" stroke-opacity="0.6" stroke-width="1.4"/>
</g>
<g transform="translate(67.90 284.190)">
<use href="#bg"/><use href="#p0"/>
<path class="seg" d="M7.6 12.4H27.3M27.3 10.3H63.3M63.3 9.0H66.8M66.8 10.2H67.2M67.2 7.7H86.6M86.6 9.5H106.4M106.4 8.2H141.5M141.5 8.9H145.9M145.9 9.5H149.6M149.6 13.7H150.0M150.0 10.0H151.4M151.4 7.6H152.3M152.3 10.5H165.6"/>
<rect x="0" y="0" width="173.51" height="20.495" fill="none" stroke="#7f7f7f" stroke-opacity="0.6" stroke-width="1.4"/>
</g>
<g transform="translate(67.90 304.685)">
<use href="#bg"/><use href="#p0"/>
<path class="seg" d="M7.6 12.4H27.3M27.3 10.3H63.3M63.3 9.0H66.8M66.8 10.2H67.2M67.2 7.2H72.7M72.7 7.9H86.6M86.6 9.5H106.4M106.4 8.2H141.5M141.5 8.9H145.9M145.9 9.5H149.6M149.6 13.7H150.0M150.0 10.0H151.4M151.4 7.6H152.3M152.3 10.5H165.6"/>
<rect x="0" y="0" width="173.51" height="20.495" fill="none" stroke="#7f7f7f" stroke-opacity="0.6" stroke-width="1.4"/>
</g>
<g transform="translate(67.90 325.180)">
<use href="#bg"/><use href="#p0"/>
<path class="seg" d="M7.6 12.4H27.3M27.3 10.3H63.3M63.3 9.0H66.8M66.8 10.2H67.2M67.2 7.2H72.7M72.7 10.9H73.0M73.0 7.8H86.6M86.6 9.5H106.4M106.4 8.2H141.5M141.5 8.9H145.9M145.9 9.5H149.6M149.6 13.7H150.0M150.0 10.0H151.4M151.4 7.6H152.3M152.3 10.5H165.6"/>
<rect x="0" y="0" width="173.51" height="20.495" fill="none" stroke="#7f7f7f" stroke-opacity="0.6" stroke-width="1.4"/>
</g>
<g transform="translate(67.90 345.675)">
<use href="#bg"/><use href="#p0"/>
<path class="seg" d="M7.6 12.4H27.3M27.3 10.3H63.3M63.3 4.7H63.4M63.4 9.1H66.8M66.8 10.2H67.2M67.2 7.2H72.7M72.7 10.9H73.0M73.0 7.8H86.6M86.6 9.5H106.4M106.4 8.2H141.5M141.5 8.9H145.9M145.9 9.5H149.6M149.6 13.7H150.0M150.0 10.0H151.4M151.4 7.6H152.3M152.3 10.5H165.6"/>
<rect x="0" y="0" width="173.51" height="20.495" fill="none" stroke="#7f7f7f" stroke-opacity="0.6" stroke-width="1.4"/>
</g>
<g transform="translate(67.90 366.170)">
<use href="#bg"/><use href="#p0"/>
<path class="seg" d="M7.6 12.4H27.3M27.3 10.3H63.3M63.3 4.7H63.4M63.4 9.1H66.8M66.8 10.2H67.2M67.2 7.2H72.7M72.7 10.9H73.0M73.0 7.8H86.6M86.6 9.8H96.4M96.4 9.2H106.4M106.4 8.2H141.5M141.5 8.9H145.9M145.9 9.5H149.6M149.6 13.7H150.0M150.0 10.0H151.4M151.4 7.6H152.3M152.3 10.5H165.6"/>
<rect x="0" y="0" width="173.51" height="20.495" fill="none" stroke="#7f7f7f" stroke-opacity="0.6" stroke-width="1.4"/>
</g>
<g transform="translate(67.90 386.665)">
<use href="#bg"/><use href="#p0"/>
<path class="seg" d="M7.6 12.4H27.3M27.3 10.3H63.3M63.3 4.7H63.4M63.4 9.1H66.8M66.8 10.2H67.2M67.2 7.2H72.7M72.7 10.9H73.0M73.0 7.8H86.6M86.6 9.8H96.4M96.4 4.3H96.5M96.5 9.2H106.4M106.4 8.2H141.5M141.5 8.9H145.9M145.9 9.5H149.6M149.6 13.7H150.0M150.0 10.0H151.4M151.4 7.6H152.3M152.3 10.5H165.6"/>
<rect x="0" y="0" width="173.51" height="20.495" fill="none" stroke="#7f7f7f" stroke-opacity="0.6" stroke-width="1.4"/>
</g>
<g transform="translate(67.90 407.160)">
<use href="#bg"/><use href="#p0"/>
<path class="seg" d="M7.6 12.4H27.3M27.3 10.3H63.3M63.3 4.7H63.4M63.4 9.1H66.8M66.8 10.2H67.2M67.2 7.2H72.7M72.7 10.9H73.0M73.0 7.8H86.6M86.6 9.8H96.4M96.4 4.3H96.5M96.5 9.2H106.4M106.4 8.6H115.2M115.2 8.1H141.5M141.5 8.9H145.9M145.9 9.5H149.6M149.6 13.7H150.0M150.0 10.0H151.4M151.4 7.6H152.3M152.3 10.5H165.6"/>
<rect x="0" y="0" width="173.51" height="20.495" fill="none" stroke="#7f7f7f" stroke-opacity="0.6" stroke-width="1.4"/>
</g>
<g transform="translate(67.90 427.655)">
<use href="#bg"/><use href="#p0"/>
<path class="seg" d="M7.6 12.4H27.3M27.3 10.3H63.3M63.3 4.7H63.4M63.4 9.1H66.8M66.8 10.2H67.2M67.2 7.2H72.7M72.7 10.9H73.0M73.0 7.8H86.6M86.6 9.8H96.4M96.4 4.3H96.5M96.5 9.2H106.4M106.4 8.3H113.9M113.9 10.3H115.2M115.2 8.1H141.5M141.5 8.9H145.9M145.9 9.5H149.6M149.6 13.7H150.0M150.0 10.0H151.4M151.4 7.6H152.3M152.3 10.5H165.6"/>
<rect x="0" y="0" width="173.51" height="20.495" fill="none" stroke="#7f7f7f" stroke-opacity="0.6" stroke-width="1.4"/>
</g>
<g transform="translate(241.41 38.250)">
<use href="#bg"/><use href="#p1"/>
<path class="seg" d="M7.6 9.6H165.6"/>
<rect x="0" y="0" width="173.51" height="20.495" fill="none" stroke="#7f7f7f" stroke-opacity="0.6" stroke-width="1.4"/>
</g>
<g transform="translate(241.41 58.745)">
<use href="#bg"/><use href="#p1"/>
<path class="seg" d="M7.6 11.0H66.8M66.8 8.7H165.6"/>
<rect x="0" y="0" width="173.51" height="20.495" fill="none" stroke="#7f7f7f" stroke-opacity="0.6" stroke-width="1.4"/>
</g>
<g transform="translate(241.41 79.240)">
<use href="#bg"/><use href="#p1"/>
<path class="seg" d="M7.6 12.4H27.3M27.3 10.3H66.8M66.8 8.7H165.6"/>
<rect x="0" y="0" width="173.51" height="20.495" fill="none" stroke="#7f7f7f" stroke-opacity="0.6" stroke-width="1.4"/>
</g>
<g transform="translate(241.41 99.735)">
<use href="#bg"/><use href="#p1"/>
<path class="seg" d="M7.6 12.4H27.3M27.3 10.3H66.8M66.8 8.4H145.9M145.9 10.1H165.6"/>
<rect x="0" y="0" width="173.51" height="20.495" fill="none" stroke="#7f7f7f" stroke-opacity="0.6" stroke-width="1.4"/>
</g>
<g transform="translate(241.41 120.230)">
<use href="#bg"/><use href="#p1"/>
<path class="seg" d="M7.6 12.4H27.3M27.3 10.3H66.8M66.8 7.7H86.6M86.6 8.7H145.9M145.9 10.1H165.6"/>
<rect x="0" y="0" width="173.51" height="20.495" fill="none" stroke="#7f7f7f" stroke-opacity="0.6" stroke-width="1.4"/>
</g>
<g transform="translate(241.41 140.725)">
<use href="#bg"/><use href="#p1"/>
<path class="seg" d="M7.6 12.4H27.3M27.3 10.3H66.8M66.8 7.7H86.6M86.6 9.8H106.4M106.4 8.1H145.9M145.9 10.1H165.6"/>
<rect x="0" y="0" width="173.51" height="20.495" fill="none" stroke="#7f7f7f" stroke-opacity="0.6" stroke-width="1.4"/>
</g>
<g transform="translate(241.41 161.220)">
<use href="#bg"/><use href="#p1"/>
<path class="seg" d="M7.6 12.4H27.3M27.3 10.3H66.8M66.8 7.7H86.6M86.6 9.8H106.4M106.4 6.8H108.4M108.4 8.1H145.9M145.9 10.1H165.6"/>
<rect x="0" y="0" width="173.51" height="20.495" fill="none" stroke="#7f7f7f" stroke-opacity="0.6" stroke-width="1.4"/>
</g>
<g transform="translate(241.41 181.715)">
<use href="#bg"/><use href="#p1"/>
<path class="seg" d="M7.6 12.4H27.3M27.3 10.3H66.8M66.8 7.7H86.6M86.6 10.1H99.1M99.1 9.3H106.4M106.4 6.8H108.4M108.4 8.1H145.9M145.9 10.1H165.6"/>
<rect x="0" y="0" width="173.51" height="20.495" fill="none" stroke="#7f7f7f" stroke-opacity="0.6" stroke-width="1.4"/>
</g>
<g transform="translate(241.41 202.210)">
<use href="#bg"/><use href="#p1"/>
<path class="seg" d="M7.6 12.4H27.3M27.3 10.3H66.8M66.8 7.7H86.6M86.6 10.1H99.1M99.1 8.2H101.6M101.6 10.0H106.4M106.4 6.8H108.4M108.4 8.1H145.9M145.9 10.1H165.6"/>
<rect x="0" y="0" width="173.51" height="20.495" fill="none" stroke="#7f7f7f" stroke-opacity="0.6" stroke-width="1.4"/>
</g>
<g transform="translate(241.41 222.705)">
<use href="#bg"/><use href="#p1"/>
<path class="seg" d="M7.6 12.4H27.3M27.3 10.3H66.8M66.8 7.7H86.6M86.6 8.8H88.2M88.2 10.3H99.1M99.1 8.2H101.6M101.6 10.0H106.4M106.4 6.8H108.4M108.4 8.1H145.9M145.9 10.1H165.6"/>
<rect x="0" y="0" width="173.51" height="20.495" fill="none" stroke="#7f7f7f" stroke-opacity="0.6" stroke-width="1.4"/>
</g>
<g transform="translate(241.41 243.200)">
<use href="#bg"/><use href="#p1"/>
<path class="seg" d="M7.6 12.7H22.5M22.5 11.7H27.3M27.3 10.3H66.8M66.8 7.7H86.6M86.6 8.8H88.2M88.2 10.3H99.1M99.1 8.2H101.6M101.6 10.0H106.4M106.4 6.8H108.4M108.4 8.1H145.9M145.9 10.1H165.6"/>
<rect x="0" y="0" width="173.51" height="20.495" fill="none" stroke="#7f7f7f" stroke-opacity="0.6" stroke-width="1.4"/>
</g>
<g transform="translate(241.41 263.695)">
<use href="#bg"/><use href="#p1"/>
<path class="seg" d="M7.6 12.6H22.1M22.1 15.9H22.5M22.5 11.7H27.3M27.3 10.3H66.8M66.8 7.7H86.6M86.6 8.8H88.2M88.2 10.3H99.1M99.1 8.2H101.6M101.6 10.0H106.4M106.4 6.8H108.4M108.4 8.1H145.9M145.9 10.1H165.6"/>
<rect x="0" y="0" width="173.51" height="20.495" fill="none" stroke="#7f7f7f" stroke-opacity="0.6" stroke-width="1.4"/>
</g>
<g transform="translate(241.41 284.190)">
<use href="#bg"/><use href="#p1"/>
<path class="seg" d="M7.6 11.3H9.5M9.5 12.8H22.1M22.1 15.9H22.5M22.5 11.7H27.3M27.3 10.3H66.8M66.8 7.7H86.6M86.6 8.8H88.2M88.2 10.3H99.1M99.1 8.2H101.6M101.6 10.0H106.4M106.4 6.8H108.4M108.4 8.1H145.9M145.9 10.1H165.6"/>
<rect x="0" y="0" width="173.51" height="20.495" fill="none" stroke="#7f7f7f" stroke-opacity="0.6" stroke-width="1.4"/>
</g>
<g transform="translate(241.41 304.685)">
<use href="#bg"/><use href="#p1"/>
<path class="seg" d="M7.6 11.3H9.5M9.5 12.8H22.1M22.1 15.9H22.5M22.5 11.7H27.3M27.3 10.3H66.8M66.8 7.7H86.6M86.6 8.8H88.2M88.2 10.3H99.1M99.1 8.2H101.6M101.6 10.0H106.4M106.4 6.8H108.4M108.4 8.2H144.5M144.5 6.7H145.9M145.9 10.1H165.6"/>
<rect x="0" y="0" width="173.51" height="20.495" fill="none" stroke="#7f7f7f" stroke-opacity="0.6" stroke-width="1.4"/>
</g>
<g transform="translate(241.41 325.180)">
<use href="#bg"/><use href="#p1"/>
<path class="seg" d="M7.6 11.3H9.5M9.5 12.8H22.1M22.1 15.9H22.5M22.5 11.7H27.3M27.3 10.3H66.8M66.8 7.7H86.6M86.6 8.8H88.2M88.2 10.3H99.1M99.1 8.2H101.6M101.6 10.0H106.4M106.4 6.8H108.4M108.4 8.1H143.7M143.7 10.1H144.5M144.5 6.7H145.9M145.9 10.1H165.6"/>
<rect x="0" y="0" width="173.51" height="20.495" fill="none" stroke="#7f7f7f" stroke-opacity="0.6" stroke-width="1.4"/>
</g>
<g transform="translate(241.41 345.675)">
<use href="#bg"/><use href="#p1"/>
<path class="seg" d="M7.6 11.3H9.5M9.5 12.8H22.1M22.1 15.9H22.5M22.5 11.7H27.3M27.3 10.7H38.9M38.9 10.1H66.8M66.8 7.7H86.6M86.6 8.8H88.2M88.2 10.3H99.1M99.1 8.2H101.6M101.6 10.0H106.4M106.4 6.8H108.4M108.4 8.1H143.7M143.7 10.1H144.5M144.5 6.7H145.9M145.9 10.1H165.6"/>
<rect x="0" y="0" width="173.51" height="20.495" fill="none" stroke="#7f7f7f" stroke-opacity="0.6" stroke-width="1.4"/>
</g>
<g transform="translate(241.41 366.170)">
<use href="#bg"/><use href="#p1"/>
<path class="seg" d="M7.6 11.3H9.5M9.5 12.8H22.1M22.1 15.9H22.5M22.5 11.7H27.3M27.3 10.7H38.9M38.9 10.1H66.8M66.8 7.7H86.6M86.6 8.8H88.2M88.2 11.6H89.8M89.8 10.1H99.1M99.1 8.2H101.6M101.6 10.0H106.4M106.4 6.8H108.4M108.4 8.1H143.7M143.7 10.1H144.5M144.5 6.7H145.9M145.9 10.1H165.6"/>
<rect x="0" y="0" width="173.51" height="20.495" fill="none" stroke="#7f7f7f" stroke-opacity="0.6" stroke-width="1.4"/>
</g>
<g transform="translate(241.41 386.665)">
<use href="#bg"/><use href="#p1"/>
<path class="seg" d="M7.6 11.3H9.5M9.5 12.8H22.1M22.1 15.9H22.5M22.5 11.7H27.3M27.3 10.7H38.9M38.9 10.1H66.8M66.8 7.7H86.6M86.6 8.8H88.2M88.2 11.6H89.8M89.8 7.3H90.2M90.2 10.3H99.1M99.1 8.2H101.6M101.6 10.0H106.4M106.4 6.8H108.4M108.4 8.1H143.7M143.7 10.1H144.5M144.5 6.7H145.9M145.9 10.1H165.6"/>
<rect x="0" y="0" width="173.51" height="20.495" fill="none" stroke="#7f7f7f" stroke-opacity="0.6" stroke-width="1.4"/>
</g>
<g transform="translate(241.41 407.160)">
<use href="#bg"/><use href="#p1"/>
<path class="seg" d="M7.6 11.3H9.5M9.5 12.8H22.1M22.1 15.9H22.5M22.5 11.7H27.3M27.3 10.7H38.9M38.9 10.1H66.8M66.8 7.7H86.6M86.6 8.8H88.2M88.2 11.6H89.8M89.8 7.3H90.2M90.2 10.3H99.1M99.1 8.2H101.6M101.6 11.0H103.2M103.2 9.4H106.4M106.4 6.8H108.4M108.4 8.1H143.7M143.7 10.1H144.5M144.5 6.7H145.9M145.9 10.1H165.6"/>
<rect x="0" y="0" width="173.51" height="20.495" fill="none" stroke="#7f7f7f" stroke-opacity="0.6" stroke-width="1.4"/>
</g>
<g transform="translate(241.41 427.655)">
<use href="#bg"/><use href="#p1"/>
<path class="seg" d="M7.6 11.3H9.5M9.5 12.8H22.1M22.1 15.9H22.5M22.5 11.7H27.3M27.3 10.7H38.9M38.9 10.1H66.8M66.8 7.7H86.6M86.6 8.8H88.2M88.2 11.6H89.8M89.8 7.3H90.2M90.2 10.3H99.1M99.1 8.2H101.6M101.6 11.0H103.2M103.2 5.3H103.4M103.4 9.7H106.4M106.4 6.8H108.4M108.4 8.1H143.7M143.7 10.1H144.5M144.5 6.7H145.9M145.9 10.1H165.6"/>
<rect x="0" y="0" width="173.51" height="20.495" fill="none" stroke="#7f7f7f" stroke-opacity="0.6" stroke-width="1.4"/>
</g>
<g transform="translate(414.92 38.250)">
<use href="#bg"/><use href="#p2"/>
<path class="seg" d="M7.6 9.4H165.6"/>
<rect x="0" y="0" width="173.51" height="20.495" fill="none" stroke="#7f7f7f" stroke-opacity="0.6" stroke-width="1.4"/>
</g>
<g transform="translate(414.92 58.745)">
<use href="#bg"/><use href="#p2"/>
<path class="seg" d="M7.6 12.0H27.4M27.4 9.0H165.6"/>
<rect x="0" y="0" width="173.51" height="20.495" fill="none" stroke="#7f7f7f" stroke-opacity="0.6" stroke-width="1.4"/>
</g>
<g transform="translate(414.92 79.240)">
<use href="#bg"/><use href="#p2"/>
<path class="seg" d="M7.6 12.0H27.4M27.4 9.7H67.0M67.0 8.7H165.6"/>
<rect x="0" y="0" width="173.51" height="20.495" fill="none" stroke="#7f7f7f" stroke-opacity="0.6" stroke-width="1.4"/>
</g>
<g transform="translate(414.92 99.735)">
<use href="#bg"/><use href="#p2"/>
<path class="seg" d="M7.6 12.0H27.4M27.4 9.7H67.0M67.0 8.3H145.8M145.8 10.4H165.6"/>
<rect x="0" y="0" width="173.51" height="20.495" fill="none" stroke="#7f7f7f" stroke-opacity="0.6" stroke-width="1.4"/>
</g>
<g transform="translate(414.92 120.230)">
<use href="#bg"/><use href="#p2"/>
<path class="seg" d="M7.6 12.0H27.4M27.4 9.7H67.0M67.0 7.1H86.6M86.6 8.6H145.8M145.8 10.4H165.6"/>
<rect x="0" y="0" width="173.51" height="20.495" fill="none" stroke="#7f7f7f" stroke-opacity="0.6" stroke-width="1.4"/>
</g>
<g transform="translate(414.92 140.725)">
<use href="#bg"/><use href="#p2"/>
<path class="seg" d="M7.6 12.0H27.4M27.4 9.7H67.0M67.0 7.1H86.6M86.6 9.5H106.2M106.2 8.2H145.8M145.8 10.4H165.6"/>
<rect x="0" y="0" width="173.51" height="20.495" fill="none" stroke="#7f7f7f" stroke-opacity="0.6" stroke-width="1.4"/>
</g>
<g transform="translate(414.92 161.220)">
<use href="#bg"/><use href="#p2"/>
<path class="seg" d="M7.6 12.0H27.4M27.4 9.7H67.0M67.0 7.1H86.6M86.6 9.5H106.2M106.2 8.2H145.8M145.8 11.9H150.9M150.9 9.9H165.6"/>
<rect x="0" y="0" width="173.51" height="20.495" fill="none" stroke="#7f7f7f" stroke-opacity="0.6" stroke-width="1.4"/>
</g>
<g transform="translate(414.92 181.715)">
<use href="#bg"/><use href="#p2"/>
<path class="seg" d="M7.6 12.0H27.4M27.4 9.7H67.0M67.0 7.1H86.6M86.6 9.5H106.2M106.2 8.2H145.8M145.8 11.9H150.9M150.9 2.1H151.4M151.4 10.2H165.6"/>
<rect x="0" y="0" width="173.51" height="20.495" fill="none" stroke="#7f7f7f" stroke-opacity="0.6" stroke-width="1.4"/>
</g>
<g transform="translate(414.92 202.210)">
<use href="#bg"/><use href="#p2"/>
<path class="seg" d="M7.6 12.0H27.4M27.4 9.7H67.0M67.0 7.1H86.6M86.6 9.5H106.2M106.2 8.2H145.8M145.8 6.4H146.3M146.3 12.5H150.9M150.9 2.1H151.4M151.4 10.2H165.6"/>
<rect x="0" y="0" width="173.51" height="20.495" fill="none" stroke="#7f7f7f" stroke-opacity="0.6" stroke-width="1.4"/>
</g>
<g transform="translate(414.92 222.705)">
<use href="#bg"/><use href="#p2"/>
<path class="seg" d="M7.6 12.4H24.1M24.1 10.2H27.4M27.4 9.7H67.0M67.0 7.1H86.6M86.6 9.5H106.2M106.2 8.2H145.8M145.8 6.4H146.3M146.3 12.5H150.9M150.9 2.1H151.4M151.4 10.2H165.6"/>
<rect x="0" y="0" width="173.51" height="20.495" fill="none" stroke="#7f7f7f" stroke-opacity="0.6" stroke-width="1.4"/>
</g>
<g transform="translate(414.92 243.200)">
<use href="#bg"/><use href="#p2"/>
<path class="seg" d="M7.6 12.4H24.1M24.1 10.2H27.4M27.4 9.7H67.0M67.0 9.5H68.9M68.9 6.8H86.6M86.6 9.5H106.2M106.2 8.2H145.8M145.8 6.4H146.3M146.3 12.5H150.9M150.9 2.1H151.4M151.4 10.2H165.6"/>
<rect x="0" y="0" width="173.51" height="20.495" fill="none" stroke="#7f7f7f" stroke-opacity="0.6" stroke-width="1.4"/>
</g>
<g transform="translate(414.92 263.695)">
<use href="#bg"/><use href="#p2"/>
<path class="seg" d="M7.6 12.4H24.1M24.1 10.2H27.4M27.4 9.7H67.0M67.0 5.7H67.5M67.5 10.8H68.9M68.9 6.8H86.6M86.6 9.5H106.2M106.2 8.2H145.8M145.8 6.4H146.3M146.3 12.5H150.9M150.9 2.1H151.4M151.4 10.2H165.6"/>
<rect x="0" y="0" width="173.51" height="20.495" fill="none" stroke="#7f7f7f" stroke-opacity="0.6" stroke-width="1.4"/>
</g>
<g transform="translate(414.92 284.190)">
<use href="#bg"/><use href="#p2"/>
<path class="seg" d="M7.6 12.4H24.1M24.1 10.2H27.4M27.4 9.7H65.6M65.6 12.2H67.0M67.0 5.7H67.5M67.5 10.8H68.9M68.9 6.8H86.6M86.6 9.5H106.2M106.2 8.2H145.8M145.8 6.4H146.3M146.3 12.5H150.9M150.9 2.1H151.4M151.4 10.2H165.6"/>
<rect x="0" y="0" width="173.51" height="20.495" fill="none" stroke="#7f7f7f" stroke-opacity="0.6" stroke-width="1.4"/>
</g>
<g transform="translate(414.92 304.685)">
<use href="#bg"/><use href="#p2"/>
<path class="seg" d="M7.6 12.4H24.1M24.1 10.2H27.4M27.4 9.9H60.5M60.5 8.2H65.6M65.6 12.2H67.0M67.0 5.7H67.5M67.5 10.8H68.9M68.9 6.8H86.6M86.6 9.5H106.2M106.2 8.2H145.8M145.8 6.4H146.3M146.3 12.5H150.9M150.9 2.1H151.4M151.4 10.2H165.6"/>
<rect x="0" y="0" width="173.51" height="20.495" fill="none" stroke="#7f7f7f" stroke-opacity="0.6" stroke-width="1.4"/>
</g>
<g transform="translate(414.92 325.180)">
<use href="#bg"/><use href="#p2"/>
<path class="seg" d="M7.6 12.3H23.7M23.7 16.3H24.1M24.1 10.2H27.4M27.4 9.9H60.5M60.5 8.2H65.6M65.6 12.2H67.0M67.0 5.7H67.5M67.5 10.8H68.9M68.9 6.8H86.6M86.6 9.5H106.2M106.2 8.2H145.8M145.8 6.4H146.3M146.3 12.5H150.9M150.9 2.1H151.4M151.4 10.2H165.6"/>
<rect x="0" y="0" width="173.51" height="20.495" fill="none" stroke="#7f7f7f" stroke-opacity="0.6" stroke-width="1.4"/>
</g>
<g transform="translate(414.92 345.675)">
<use href="#bg"/><use href="#p2"/>
<path class="seg" d="M7.6 14.5H8.8M8.8 12.1H23.7M23.7 16.3H24.1M24.1 10.2H27.4M27.4 9.9H60.5M60.5 8.2H65.6M65.6 12.2H67.0M67.0 5.7H67.5M67.5 10.8H68.9M68.9 6.8H86.6M86.6 9.5H106.2M106.2 8.2H145.8M145.8 6.4H146.3M146.3 12.5H150.9M150.9 2.1H151.4M151.4 10.2H165.6"/>
<rect x="0" y="0" width="173.51" height="20.495" fill="none" stroke="#7f7f7f" stroke-opacity="0.6" stroke-width="1.4"/>
</g>
<g transform="translate(414.92 366.170)">
<use href="#bg"/><use href="#p2"/>
<path class="seg" d="M7.6 14.5H8.8M8.8 12.1H23.7M23.7 16.3H24.1M24.1 10.2H27.4M27.4 9.9H60.5M60.5 8.2H65.6M65.6 12.2H67.0M67.0 5.7H67.5M67.5 10.8H68.9M68.9 6.8H86.6M86.6 9.5H106.2M106.2 8.2H145.8M145.8 6.4H146.3M146.3 11.6H149.1M149.1 13.9H150.9M150.9 2.1H151.4M151.4 10.2H165.6"/>
<rect x="0" y="0" width="173.51" height="20.495" fill="none" stroke="#7f7f7f" stroke-opacity="0.6" stroke-width="1.4"/>
</g>
<g transform="translate(414.92 386.665)">
<use href="#bg"/><use href="#p2"/>
<path class="seg" d="M7.6 14.5H8.8M8.8 12.1H23.7M23.7 16.3H24.1M24.1 10.2H27.4M27.4 9.9H60.5M60.5 8.2H65.6M65.6 12.2H67.0M67.0 5.7H67.5M67.5 10.8H68.9M68.9 6.8H86.6M86.6 9.5H106.2M106.2 8.2H145.8M145.8 6.4H146.3M146.3 11.6H149.1M149.1 18.7H149.5M149.5 12.3H150.9M150.9 2.1H151.4M151.4 10.2H165.6"/>
<rect x="0" y="0" width="173.51" height="20.495" fill="none" stroke="#7f7f7f" stroke-opacity="0.6" stroke-width="1.4"/>
</g>
<g transform="translate(414.92 407.160)">
<use href="#bg"/><use href="#p2"/>
<path class="seg" d="M7.6 14.5H8.8M8.8 12.1H23.7M23.7 16.3H24.1M24.1 10.2H27.4M27.4 9.9H60.5M60.5 8.2H65.6M65.6 12.2H67.0M67.0 5.7H67.5M67.5 10.8H68.9M68.9 6.8H86.6M86.6 9.5H106.2M106.2 8.2H145.8M145.8 6.4H146.3M146.3 13.1H147.7M147.7 10.0H149.1M149.1 18.7H149.5M149.5 12.3H150.9M150.9 2.1H151.4M151.4 10.2H165.6"/>
<rect x="0" y="0" width="173.51" height="20.495" fill="none" stroke="#7f7f7f" stroke-opacity="0.6" stroke-width="1.4"/>
</g>
<g transform="translate(414.92 427.655)">
<use href="#bg"/><use href="#p2"/>
<path class="seg" d="M7.6 11.7H7.8M7.8 15.9H8.8M8.8 12.1H23.7M23.7 16.3H24.1M24.1 10.2H27.4M27.4 9.9H60.5M60.5 8.2H65.6M65.6 12.2H67.0M67.0 5.7H67.5M67.5 10.8H68.9M68.9 6.8H86.6M86.6 9.5H106.2M106.2 8.2H145.8M145.8 6.4H146.3M146.3 13.1H147.7M147.7 10.0H149.1M149.1 18.7H149.5M149.5 12.3H150.9M150.9 2.1H151.4M151.4 10.2H165.6"/>
<rect x="0" y="0" width="173.51" height="20.495" fill="none" stroke="#7f7f7f" stroke-opacity="0.6" stroke-width="1.4"/>
</g>
<g transform="translate(588.43 38.250)">
<use href="#bg"/><use href="#p3"/>
<path class="seg" d="M7.6 9.6H165.6"/>
<rect x="0" y="0" width="173.51" height="20.495" fill="none" stroke="#7f7f7f" stroke-opacity="0.6" stroke-width="1.4"/>
</g>
<g transform="translate(588.43 58.745)">
<use href="#bg"/><use href="#p3"/>
<path class="seg" d="M7.6 13.1H27.2M27.2 9.1H165.6"/>
<rect x="0" y="0" width="173.51" height="20.495" fill="none" stroke="#7f7f7f" stroke-opacity="0.6" stroke-width="1.4"/>
</g>
<g transform="translate(588.43 79.240)">
<use href="#bg"/><use href="#p3"/>
<path class="seg" d="M7.6 13.1H27.2M27.2 9.8H66.5M66.5 8.8H165.6"/>
<rect x="0" y="0" width="173.51" height="20.495" fill="none" stroke="#7f7f7f" stroke-opacity="0.6" stroke-width="1.4"/>
</g>
<g transform="translate(588.43 99.735)">
<use href="#bg"/><use href="#p3"/>
<path class="seg" d="M7.6 13.1H27.2M27.2 9.8H66.5M66.5 8.5H146.0M146.0 10.1H165.6"/>
<rect x="0" y="0" width="173.51" height="20.495" fill="none" stroke="#7f7f7f" stroke-opacity="0.6" stroke-width="1.4"/>
</g>
<g transform="translate(588.43 120.230)">
<use href="#bg"/><use href="#p3"/>
<path class="seg" d="M7.6 13.1H27.2M27.2 9.8H66.5M66.5 7.6H86.6M86.6 8.9H146.0M146.0 10.1H165.6"/>
<rect x="0" y="0" width="173.51" height="20.495" fill="none" stroke="#7f7f7f" stroke-opacity="0.6" stroke-width="1.4"/>
</g>
<g transform="translate(588.43 140.725)">
<use href="#bg"/><use href="#p3"/>
<path class="seg" d="M7.6 13.1H27.2M27.2 9.8H66.5M66.5 7.6H86.6M86.6 9.7H106.7M106.7 8.4H146.0M146.0 10.1H165.6"/>
<rect x="0" y="0" width="173.51" height="20.495" fill="none" stroke="#7f7f7f" stroke-opacity="0.6" stroke-width="1.4"/>
</g>
<g transform="translate(588.43 161.220)">
<use href="#bg"/><use href="#p3"/>
<path class="seg" d="M7.6 12.8H24.7M24.7 15.4H27.2M27.2 9.8H66.5M66.5 7.6H86.6M86.6 9.7H106.7M106.7 8.4H146.0M146.0 10.1H165.6"/>
<rect x="0" y="0" width="173.51" height="20.495" fill="none" stroke="#7f7f7f" stroke-opacity="0.6" stroke-width="1.4"/>
</g>
<g transform="translate(588.43 181.715)">
<use href="#bg"/><use href="#p3"/>
<path class="seg" d="M7.6 12.8H24.7M24.7 15.4H27.2M27.2 9.8H66.5M66.5 7.6H86.6M86.6 9.7H106.7M106.7 8.4H146.0M146.0 10.6H159.3M159.3 8.9H165.6"/>
<rect x="0" y="0" width="173.51" height="20.495" fill="none" stroke="#7f7f7f" stroke-opacity="0.6" stroke-width="1.4"/>
</g>
<g transform="translate(588.43 202.210)">
<use href="#bg"/><use href="#p3"/>
<path class="seg" d="M7.6 12.8H24.7M24.7 15.4H27.2M27.2 9.8H66.5M66.5 7.6H86.6M86.6 9.7H106.7M106.7 8.4H146.0M146.0 10.6H159.3M159.3 5.2H161.0M161.0 10.2H165.6"/>
<rect x="0" y="0" width="173.51" height="20.495" fill="none" stroke="#7f7f7f" stroke-opacity="0.6" stroke-width="1.4"/>
</g>
<g transform="translate(588.43 222.705)">
<use href="#bg"/><use href="#p3"/>
<path class="seg" d="M7.6 12.8H24.7M24.7 17.0H26.4M26.4 12.3H27.2M27.2 9.8H66.5M66.5 7.6H86.6M86.6 9.7H106.7M106.7 8.4H146.0M146.0 10.6H159.3M159.3 5.2H161.0M161.0 10.2H165.6"/>
<rect x="0" y="0" width="173.51" height="20.495" fill="none" stroke="#7f7f7f" stroke-opacity="0.6" stroke-width="1.4"/>
</g>
<g transform="translate(588.43 243.200)">
<use href="#bg"/><use href="#p3"/>
<path class="seg" d="M7.6 13.6H16.4M16.4 11.9H24.7M24.7 17.0H26.4M26.4 12.3H27.2M27.2 9.8H66.5M66.5 7.6H86.6M86.6 9.7H106.7M106.7 8.4H146.0M146.0 10.6H159.3M159.3 5.2H161.0M161.0 10.2H165.6"/>
<rect x="0" y="0" width="173.51" height="20.495" fill="none" stroke="#7f7f7f" stroke-opacity="0.6" stroke-width="1.4"/>
</g>
<g transform="translate(588.43 263.695)">
<use href="#bg"/><use href="#p3"/>
<path class="seg" d="M7.6 13.6H16.4M16.4 11.9H24.7M24.7 17.0H26.4M26.4 12.3H27.2M27.2 9.4H54.0M54.0 10.6H66.5M66.5 7.6H86.6M86.6 9.7H106.7M106.7 8.4H146.0M146.0 10.6H159.3M159.3 5.2H161.0M161.0 10.2H165.6"/>
<rect x="0" y="0" width="173.51" height="20.495" fill="none" stroke="#7f7f7f" stroke-opacity="0.6" stroke-width="1.4"/>
</g>
<g transform="translate(588.43 284.190)">
<use href="#bg"/><use href="#p3"/>
<path class="seg" d="M7.6 13.6H16.4M16.4 11.9H24.7M24.7 17.0H26.4M26.4 12.3H27.2M27.2 9.9H48.1M48.1 7.9H54.0M54.0 10.6H66.5M66.5 7.6H86.6M86.6 9.7H106.7M106.7 8.4H146.0M146.0 10.6H159.3M159.3 5.2H161.0M161.0 10.2H165.6"/>
<rect x="0" y="0" width="173.51" height="20.495" fill="none" stroke="#7f7f7f" stroke-opacity="0.6" stroke-width="1.4"/>
</g>
<g transform="translate(588.43 304.685)">
<use href="#bg"/><use href="#p3"/>
<path class="seg" d="M7.6 13.6H16.4M16.4 11.9H24.7M24.7 17.0H26.4M26.4 12.3H27.2M27.2 8.1H30.6M30.6 10.2H48.1M48.1 7.9H54.0M54.0 10.6H66.5M66.5 7.6H86.6M86.6 9.7H106.7M106.7 8.4H146.0M146.0 10.6H159.3M159.3 5.2H161.0M161.0 10.2H165.6"/>
<rect x="0" y="0" width="173.51" height="20.495" fill="none" stroke="#7f7f7f" stroke-opacity="0.6" stroke-width="1.4"/>
</g>
<g transform="translate(588.43 325.180)">
<use href="#bg"/><use href="#p3"/>
<path class="seg" d="M7.6 13.6H16.4M16.4 11.9H24.7M24.7 17.0H26.4M26.4 12.3H27.2M27.2 8.1H30.6M30.6 10.2H48.1M48.1 7.9H54.0M54.0 10.6H66.5M66.5 7.6H86.6M86.6 8.5H91.6M91.6 10.2H106.7M106.7 8.4H146.0M146.0 10.6H159.3M159.3 5.2H161.0M161.0 10.2H165.6"/>
<rect x="0" y="0" width="173.51" height="20.495" fill="none" stroke="#7f7f7f" stroke-opacity="0.6" stroke-width="1.4"/>
</g>
<g transform="translate(588.43 345.675)">
<use href="#bg"/><use href="#p3"/>
<path class="seg" d="M7.6 13.3H15.5M15.5 16.9H16.4M16.4 11.9H24.7M24.7 17.0H26.4M26.4 12.3H27.2M27.2 8.1H30.6M30.6 10.2H48.1M48.1 7.9H54.0M54.0 10.6H66.5M66.5 7.6H86.6M86.6 8.5H91.6M91.6 10.2H106.7M106.7 8.4H146.0M146.0 10.6H159.3M159.3 5.2H161.0M161.0 10.2H165.6"/>
<rect x="0" y="0" width="173.51" height="20.495" fill="none" stroke="#7f7f7f" stroke-opacity="0.6" stroke-width="1.4"/>
</g>
<g transform="translate(588.43 366.170)">
<use href="#bg"/><use href="#p3"/>
<path class="seg" d="M7.6 13.3H15.5M15.5 16.9H16.4M16.4 11.9H24.7M24.7 17.0H26.4M26.4 12.3H27.2M27.2 8.1H30.6M30.6 11.5H34.8M34.8 9.8H48.1M48.1 7.9H54.0M54.0 10.6H66.5M66.5 7.6H86.6M86.6 8.5H91.6M91.6 10.2H106.7M106.7 8.4H146.0M146.0 10.6H159.3M159.3 5.2H161.0M161.0 10.2H165.6"/>
<rect x="0" y="0" width="173.51" height="20.495" fill="none" stroke="#7f7f7f" stroke-opacity="0.6" stroke-width="1.4"/>
</g>
<g transform="translate(588.43 386.665)">
<use href="#bg"/><use href="#p3"/>
<path class="seg" d="M7.6 13.3H15.5M15.5 16.9H16.4M16.4 11.9H24.7M24.7 17.0H26.4M26.4 12.3H27.2M27.2 8.1H30.6M30.6 11.5H34.8M34.8 9.8H48.1M48.1 7.9H54.0M54.0 10.6H66.5M66.5 7.6H86.6M86.6 8.5H91.6M91.6 10.2H106.7M106.7 8.2H137.6M137.6 9.3H146.0M146.0 10.6H159.3M159.3 5.2H161.0M161.0 10.2H165.6"/>
<rect x="0" y="0" width="173.51" height="20.495" fill="none" stroke="#7f7f7f" stroke-opacity="0.6" stroke-width="1.4"/>
</g>
<g transform="translate(588.43 407.160)">
<use href="#bg"/><use href="#p3"/>
<path class="seg" d="M7.6 13.3H15.5M15.5 16.9H16.4M16.4 11.9H24.7M24.7 17.0H26.4M26.4 12.3H27.2M27.2 8.1H30.6M30.6 11.5H34.8M34.8 9.8H48.1M48.1 7.9H54.0M54.0 10.6H66.5M66.5 7.6H86.6M86.6 8.5H91.6M91.6 10.2H106.7M106.7 8.4H135.1M135.1 5.3H137.6M137.6 9.3H146.0M146.0 10.6H159.3M159.3 5.2H161.0M161.0 10.2H165.6"/>
<rect x="0" y="0" width="173.51" height="20.495" fill="none" stroke="#7f7f7f" stroke-opacity="0.6" stroke-width="1.4"/>
</g>
<g transform="translate(588.43 427.655)">
<use href="#bg"/><use href="#p3"/>
<path class="seg" d="M7.6 13.3H15.5M15.5 16.9H16.4M16.4 11.9H24.7M24.7 17.0H26.4M26.4 12.3H27.2M27.2 8.1H30.6M30.6 11.5H34.8M34.8 9.8H48.1M48.1 7.9H54.0M54.0 11.4H59.8M59.8 9.8H66.5M66.5 7.6H86.6M86.6 8.5H91.6M91.6 10.2H106.7M106.7 8.4H135.1M135.1 5.3H137.6M137.6 9.3H146.0M146.0 10.6H159.3M159.3 5.2H161.0M161.0 10.2H165.6"/>
<rect x="0" y="0" width="173.51" height="20.495" fill="none" stroke="#7f7f7f" stroke-opacity="0.6" stroke-width="1.4"/>
</g>
<line x1="63.4" x2="67.9" y1="38.25" y2="38.25" stroke="#000" stroke-opacity="0.85" stroke-width="1.45"/>
<text class="ax" x="60.5" y="44.50" text-anchor="end">5.0</text>
<line x1="63.4" x2="67.9" y1="43.37" y2="43.37" stroke="#000" stroke-opacity="0.85" stroke-width="1.45"/>
<text class="ax" x="60.5" y="49.62" text-anchor="end">2.5</text>
<line x1="63.4" x2="67.9" y1="48.50" y2="48.50" stroke="#000" stroke-opacity="0.85" stroke-width="1.45"/>
<text class="ax" x="60.5" y="54.75" text-anchor="end">0.0</text>
<line x1="63.4" x2="67.9" y1="53.62" y2="53.62" stroke="#000" stroke-opacity="0.85" stroke-width="1.45"/>
<text class="ax" x="60.5" y="59.87" text-anchor="end"><tspan letter-spacing="0.8">-</tspan>2.5</text>
<line x1="63.4" x2="67.9" y1="58.74" y2="58.74" stroke="#000" stroke-opacity="0.85" stroke-width="1.45"/>
<text class="ax" x="60.5" y="65.00" text-anchor="end"><tspan letter-spacing="0.8">-</tspan>5.0</text>
<line x1="63.4" x2="67.9" y1="58.74" y2="58.74" stroke="#000" stroke-opacity="0.85" stroke-width="1.45"/>
<line x1="63.4" x2="67.9" y1="63.87" y2="63.87" stroke="#000" stroke-opacity="0.85" stroke-width="1.45"/>
<text class="ax" x="60.5" y="70.12" text-anchor="end">2.5</text>
<line x1="63.4" x2="67.9" y1="68.99" y2="68.99" stroke="#000" stroke-opacity="0.85" stroke-width="1.45"/>
<text class="ax" x="60.5" y="75.24" text-anchor="end">0.0</text>
<line x1="63.4" x2="67.9" y1="74.12" y2="74.12" stroke="#000" stroke-opacity="0.85" stroke-width="1.45"/>
<text class="ax" x="60.5" y="80.37" text-anchor="end"><tspan letter-spacing="0.8">-</tspan>2.5</text>
<line x1="63.4" x2="67.9" y1="79.24" y2="79.24" stroke="#000" stroke-opacity="0.85" stroke-width="1.45"/>
<text class="ax" x="60.5" y="85.49" text-anchor="end"><tspan letter-spacing="0.8">-</tspan>5.0</text>
<line x1="63.4" x2="67.9" y1="79.24" y2="79.24" stroke="#000" stroke-opacity="0.85" stroke-width="1.45"/>
<line x1="63.4" x2="67.9" y1="84.36" y2="84.36" stroke="#000" stroke-opacity="0.85" stroke-width="1.45"/>
<text class="ax" x="60.5" y="90.61" text-anchor="end">2.5</text>
<line x1="63.4" x2="67.9" y1="89.49" y2="89.49" stroke="#000" stroke-opacity="0.85" stroke-width="1.45"/>
<text class="ax" x="60.5" y="95.74" text-anchor="end">0.0</text>
<line x1="63.4" x2="67.9" y1="94.61" y2="94.61" stroke="#000" stroke-opacity="0.85" stroke-width="1.45"/>
<text class="ax" x="60.5" y="100.86" text-anchor="end"><tspan letter-spacing="0.8">-</tspan>2.5</text>
<line x1="63.4" x2="67.9" y1="99.73" y2="99.73" stroke="#000" stroke-opacity="0.85" stroke-width="1.45"/>
<text class="ax" x="60.5" y="105.98" text-anchor="end"><tspan letter-spacing="0.8">-</tspan>5.0</text>
<line x1="63.4" x2="67.9" y1="99.73" y2="99.73" stroke="#000" stroke-opacity="0.85" stroke-width="1.45"/>
<line x1="63.4" x2="67.9" y1="104.86" y2="104.86" stroke="#000" stroke-opacity="0.85" stroke-width="1.45"/>
<text class="ax" x="60.5" y="111.11" text-anchor="end">2.5</text>
<line x1="63.4" x2="67.9" y1="109.98" y2="109.98" stroke="#000" stroke-opacity="0.85" stroke-width="1.45"/>
<text class="ax" x="60.5" y="116.23" text-anchor="end">0.0</text>
<line x1="63.4" x2="67.9" y1="115.11" y2="115.11" stroke="#000" stroke-opacity="0.85" stroke-width="1.45"/>
<text class="ax" x="60.5" y="121.36" text-anchor="end"><tspan letter-spacing="0.8">-</tspan>2.5</text>
<line x1="63.4" x2="67.9" y1="120.23" y2="120.23" stroke="#000" stroke-opacity="0.85" stroke-width="1.45"/>
<text class="ax" x="60.5" y="126.48" text-anchor="end"><tspan letter-spacing="0.8">-</tspan>5.0</text>
<line x1="63.4" x2="67.9" y1="120.23" y2="120.23" stroke="#000" stroke-opacity="0.85" stroke-width="1.45"/>
<line x1="63.4" x2="67.9" y1="125.35" y2="125.35" stroke="#000" stroke-opacity="0.85" stroke-width="1.45"/>
<text class="ax" x="60.5" y="131.60" text-anchor="end">2.5</text>
<line x1="63.4" x2="67.9" y1="130.48" y2="130.48" stroke="#000" stroke-opacity="0.85" stroke-width="1.45"/>
<text class="ax" x="60.5" y="136.73" text-anchor="end">0.0</text>
<line x1="63.4" x2="67.9" y1="135.60" y2="135.60" stroke="#000" stroke-opacity="0.85" stroke-width="1.45"/>
<text class="ax" x="60.5" y="141.85" text-anchor="end"><tspan letter-spacing="0.8">-</tspan>2.5</text>
<line x1="63.4" x2="67.9" y1="140.72" y2="140.72" stroke="#000" stroke-opacity="0.85" stroke-width="1.45"/>
<text class="ax" x="60.5" y="146.97" text-anchor="end"><tspan letter-spacing="0.8">-</tspan>5.0</text>
<line x1="63.4" x2="67.9" y1="140.72" y2="140.72" stroke="#000" stroke-opacity="0.85" stroke-width="1.45"/>
<line x1="63.4" x2="67.9" y1="145.85" y2="145.85" stroke="#000" stroke-opacity="0.85" stroke-width="1.45"/>
<text class="ax" x="60.5" y="152.10" text-anchor="end">2.5</text>
<line x1="63.4" x2="67.9" y1="150.97" y2="150.97" stroke="#000" stroke-opacity="0.85" stroke-width="1.45"/>
<text class="ax" x="60.5" y="157.22" text-anchor="end">0.0</text>
<line x1="63.4" x2="67.9" y1="156.10" y2="156.10" stroke="#000" stroke-opacity="0.85" stroke-width="1.45"/>
<text class="ax" x="60.5" y="162.35" text-anchor="end"><tspan letter-spacing="0.8">-</tspan>2.5</text>
<line x1="63.4" x2="67.9" y1="161.22" y2="161.22" stroke="#000" stroke-opacity="0.85" stroke-width="1.45"/>
<text class="ax" x="60.5" y="167.47" text-anchor="end"><tspan letter-spacing="0.8">-</tspan>5.0</text>
<line x1="63.4" x2="67.9" y1="161.22" y2="161.22" stroke="#000" stroke-opacity="0.85" stroke-width="1.45"/>
<line x1="63.4" x2="67.9" y1="166.34" y2="166.34" stroke="#000" stroke-opacity="0.85" stroke-width="1.45"/>
<text class="ax" x="60.5" y="172.59" text-anchor="end">2.5</text>
<line x1="63.4" x2="67.9" y1="171.47" y2="171.47" stroke="#000" stroke-opacity="0.85" stroke-width="1.45"/>
<text class="ax" x="60.5" y="177.72" text-anchor="end">0.0</text>
<line x1="63.4" x2="67.9" y1="176.59" y2="176.59" stroke="#000" stroke-opacity="0.85" stroke-width="1.45"/>
<text class="ax" x="60.5" y="182.84" text-anchor="end"><tspan letter-spacing="0.8">-</tspan>2.5</text>
<line x1="63.4" x2="67.9" y1="181.71" y2="181.71" stroke="#000" stroke-opacity="0.85" stroke-width="1.45"/>
<text class="ax" x="60.5" y="187.96" text-anchor="end"><tspan letter-spacing="0.8">-</tspan>5.0</text>
<line x1="63.4" x2="67.9" y1="181.71" y2="181.71" stroke="#000" stroke-opacity="0.85" stroke-width="1.45"/>
<line x1="63.4" x2="67.9" y1="186.84" y2="186.84" stroke="#000" stroke-opacity="0.85" stroke-width="1.45"/>
<text class="ax" x="60.5" y="193.09" text-anchor="end">2.5</text>
<line x1="63.4" x2="67.9" y1="191.96" y2="191.96" stroke="#000" stroke-opacity="0.85" stroke-width="1.45"/>
<text class="ax" x="60.5" y="198.21" text-anchor="end">0.0</text>
<line x1="63.4" x2="67.9" y1="197.09" y2="197.09" stroke="#000" stroke-opacity="0.85" stroke-width="1.45"/>
<text class="ax" x="60.5" y="203.34" text-anchor="end"><tspan letter-spacing="0.8">-</tspan>2.5</text>
<line x1="63.4" x2="67.9" y1="202.21" y2="202.21" stroke="#000" stroke-opacity="0.85" stroke-width="1.45"/>
<text class="ax" x="60.5" y="208.46" text-anchor="end"><tspan letter-spacing="0.8">-</tspan>5.0</text>
<line x1="63.4" x2="67.9" y1="202.21" y2="202.21" stroke="#000" stroke-opacity="0.85" stroke-width="1.45"/>
<line x1="63.4" x2="67.9" y1="207.33" y2="207.33" stroke="#000" stroke-opacity="0.85" stroke-width="1.45"/>
<text class="ax" x="60.5" y="213.58" text-anchor="end">2.5</text>
<line x1="63.4" x2="67.9" y1="212.46" y2="212.46" stroke="#000" stroke-opacity="0.85" stroke-width="1.45"/>
<text class="ax" x="60.5" y="218.71" text-anchor="end">0.0</text>
<line x1="63.4" x2="67.9" y1="217.58" y2="217.58" stroke="#000" stroke-opacity="0.85" stroke-width="1.45"/>
<text class="ax" x="60.5" y="223.83" text-anchor="end"><tspan letter-spacing="0.8">-</tspan>2.5</text>
<line x1="63.4" x2="67.9" y1="222.70" y2="222.70" stroke="#000" stroke-opacity="0.85" stroke-width="1.45"/>
<text class="ax" x="60.5" y="228.95" text-anchor="end"><tspan letter-spacing="0.8">-</tspan>5.0</text>
<line x1="63.4" x2="67.9" y1="222.70" y2="222.70" stroke="#000" stroke-opacity="0.85" stroke-width="1.45"/>
<line x1="63.4" x2="67.9" y1="227.83" y2="227.83" stroke="#000" stroke-opacity="0.85" stroke-width="1.45"/>
<text class="ax" x="60.5" y="234.08" text-anchor="end">2.5</text>
<line x1="63.4" x2="67.9" y1="232.95" y2="232.95" stroke="#000" stroke-opacity="0.85" stroke-width="1.45"/>
<text class="ax" x="60.5" y="239.20" text-anchor="end">0.0</text>
<line x1="63.4" x2="67.9" y1="238.08" y2="238.08" stroke="#000" stroke-opacity="0.85" stroke-width="1.45"/>
<text class="ax" x="60.5" y="244.33" text-anchor="end"><tspan letter-spacing="0.8">-</tspan>2.5</text>
<line x1="63.4" x2="67.9" y1="243.20" y2="243.20" stroke="#000" stroke-opacity="0.85" stroke-width="1.45"/>
<text class="ax" x="60.5" y="249.45" text-anchor="end"><tspan letter-spacing="0.8">-</tspan>5.0</text>
<line x1="63.4" x2="67.9" y1="243.20" y2="243.20" stroke="#000" stroke-opacity="0.85" stroke-width="1.45"/>
<line x1="63.4" x2="67.9" y1="248.32" y2="248.32" stroke="#000" stroke-opacity="0.85" stroke-width="1.45"/>
<text class="ax" x="60.5" y="254.57" text-anchor="end">2.5</text>
<line x1="63.4" x2="67.9" y1="253.45" y2="253.45" stroke="#000" stroke-opacity="0.85" stroke-width="1.45"/>
<text class="ax" x="60.5" y="259.70" text-anchor="end">0.0</text>
<line x1="63.4" x2="67.9" y1="258.57" y2="258.57" stroke="#000" stroke-opacity="0.85" stroke-width="1.45"/>
<text class="ax" x="60.5" y="264.82" text-anchor="end"><tspan letter-spacing="0.8">-</tspan>2.5</text>
<line x1="63.4" x2="67.9" y1="263.69" y2="263.69" stroke="#000" stroke-opacity="0.85" stroke-width="1.45"/>
<text class="ax" x="60.5" y="269.94" text-anchor="end"><tspan letter-spacing="0.8">-</tspan>5.0</text>
<line x1="63.4" x2="67.9" y1="263.69" y2="263.69" stroke="#000" stroke-opacity="0.85" stroke-width="1.45"/>
<line x1="63.4" x2="67.9" y1="268.82" y2="268.82" stroke="#000" stroke-opacity="0.85" stroke-width="1.45"/>
<text class="ax" x="60.5" y="275.07" text-anchor="end">2.5</text>
<line x1="63.4" x2="67.9" y1="273.94" y2="273.94" stroke="#000" stroke-opacity="0.85" stroke-width="1.45"/>
<text class="ax" x="60.5" y="280.19" text-anchor="end">0.0</text>
<line x1="63.4" x2="67.9" y1="279.07" y2="279.07" stroke="#000" stroke-opacity="0.85" stroke-width="1.45"/>
<text class="ax" x="60.5" y="285.32" text-anchor="end"><tspan letter-spacing="0.8">-</tspan>2.5</text>
<line x1="63.4" x2="67.9" y1="284.19" y2="284.19" stroke="#000" stroke-opacity="0.85" stroke-width="1.45"/>
<text class="ax" x="60.5" y="290.44" text-anchor="end"><tspan letter-spacing="0.8">-</tspan>5.0</text>
<line x1="63.4" x2="67.9" y1="284.19" y2="284.19" stroke="#000" stroke-opacity="0.85" stroke-width="1.45"/>
<line x1="63.4" x2="67.9" y1="289.31" y2="289.31" stroke="#000" stroke-opacity="0.85" stroke-width="1.45"/>
<text class="ax" x="60.5" y="295.56" text-anchor="end">2.5</text>
<line x1="63.4" x2="67.9" y1="294.44" y2="294.44" stroke="#000" stroke-opacity="0.85" stroke-width="1.45"/>
<text class="ax" x="60.5" y="300.69" text-anchor="end">0.0</text>
<line x1="63.4" x2="67.9" y1="299.56" y2="299.56" stroke="#000" stroke-opacity="0.85" stroke-width="1.45"/>
<text class="ax" x="60.5" y="305.81" text-anchor="end"><tspan letter-spacing="0.8">-</tspan>2.5</text>
<line x1="63.4" x2="67.9" y1="304.68" y2="304.68" stroke="#000" stroke-opacity="0.85" stroke-width="1.45"/>
<text class="ax" x="60.5" y="310.93" text-anchor="end"><tspan letter-spacing="0.8">-</tspan>5.0</text>
<line x1="63.4" x2="67.9" y1="304.68" y2="304.68" stroke="#000" stroke-opacity="0.85" stroke-width="1.45"/>
<line x1="63.4" x2="67.9" y1="309.81" y2="309.81" stroke="#000" stroke-opacity="0.85" stroke-width="1.45"/>
<text class="ax" x="60.5" y="316.06" text-anchor="end">2.5</text>
<line x1="63.4" x2="67.9" y1="314.93" y2="314.93" stroke="#000" stroke-opacity="0.85" stroke-width="1.45"/>
<text class="ax" x="60.5" y="321.18" text-anchor="end">0.0</text>
<line x1="63.4" x2="67.9" y1="320.06" y2="320.06" stroke="#000" stroke-opacity="0.85" stroke-width="1.45"/>
<text class="ax" x="60.5" y="326.31" text-anchor="end"><tspan letter-spacing="0.8">-</tspan>2.5</text>
<line x1="63.4" x2="67.9" y1="325.18" y2="325.18" stroke="#000" stroke-opacity="0.85" stroke-width="1.45"/>
<text class="ax" x="60.5" y="331.43" text-anchor="end"><tspan letter-spacing="0.8">-</tspan>5.0</text>
<line x1="63.4" x2="67.9" y1="325.18" y2="325.18" stroke="#000" stroke-opacity="0.85" stroke-width="1.45"/>
<line x1="63.4" x2="67.9" y1="330.30" y2="330.30" stroke="#000" stroke-opacity="0.85" stroke-width="1.45"/>
<text class="ax" x="60.5" y="336.55" text-anchor="end">2.5</text>
<line x1="63.4" x2="67.9" y1="335.43" y2="335.43" stroke="#000" stroke-opacity="0.85" stroke-width="1.45"/>
<text class="ax" x="60.5" y="341.68" text-anchor="end">0.0</text>
<line x1="63.4" x2="67.9" y1="340.55" y2="340.55" stroke="#000" stroke-opacity="0.85" stroke-width="1.45"/>
<text class="ax" x="60.5" y="346.80" text-anchor="end"><tspan letter-spacing="0.8">-</tspan>2.5</text>
<line x1="63.4" x2="67.9" y1="345.67" y2="345.67" stroke="#000" stroke-opacity="0.85" stroke-width="1.45"/>
<text class="ax" x="60.5" y="351.92" text-anchor="end"><tspan letter-spacing="0.8">-</tspan>5.0</text>
<line x1="63.4" x2="67.9" y1="345.67" y2="345.67" stroke="#000" stroke-opacity="0.85" stroke-width="1.45"/>
<line x1="63.4" x2="67.9" y1="350.80" y2="350.80" stroke="#000" stroke-opacity="0.85" stroke-width="1.45"/>
<text class="ax" x="60.5" y="357.05" text-anchor="end">2.5</text>
<line x1="63.4" x2="67.9" y1="355.92" y2="355.92" stroke="#000" stroke-opacity="0.85" stroke-width="1.45"/>
<text class="ax" x="60.5" y="362.17" text-anchor="end">0.0</text>
<line x1="63.4" x2="67.9" y1="361.05" y2="361.05" stroke="#000" stroke-opacity="0.85" stroke-width="1.45"/>
<text class="ax" x="60.5" y="367.30" text-anchor="end"><tspan letter-spacing="0.8">-</tspan>2.5</text>
<line x1="63.4" x2="67.9" y1="366.17" y2="366.17" stroke="#000" stroke-opacity="0.85" stroke-width="1.45"/>
<text class="ax" x="60.5" y="372.42" text-anchor="end"><tspan letter-spacing="0.8">-</tspan>5.0</text>
<line x1="63.4" x2="67.9" y1="366.17" y2="366.17" stroke="#000" stroke-opacity="0.85" stroke-width="1.45"/>
<line x1="63.4" x2="67.9" y1="371.29" y2="371.29" stroke="#000" stroke-opacity="0.85" stroke-width="1.45"/>
<text class="ax" x="60.5" y="377.54" text-anchor="end">2.5</text>
<line x1="63.4" x2="67.9" y1="376.42" y2="376.42" stroke="#000" stroke-opacity="0.85" stroke-width="1.45"/>
<text class="ax" x="60.5" y="382.67" text-anchor="end">0.0</text>
<line x1="63.4" x2="67.9" y1="381.54" y2="381.54" stroke="#000" stroke-opacity="0.85" stroke-width="1.45"/>
<text class="ax" x="60.5" y="387.79" text-anchor="end"><tspan letter-spacing="0.8">-</tspan>2.5</text>
<line x1="63.4" x2="67.9" y1="386.66" y2="386.66" stroke="#000" stroke-opacity="0.85" stroke-width="1.45"/>
<text class="ax" x="60.5" y="392.91" text-anchor="end"><tspan letter-spacing="0.8">-</tspan>5.0</text>
<line x1="63.4" x2="67.9" y1="386.66" y2="386.66" stroke="#000" stroke-opacity="0.85" stroke-width="1.45"/>
<line x1="63.4" x2="67.9" y1="391.79" y2="391.79" stroke="#000" stroke-opacity="0.85" stroke-width="1.45"/>
<text class="ax" x="60.5" y="398.04" text-anchor="end">2.5</text>
<line x1="63.4" x2="67.9" y1="396.91" y2="396.91" stroke="#000" stroke-opacity="0.85" stroke-width="1.45"/>
<text class="ax" x="60.5" y="403.16" text-anchor="end">0.0</text>
<line x1="63.4" x2="67.9" y1="402.04" y2="402.04" stroke="#000" stroke-opacity="0.85" stroke-width="1.45"/>
<text class="ax" x="60.5" y="408.29" text-anchor="end"><tspan letter-spacing="0.8">-</tspan>2.5</text>
<line x1="63.4" x2="67.9" y1="407.16" y2="407.16" stroke="#000" stroke-opacity="0.85" stroke-width="1.45"/>
<text class="ax" x="60.5" y="413.41" text-anchor="end"><tspan letter-spacing="0.8">-</tspan>5.0</text>
<line x1="63.4" x2="67.9" y1="407.16" y2="407.16" stroke="#000" stroke-opacity="0.85" stroke-width="1.45"/>
<line x1="63.4" x2="67.9" y1="412.28" y2="412.28" stroke="#000" stroke-opacity="0.85" stroke-width="1.45"/>
<text class="ax" x="60.5" y="418.53" text-anchor="end">2.5</text>
<line x1="63.4" x2="67.9" y1="417.41" y2="417.41" stroke="#000" stroke-opacity="0.85" stroke-width="1.45"/>
<text class="ax" x="60.5" y="423.66" text-anchor="end">0.0</text>
<line x1="63.4" x2="67.9" y1="422.53" y2="422.53" stroke="#000" stroke-opacity="0.85" stroke-width="1.45"/>
<text class="ax" x="60.5" y="428.78" text-anchor="end"><tspan letter-spacing="0.8">-</tspan>2.5</text>
<line x1="63.4" x2="67.9" y1="427.65" y2="427.65" stroke="#000" stroke-opacity="0.85" stroke-width="1.45"/>
<text class="ax" x="60.5" y="433.90" text-anchor="end"><tspan letter-spacing="0.8">-</tspan>5.0</text>
<line x1="63.4" x2="67.9" y1="427.65" y2="427.65" stroke="#000" stroke-opacity="0.85" stroke-width="1.45"/>
<line x1="63.4" x2="67.9" y1="432.78" y2="432.78" stroke="#000" stroke-opacity="0.85" stroke-width="1.45"/>
<text class="ax" x="60.5" y="439.03" text-anchor="end">2.5</text>
<line x1="63.4" x2="67.9" y1="437.90" y2="437.90" stroke="#000" stroke-opacity="0.85" stroke-width="1.45"/>
<text class="ax" x="60.5" y="444.15" text-anchor="end">0.0</text>
<line x1="63.4" x2="67.9" y1="443.03" y2="443.03" stroke="#000" stroke-opacity="0.85" stroke-width="1.45"/>
<text class="ax" x="60.5" y="449.28" text-anchor="end"><tspan letter-spacing="0.8">-</tspan>2.5</text>
<line x1="63.4" x2="67.9" y1="448.15" y2="448.15" stroke="#000" stroke-opacity="0.85" stroke-width="1.45"/>
<text class="ax" x="60.5" y="454.40" text-anchor="end"><tspan letter-spacing="0.8">-</tspan>5.0</text>
<line x1="75.50" x2="75.50" y1="448.1" y2="452.3" stroke="#000" stroke-width="1.4"/>
<text class="ax" x="75.50" y="469" text-anchor="middle">0</text>
<line x1="115.00" x2="115.00" y1="448.1" y2="452.3" stroke="#000" stroke-width="1.4"/>
<text class="ax" x="115.00" y="469" text-anchor="middle">2</text>
<line x1="154.50" x2="154.50" y1="448.1" y2="452.3" stroke="#000" stroke-width="1.4"/>
<text class="ax" x="154.50" y="469" text-anchor="middle">4</text>
<line x1="194.00" x2="194.00" y1="448.1" y2="452.3" stroke="#000" stroke-width="1.4"/>
<text class="ax" x="194.00" y="469" text-anchor="middle">6</text>
<line x1="233.50" x2="233.50" y1="448.1" y2="452.3" stroke="#000" stroke-width="1.4"/>
<text class="ax" x="233.50" y="469" text-anchor="middle">8</text>
<line x1="249.01" x2="249.01" y1="448.1" y2="452.3" stroke="#000" stroke-width="1.4"/>
<text class="ax" x="249.01" y="469" text-anchor="middle">0</text>
<line x1="288.51" x2="288.51" y1="448.1" y2="452.3" stroke="#000" stroke-width="1.4"/>
<text class="ax" x="288.51" y="469" text-anchor="middle">2</text>
<line x1="328.01" x2="328.01" y1="448.1" y2="452.3" stroke="#000" stroke-width="1.4"/>
<text class="ax" x="328.01" y="469" text-anchor="middle">4</text>
<line x1="367.51" x2="367.51" y1="448.1" y2="452.3" stroke="#000" stroke-width="1.4"/>
<text class="ax" x="367.51" y="469" text-anchor="middle">6</text>
<line x1="407.01" x2="407.01" y1="448.1" y2="452.3" stroke="#000" stroke-width="1.4"/>
<text class="ax" x="407.01" y="469" text-anchor="middle">8</text>
<line x1="422.52" x2="422.52" y1="448.1" y2="452.3" stroke="#000" stroke-width="1.4"/>
<text class="ax" x="422.52" y="469" text-anchor="middle">0</text>
<line x1="462.02" x2="462.02" y1="448.1" y2="452.3" stroke="#000" stroke-width="1.4"/>
<text class="ax" x="462.02" y="469" text-anchor="middle">2</text>
<line x1="501.52" x2="501.52" y1="448.1" y2="452.3" stroke="#000" stroke-width="1.4"/>
<text class="ax" x="501.52" y="469" text-anchor="middle">4</text>
<line x1="541.02" x2="541.02" y1="448.1" y2="452.3" stroke="#000" stroke-width="1.4"/>
<text class="ax" x="541.02" y="469" text-anchor="middle">6</text>
<line x1="580.52" x2="580.52" y1="448.1" y2="452.3" stroke="#000" stroke-width="1.4"/>
<text class="ax" x="580.52" y="469" text-anchor="middle">8</text>
<line x1="596.03" x2="596.03" y1="448.1" y2="452.3" stroke="#000" stroke-width="1.4"/>
<text class="ax" x="596.03" y="469" text-anchor="middle">0</text>
<line x1="635.53" x2="635.53" y1="448.1" y2="452.3" stroke="#000" stroke-width="1.4"/>
<text class="ax" x="635.53" y="469" text-anchor="middle">2</text>
<line x1="675.03" x2="675.03" y1="448.1" y2="452.3" stroke="#000" stroke-width="1.4"/>
<text class="ax" x="675.03" y="469" text-anchor="middle">4</text>
<line x1="714.53" x2="714.53" y1="448.1" y2="452.3" stroke="#000" stroke-width="1.4"/>
<text class="ax" x="714.53" y="469" text-anchor="middle">6</text>
<line x1="754.03" x2="754.03" y1="448.1" y2="452.3" stroke="#000" stroke-width="1.4"/>
<text class="ax" x="754.03" y="469" text-anchor="middle">8</text>
<text x="415.72" y="487.9" text-anchor="middle" fill="#000" style="font-size:16.6px">position/1e+05</text>
<text transform="translate(24.8 243.50) rotate(-90)" text-anchor="middle" fill="#000" style="font-size:16.6px">signal</text>
</svg></body></html>
